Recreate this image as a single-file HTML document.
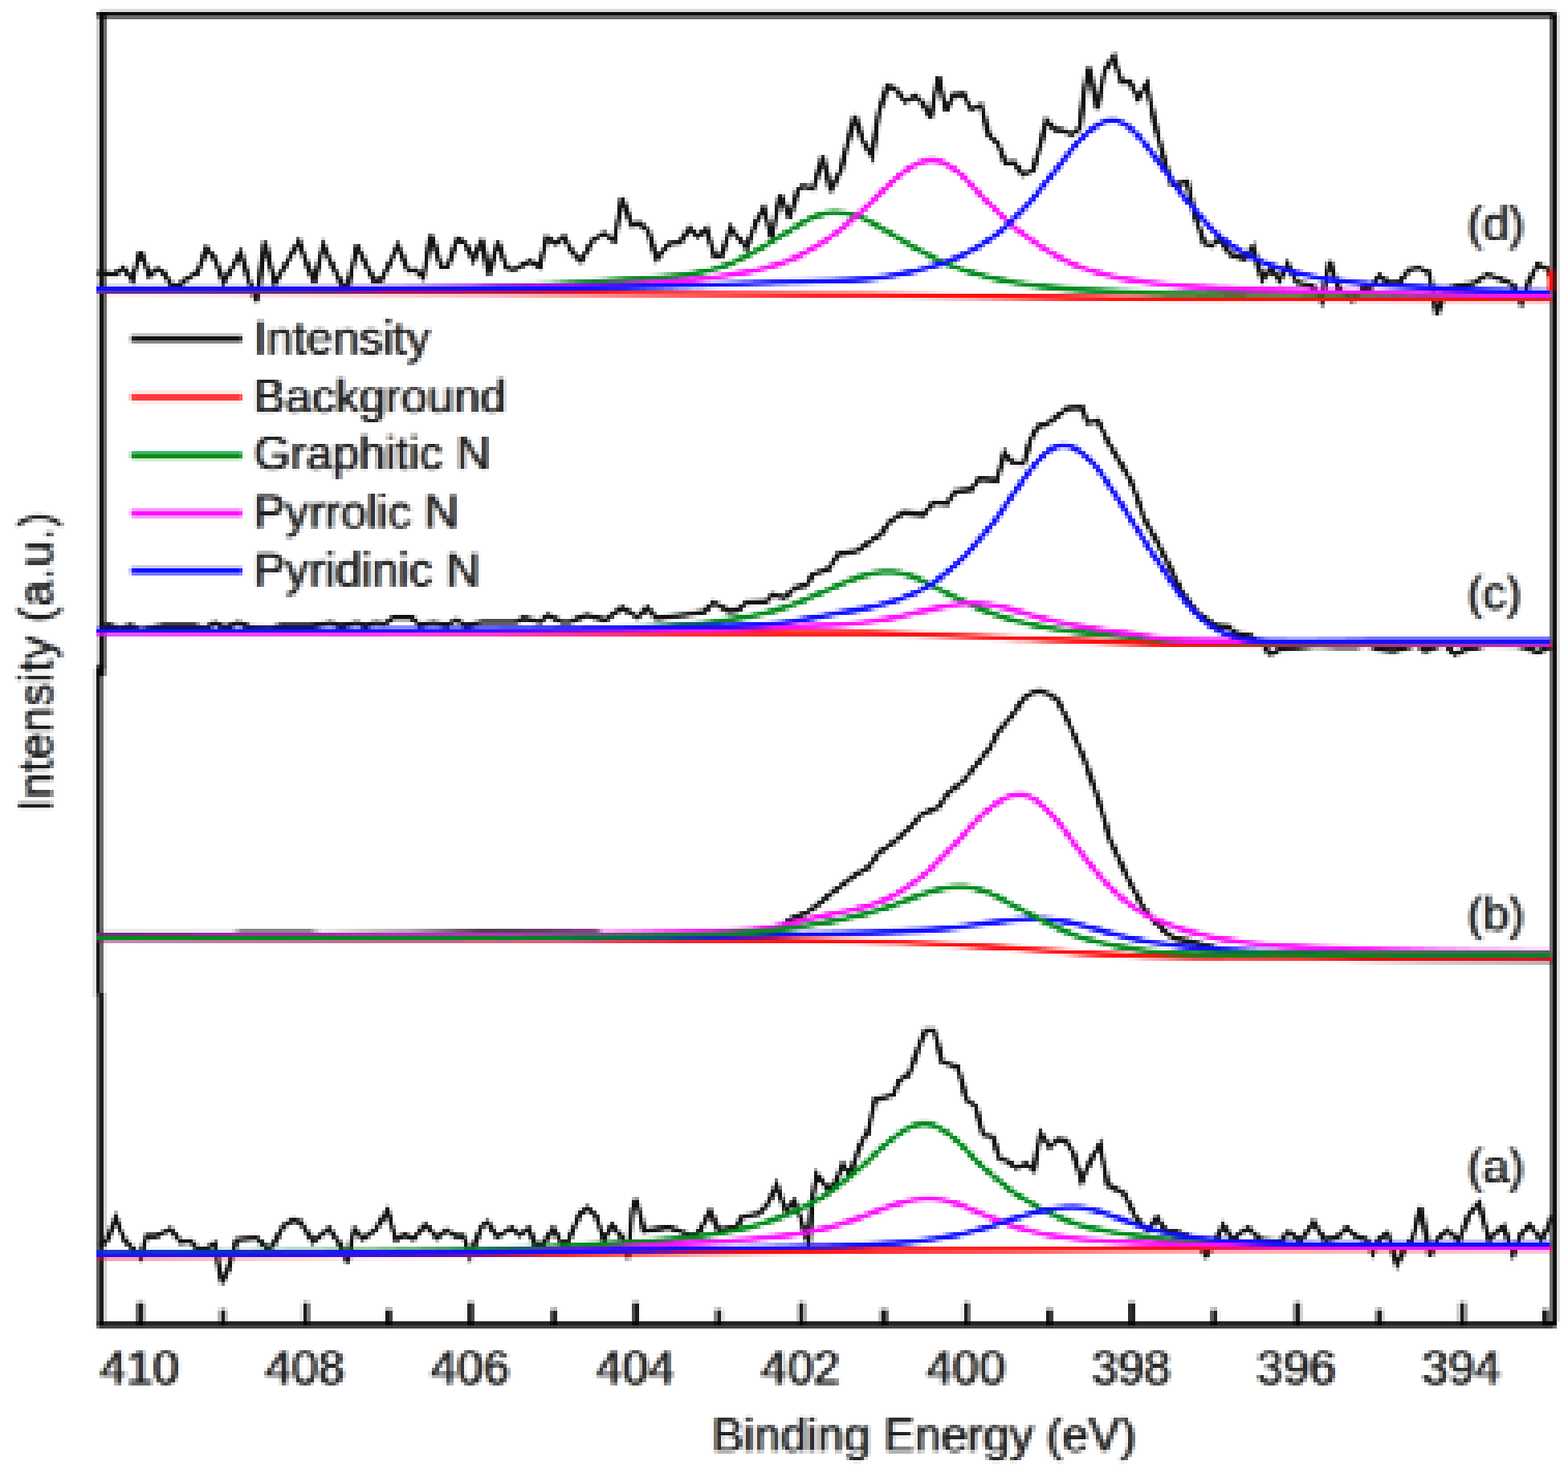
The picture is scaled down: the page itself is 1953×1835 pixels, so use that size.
<!DOCTYPE html>
<html lang="en">
<head>
<meta charset="utf-8">
<title>XPS N 1s spectra</title>
<style>
html, body { margin: 0; padding: 0; background: #ffffff; }
body { width: 1953px; height: 1835px; overflow: hidden; }
svg { display: block; }
</style>
</head>
<body>
<svg width="1953" height="1835" viewBox="0 0 1953 1835">
<defs>
<filter id="lcd" x="0" y="0" width="1953" height="1835" filterUnits="userSpaceOnUse" color-interpolation-filters="sRGB"><feGaussianBlur stdDeviation="1.00 0"/></filter>
<filter id="soft" x="0" y="0" width="1953" height="1835" filterUnits="userSpaceOnUse" primitiveUnits="userSpaceOnUse" color-interpolation-filters="sRGB">
<feGaussianBlur in="SourceGraphic" stdDeviation="1.30" result="src"/>
<feFlood x="0" y="0" width="1" height="1835" flood-color="rgb(210,0,0)" result="x0"/>
<feFlood x="1" y="0" width="1" height="1835" flood-color="rgb(156,0,0)" result="x1"/>
<feFlood x="2" y="0" width="1" height="1835" flood-color="rgb(102,0,0)" result="x2"/>
<feFlood x="3" y="0" width="1" height="1835" flood-color="rgb(48,0,0)" result="x3"/>
<feFlood x="4" y="0" width="1" height="1835" flood-color="rgb(235,0,0)" result="x4"/>
<feFlood x="5" y="0" width="1" height="1835" flood-color="rgb(180,0,0)" result="x5"/>
<feFlood x="6" y="0" width="1" height="1835" flood-color="rgb(126,0,0)" result="x6"/>
<feFlood x="7" y="0" width="1" height="1835" flood-color="rgb(72,0,0)" result="x7"/>
<feFlood x="8" y="0" width="1" height="1835" flood-color="rgb(18,0,0)" result="x8"/>
<feFlood x="9" y="0" width="1" height="1835" flood-color="rgb(205,0,0)" result="x9"/>
<feFlood x="10" y="0" width="1" height="1835" flood-color="rgb(150,0,0)" result="x10"/>
<feFlood x="11" y="0" width="1" height="1835" flood-color="rgb(96,0,0)" result="x11"/>
<feFlood x="12" y="0" width="1" height="1835" flood-color="rgb(42,0,0)" result="x12"/>
<feFlood x="13" y="0" width="1" height="1835" flood-color="rgb(229,0,0)" result="x13"/>
<feFlood x="14" y="0" width="1" height="1835" flood-color="rgb(175,0,0)" result="x14"/>
<feFlood x="15" y="0" width="1" height="1835" flood-color="rgb(120,0,0)" result="x15"/>
<feFlood x="16" y="0" width="1" height="1835" flood-color="rgb(66,0,0)" result="x16"/>
<feFlood x="17" y="0" width="1" height="1835" flood-color="rgb(12,0,0)" result="x17"/>
<feFlood x="18" y="0" width="1" height="1835" flood-color="rgb(199,0,0)" result="x18"/>
<feFlood x="19" y="0" width="1" height="1835" flood-color="rgb(145,0,0)" result="x19"/>
<feFlood x="20" y="0" width="1" height="1835" flood-color="rgb(90,0,0)" result="x20"/>
<feFlood x="21" y="0" width="1" height="1835" flood-color="rgb(36,0,0)" result="x21"/>
<feFlood x="22" y="0" width="1" height="1835" flood-color="rgb(223,0,0)" result="x22"/>
<feFlood x="23" y="0" width="1" height="1835" flood-color="rgb(169,0,0)" result="x23"/>
<feFlood x="24" y="0" width="1" height="1835" flood-color="rgb(115,0,0)" result="x24"/>
<feFlood x="25" y="0" width="1" height="1835" flood-color="rgb(60,0,0)" result="x25"/>
<feFlood x="26" y="0" width="1" height="1835" flood-color="rgb(247,0,0)" result="x26"/>
<feFlood x="27" y="0" width="1" height="1835" flood-color="rgb(193,0,0)" result="x27"/>
<feFlood x="28" y="0" width="1" height="1835" flood-color="rgb(139,0,0)" result="x28"/>
<feFlood x="29" y="0" width="1" height="1835" flood-color="rgb(85,0,0)" result="x29"/>
<feFlood x="30" y="0" width="1" height="1835" flood-color="rgb(30,0,0)" result="x30"/>
<feFlood x="31" y="0" width="1" height="1835" flood-color="rgb(217,0,0)" result="x31"/>
<feFlood x="32" y="0" width="1" height="1835" flood-color="rgb(163,0,0)" result="x32"/>
<feFlood x="33" y="0" width="1" height="1835" flood-color="rgb(109,0,0)" result="x33"/>
<feFlood x="34" y="0" width="1" height="1835" flood-color="rgb(55,0,0)" result="x34"/>
<feFlood x="35" y="0" width="1" height="1835" flood-color="rgb(242,0,0)" result="x35"/>
<feFlood x="36" y="0" width="1" height="1835" flood-color="rgb(187,0,0)" result="x36"/>
<feFlood x="37" y="0" width="1" height="1835" flood-color="rgb(133,0,0)" result="x37"/>
<feFlood x="38" y="0" width="1" height="1835" flood-color="rgb(79,0,0)" result="x38"/>
<feFlood x="39" y="0" width="1" height="1835" flood-color="rgb(25,0,0)" result="x39"/>
<feFlood x="40" y="0" width="1" height="1835" flood-color="rgb(212,0,0)" result="x40"/>
<feFlood x="41" y="0" width="1" height="1835" flood-color="rgb(157,0,0)" result="x41"/>
<feFlood x="42" y="0" width="1" height="1835" flood-color="rgb(103,0,0)" result="x42"/>
<feFlood x="43" y="0" width="1" height="1835" flood-color="rgb(49,0,0)" result="x43"/>
<feFlood x="44" y="0" width="1" height="1835" flood-color="rgb(236,0,0)" result="x44"/>
<feFlood x="45" y="0" width="1" height="1835" flood-color="rgb(182,0,0)" result="x45"/>
<feFlood x="46" y="0" width="1" height="1835" flood-color="rgb(128,0,0)" result="x46"/>
<feFlood x="47" y="0" width="1" height="1835" flood-color="rgb(73,0,0)" result="x47"/>
<feFlood x="48" y="0" width="1" height="1835" flood-color="rgb(19,0,0)" result="x48"/>
<feFlood x="49" y="0" width="1" height="1835" flood-color="rgb(206,0,0)" result="x49"/>
<feFlood x="50" y="0" width="1" height="1835" flood-color="rgb(152,0,0)" result="x50"/>
<feFlood x="51" y="0" width="1" height="1835" flood-color="rgb(98,0,0)" result="x51"/>
<feFlood x="52" y="0" width="1" height="1835" flood-color="rgb(43,0,0)" result="x52"/>
<feFlood x="53" y="0" width="1" height="1835" flood-color="rgb(230,0,0)" result="x53"/>
<feFlood x="54" y="0" width="1" height="1835" flood-color="rgb(176,0,0)" result="x54"/>
<feFlood x="55" y="0" width="1" height="1835" flood-color="rgb(122,0,0)" result="x55"/>
<feFlood x="56" y="0" width="1" height="1835" flood-color="rgb(68,0,0)" result="x56"/>
<feFlood x="57" y="0" width="1" height="1835" flood-color="rgb(13,0,0)" result="x57"/>
<feFlood x="58" y="0" width="1" height="1835" flood-color="rgb(200,0,0)" result="x58"/>
<feFlood x="59" y="0" width="1" height="1835" flood-color="rgb(146,0,0)" result="x59"/>
<feFlood x="60" y="0" width="1" height="1835" flood-color="rgb(92,0,0)" result="x60"/>
<feFlood x="61" y="0" width="1" height="1835" flood-color="rgb(38,0,0)" result="x61"/>
<feFlood x="62" y="0" width="1" height="1835" flood-color="rgb(225,0,0)" result="x62"/>
<feFlood x="63" y="0" width="1" height="1835" flood-color="rgb(170,0,0)" result="x63"/>
<feFlood x="64" y="0" width="1" height="1835" flood-color="rgb(116,0,0)" result="x64"/>
<feFlood x="65" y="0" width="1" height="1835" flood-color="rgb(62,0,0)" result="x65"/>
<feFlood x="66" y="0" width="1" height="1835" flood-color="rgb(8,0,0)" result="x66"/>
<feFlood x="67" y="0" width="1" height="1835" flood-color="rgb(195,0,0)" result="x67"/>
<feFlood x="68" y="0" width="1" height="1835" flood-color="rgb(140,0,0)" result="x68"/>
<feFlood x="69" y="0" width="1" height="1835" flood-color="rgb(86,0,0)" result="x69"/>
<feFlood x="70" y="0" width="1" height="1835" flood-color="rgb(32,0,0)" result="x70"/>
<feFlood x="71" y="0" width="1" height="1835" flood-color="rgb(219,0,0)" result="x71"/>
<feFlood x="72" y="0" width="1" height="1835" flood-color="rgb(165,0,0)" result="x72"/>
<feFlood x="73" y="0" width="1" height="1835" flood-color="rgb(110,0,0)" result="x73"/>
<feFlood x="74" y="0" width="1" height="1835" flood-color="rgb(56,0,0)" result="x74"/>
<feFlood x="75" y="0" width="1" height="1835" flood-color="rgb(243,0,0)" result="x75"/>
<feFlood x="76" y="0" width="1" height="1835" flood-color="rgb(189,0,0)" result="x76"/>
<feFlood x="77" y="0" width="1" height="1835" flood-color="rgb(135,0,0)" result="x77"/>
<feFlood x="78" y="0" width="1" height="1835" flood-color="rgb(80,0,0)" result="x78"/>
<feFlood x="79" y="0" width="1" height="1835" flood-color="rgb(26,0,0)" result="x79"/>
<feFlood x="80" y="0" width="1" height="1835" flood-color="rgb(213,0,0)" result="x80"/>
<feFlood x="81" y="0" width="1" height="1835" flood-color="rgb(159,0,0)" result="x81"/>
<feFlood x="82" y="0" width="1" height="1835" flood-color="rgb(105,0,0)" result="x82"/>
<feFlood x="83" y="0" width="1" height="1835" flood-color="rgb(50,0,0)" result="x83"/>
<feFlood x="84" y="0" width="1" height="1835" flood-color="rgb(237,0,0)" result="x84"/>
<feFlood x="85" y="0" width="1" height="1835" flood-color="rgb(183,0,0)" result="x85"/>
<feFlood x="86" y="0" width="1" height="1835" flood-color="rgb(129,0,0)" result="x86"/>
<feFlood x="87" y="0" width="1" height="1835" flood-color="rgb(75,0,0)" result="x87"/>
<feFlood x="88" y="0" width="1" height="1835" flood-color="rgb(20,0,0)" result="x88"/>
<feFlood x="89" y="0" width="1" height="1835" flood-color="rgb(207,0,0)" result="x89"/>
<feFlood x="90" y="0" width="1" height="1835" flood-color="rgb(153,0,0)" result="x90"/>
<feFlood x="91" y="0" width="1" height="1835" flood-color="rgb(99,0,0)" result="x91"/>
<feFlood x="92" y="0" width="1" height="1835" flood-color="rgb(45,0,0)" result="x92"/>
<feFlood x="93" y="0" width="1" height="1835" flood-color="rgb(232,0,0)" result="x93"/>
<feFlood x="94" y="0" width="1" height="1835" flood-color="rgb(177,0,0)" result="x94"/>
<feFlood x="95" y="0" width="1" height="1835" flood-color="rgb(123,0,0)" result="x95"/>
<feFlood x="96" y="0" width="1" height="1835" flood-color="rgb(69,0,0)" result="x96"/>
<feFlood x="97" y="0" width="1" height="1835" flood-color="rgb(15,0,0)" result="x97"/>
<feFlood x="98" y="0" width="1" height="1835" flood-color="rgb(202,0,0)" result="x98"/>
<feFlood x="99" y="0" width="1" height="1835" flood-color="rgb(147,0,0)" result="x99"/>
<feFlood x="100" y="0" width="1" height="1835" flood-color="rgb(93,0,0)" result="x100"/>
<feFlood x="101" y="0" width="1" height="1835" flood-color="rgb(39,0,0)" result="x101"/>
<feFlood x="102" y="0" width="1" height="1835" flood-color="rgb(226,0,0)" result="x102"/>
<feFlood x="103" y="0" width="1" height="1835" flood-color="rgb(172,0,0)" result="x103"/>
<feFlood x="104" y="0" width="1" height="1835" flood-color="rgb(118,0,0)" result="x104"/>
<feFlood x="105" y="0" width="1" height="1835" flood-color="rgb(63,0,0)" result="x105"/>
<feFlood x="106" y="0" width="1" height="1835" flood-color="rgb(9,0,0)" result="x106"/>
<feFlood x="107" y="0" width="1" height="1835" flood-color="rgb(196,0,0)" result="x107"/>
<feFlood x="108" y="0" width="1" height="1835" flood-color="rgb(142,0,0)" result="x108"/>
<feFlood x="109" y="0" width="1" height="1835" flood-color="rgb(88,0,0)" result="x109"/>
<feFlood x="110" y="0" width="1" height="1835" flood-color="rgb(33,0,0)" result="x110"/>
<feFlood x="111" y="0" width="1" height="1835" flood-color="rgb(220,0,0)" result="x111"/>
<feFlood x="112" y="0" width="1" height="1835" flood-color="rgb(166,0,0)" result="x112"/>
<feFlood x="113" y="0" width="1" height="1835" flood-color="rgb(112,0,0)" result="x113"/>
<feFlood x="114" y="0" width="1" height="1835" flood-color="rgb(58,0,0)" result="x114"/>
<feFlood x="115" y="0" width="1" height="1835" flood-color="rgb(245,0,0)" result="x115"/>
<feFlood x="116" y="0" width="1" height="1835" flood-color="rgb(190,0,0)" result="x116"/>
<feFlood x="117" y="0" width="1" height="1835" flood-color="rgb(136,0,0)" result="x117"/>
<feFlood x="118" y="0" width="1" height="1835" flood-color="rgb(82,0,0)" result="x118"/>
<feFlood x="119" y="0" width="1" height="1835" flood-color="rgb(28,0,0)" result="x119"/>
<feFlood x="120" y="0" width="1" height="1835" flood-color="rgb(215,0,0)" result="x120"/>
<feFlood x="121" y="0" width="1" height="1835" flood-color="rgb(160,0,0)" result="x121"/>
<feFlood x="122" y="0" width="1" height="1835" flood-color="rgb(106,0,0)" result="x122"/>
<feFlood x="123" y="0" width="1" height="1835" flood-color="rgb(52,0,0)" result="x123"/>
<feFlood x="124" y="0" width="1" height="1835" flood-color="rgb(239,0,0)" result="x124"/>
<feFlood x="125" y="0" width="1" height="1835" flood-color="rgb(185,0,0)" result="x125"/>
<feFlood x="126" y="0" width="1" height="1835" flood-color="rgb(130,0,0)" result="x126"/>
<feFlood x="127" y="0" width="1" height="1835" flood-color="rgb(76,0,0)" result="x127"/>
<feFlood x="128" y="0" width="1" height="1835" flood-color="rgb(22,0,0)" result="x128"/>
<feFlood x="129" y="0" width="1" height="1835" flood-color="rgb(209,0,0)" result="x129"/>
<feFlood x="130" y="0" width="1" height="1835" flood-color="rgb(155,0,0)" result="x130"/>
<feFlood x="131" y="0" width="1" height="1835" flood-color="rgb(100,0,0)" result="x131"/>
<feFlood x="132" y="0" width="1" height="1835" flood-color="rgb(46,0,0)" result="x132"/>
<feFlood x="133" y="0" width="1" height="1835" flood-color="rgb(233,0,0)" result="x133"/>
<feFlood x="134" y="0" width="1" height="1835" flood-color="rgb(179,0,0)" result="x134"/>
<feFlood x="135" y="0" width="1" height="1835" flood-color="rgb(125,0,0)" result="x135"/>
<feFlood x="136" y="0" width="1" height="1835" flood-color="rgb(70,0,0)" result="x136"/>
<feFlood x="137" y="0" width="1" height="1835" flood-color="rgb(16,0,0)" result="x137"/>
<feFlood x="138" y="0" width="1" height="1835" flood-color="rgb(203,0,0)" result="x138"/>
<feFlood x="139" y="0" width="1" height="1835" flood-color="rgb(149,0,0)" result="x139"/>
<feFlood x="140" y="0" width="1" height="1835" flood-color="rgb(95,0,0)" result="x140"/>
<feFlood x="141" y="0" width="1" height="1835" flood-color="rgb(40,0,0)" result="x141"/>
<feFlood x="142" y="0" width="1" height="1835" flood-color="rgb(227,0,0)" result="x142"/>
<feFlood x="143" y="0" width="1" height="1835" flood-color="rgb(173,0,0)" result="x143"/>
<feFlood x="144" y="0" width="1" height="1835" flood-color="rgb(119,0,0)" result="x144"/>
<feFlood x="145" y="0" width="1" height="1835" flood-color="rgb(65,0,0)" result="x145"/>
<feFlood x="146" y="0" width="1" height="1835" flood-color="rgb(10,0,0)" result="x146"/>
<feFlood x="147" y="0" width="1" height="1835" flood-color="rgb(197,0,0)" result="x147"/>
<feFlood x="148" y="0" width="1" height="1835" flood-color="rgb(143,0,0)" result="x148"/>
<feFlood x="149" y="0" width="1" height="1835" flood-color="rgb(89,0,0)" result="x149"/>
<feFlood x="150" y="0" width="1" height="1835" flood-color="rgb(35,0,0)" result="x150"/>
<feFlood x="151" y="0" width="1" height="1835" flood-color="rgb(222,0,0)" result="x151"/>
<feFlood x="152" y="0" width="1" height="1835" flood-color="rgb(167,0,0)" result="x152"/>
<feFlood x="153" y="0" width="1" height="1835" flood-color="rgb(113,0,0)" result="x153"/>
<feFlood x="154" y="0" width="1" height="1835" flood-color="rgb(59,0,0)" result="x154"/>
<feFlood x="155" y="0" width="1" height="1835" flood-color="rgb(246,0,0)" result="x155"/>
<feFlood x="156" y="0" width="1" height="1835" flood-color="rgb(192,0,0)" result="x156"/>
<feFlood x="157" y="0" width="1" height="1835" flood-color="rgb(137,0,0)" result="x157"/>
<feFlood x="158" y="0" width="1" height="1835" flood-color="rgb(83,0,0)" result="x158"/>
<feFlood x="159" y="0" width="1" height="1835" flood-color="rgb(29,0,0)" result="x159"/>
<feFlood x="160" y="0" width="1" height="1835" flood-color="rgb(216,0,0)" result="x160"/>
<feFlood x="161" y="0" width="1" height="1835" flood-color="rgb(162,0,0)" result="x161"/>
<feFlood x="162" y="0" width="1" height="1835" flood-color="rgb(108,0,0)" result="x162"/>
<feFlood x="163" y="0" width="1" height="1835" flood-color="rgb(53,0,0)" result="x163"/>
<feFlood x="164" y="0" width="1" height="1835" flood-color="rgb(240,0,0)" result="x164"/>
<feFlood x="165" y="0" width="1" height="1835" flood-color="rgb(186,0,0)" result="x165"/>
<feFlood x="166" y="0" width="1" height="1835" flood-color="rgb(132,0,0)" result="x166"/>
<feFlood x="167" y="0" width="1" height="1835" flood-color="rgb(78,0,0)" result="x167"/>
<feFlood x="168" y="0" width="1" height="1835" flood-color="rgb(23,0,0)" result="x168"/>
<feMerge x="0" y="0" width="169" height="1835" result="sx"><feMergeNode in="x0"/><feMergeNode in="x1"/><feMergeNode in="x2"/><feMergeNode in="x3"/><feMergeNode in="x4"/><feMergeNode in="x5"/><feMergeNode in="x6"/><feMergeNode in="x7"/><feMergeNode in="x8"/><feMergeNode in="x9"/><feMergeNode in="x10"/><feMergeNode in="x11"/><feMergeNode in="x12"/><feMergeNode in="x13"/><feMergeNode in="x14"/><feMergeNode in="x15"/><feMergeNode in="x16"/><feMergeNode in="x17"/><feMergeNode in="x18"/><feMergeNode in="x19"/><feMergeNode in="x20"/><feMergeNode in="x21"/><feMergeNode in="x22"/><feMergeNode in="x23"/><feMergeNode in="x24"/><feMergeNode in="x25"/><feMergeNode in="x26"/><feMergeNode in="x27"/><feMergeNode in="x28"/><feMergeNode in="x29"/><feMergeNode in="x30"/><feMergeNode in="x31"/><feMergeNode in="x32"/><feMergeNode in="x33"/><feMergeNode in="x34"/><feMergeNode in="x35"/><feMergeNode in="x36"/><feMergeNode in="x37"/><feMergeNode in="x38"/><feMergeNode in="x39"/><feMergeNode in="x40"/><feMergeNode in="x41"/><feMergeNode in="x42"/><feMergeNode in="x43"/><feMergeNode in="x44"/><feMergeNode in="x45"/><feMergeNode in="x46"/><feMergeNode in="x47"/><feMergeNode in="x48"/><feMergeNode in="x49"/><feMergeNode in="x50"/><feMergeNode in="x51"/><feMergeNode in="x52"/><feMergeNode in="x53"/><feMergeNode in="x54"/><feMergeNode in="x55"/><feMergeNode in="x56"/><feMergeNode in="x57"/><feMergeNode in="x58"/><feMergeNode in="x59"/><feMergeNode in="x60"/><feMergeNode in="x61"/><feMergeNode in="x62"/><feMergeNode in="x63"/><feMergeNode in="x64"/><feMergeNode in="x65"/><feMergeNode in="x66"/><feMergeNode in="x67"/><feMergeNode in="x68"/><feMergeNode in="x69"/><feMergeNode in="x70"/><feMergeNode in="x71"/><feMergeNode in="x72"/><feMergeNode in="x73"/><feMergeNode in="x74"/><feMergeNode in="x75"/><feMergeNode in="x76"/><feMergeNode in="x77"/><feMergeNode in="x78"/><feMergeNode in="x79"/><feMergeNode in="x80"/><feMergeNode in="x81"/><feMergeNode in="x82"/><feMergeNode in="x83"/><feMergeNode in="x84"/><feMergeNode in="x85"/><feMergeNode in="x86"/><feMergeNode in="x87"/><feMergeNode in="x88"/><feMergeNode in="x89"/><feMergeNode in="x90"/><feMergeNode in="x91"/><feMergeNode in="x92"/><feMergeNode in="x93"/><feMergeNode in="x94"/><feMergeNode in="x95"/><feMergeNode in="x96"/><feMergeNode in="x97"/><feMergeNode in="x98"/><feMergeNode in="x99"/><feMergeNode in="x100"/><feMergeNode in="x101"/><feMergeNode in="x102"/><feMergeNode in="x103"/><feMergeNode in="x104"/><feMergeNode in="x105"/><feMergeNode in="x106"/><feMergeNode in="x107"/><feMergeNode in="x108"/><feMergeNode in="x109"/><feMergeNode in="x110"/><feMergeNode in="x111"/><feMergeNode in="x112"/><feMergeNode in="x113"/><feMergeNode in="x114"/><feMergeNode in="x115"/><feMergeNode in="x116"/><feMergeNode in="x117"/><feMergeNode in="x118"/><feMergeNode in="x119"/><feMergeNode in="x120"/><feMergeNode in="x121"/><feMergeNode in="x122"/><feMergeNode in="x123"/><feMergeNode in="x124"/><feMergeNode in="x125"/><feMergeNode in="x126"/><feMergeNode in="x127"/><feMergeNode in="x128"/><feMergeNode in="x129"/><feMergeNode in="x130"/><feMergeNode in="x131"/><feMergeNode in="x132"/><feMergeNode in="x133"/><feMergeNode in="x134"/><feMergeNode in="x135"/><feMergeNode in="x136"/><feMergeNode in="x137"/><feMergeNode in="x138"/><feMergeNode in="x139"/><feMergeNode in="x140"/><feMergeNode in="x141"/><feMergeNode in="x142"/><feMergeNode in="x143"/><feMergeNode in="x144"/><feMergeNode in="x145"/><feMergeNode in="x146"/><feMergeNode in="x147"/><feMergeNode in="x148"/><feMergeNode in="x149"/><feMergeNode in="x150"/><feMergeNode in="x151"/><feMergeNode in="x152"/><feMergeNode in="x153"/><feMergeNode in="x154"/><feMergeNode in="x155"/><feMergeNode in="x156"/><feMergeNode in="x157"/><feMergeNode in="x158"/><feMergeNode in="x159"/><feMergeNode in="x160"/><feMergeNode in="x161"/><feMergeNode in="x162"/><feMergeNode in="x163"/><feMergeNode in="x164"/><feMergeNode in="x165"/><feMergeNode in="x166"/><feMergeNode in="x167"/><feMergeNode in="x168"/></feMerge>
<feTile in="sx" x="0" y="0" width="1953" height="1835" result="tx"/>
<feFlood x="0" y="0" width="1953" height="1" flood-color="rgb(0,71,0)" result="y0"/>
<feFlood x="0" y="1" width="1953" height="1" flood-color="rgb(0,17,0)" result="y1"/>
<feFlood x="0" y="2" width="1953" height="1" flood-color="rgb(0,204,0)" result="y2"/>
<feFlood x="0" y="3" width="1953" height="1" flood-color="rgb(0,150,0)" result="y3"/>
<feFlood x="0" y="4" width="1953" height="1" flood-color="rgb(0,96,0)" result="y4"/>
<feFlood x="0" y="5" width="1953" height="1" flood-color="rgb(0,41,0)" result="y5"/>
<feFlood x="0" y="6" width="1953" height="1" flood-color="rgb(0,228,0)" result="y6"/>
<feFlood x="0" y="7" width="1953" height="1" flood-color="rgb(0,174,0)" result="y7"/>
<feFlood x="0" y="8" width="1953" height="1" flood-color="rgb(0,120,0)" result="y8"/>
<feFlood x="0" y="9" width="1953" height="1" flood-color="rgb(0,65,0)" result="y9"/>
<feFlood x="0" y="10" width="1953" height="1" flood-color="rgb(0,11,0)" result="y10"/>
<feFlood x="0" y="11" width="1953" height="1" flood-color="rgb(0,198,0)" result="y11"/>
<feFlood x="0" y="12" width="1953" height="1" flood-color="rgb(0,144,0)" result="y12"/>
<feFlood x="0" y="13" width="1953" height="1" flood-color="rgb(0,90,0)" result="y13"/>
<feFlood x="0" y="14" width="1953" height="1" flood-color="rgb(0,35,0)" result="y14"/>
<feFlood x="0" y="15" width="1953" height="1" flood-color="rgb(0,222,0)" result="y15"/>
<feFlood x="0" y="16" width="1953" height="1" flood-color="rgb(0,168,0)" result="y16"/>
<feFlood x="0" y="17" width="1953" height="1" flood-color="rgb(0,114,0)" result="y17"/>
<feFlood x="0" y="18" width="1953" height="1" flood-color="rgb(0,59,0)" result="y18"/>
<feFlood x="0" y="19" width="1953" height="1" flood-color="rgb(0,246,0)" result="y19"/>
<feFlood x="0" y="20" width="1953" height="1" flood-color="rgb(0,192,0)" result="y20"/>
<feFlood x="0" y="21" width="1953" height="1" flood-color="rgb(0,138,0)" result="y21"/>
<feFlood x="0" y="22" width="1953" height="1" flood-color="rgb(0,84,0)" result="y22"/>
<feFlood x="0" y="23" width="1953" height="1" flood-color="rgb(0,29,0)" result="y23"/>
<feFlood x="0" y="24" width="1953" height="1" flood-color="rgb(0,216,0)" result="y24"/>
<feFlood x="0" y="25" width="1953" height="1" flood-color="rgb(0,162,0)" result="y25"/>
<feFlood x="0" y="26" width="1953" height="1" flood-color="rgb(0,108,0)" result="y26"/>
<feFlood x="0" y="27" width="1953" height="1" flood-color="rgb(0,53,0)" result="y27"/>
<feFlood x="0" y="28" width="1953" height="1" flood-color="rgb(0,240,0)" result="y28"/>
<feFlood x="0" y="29" width="1953" height="1" flood-color="rgb(0,186,0)" result="y29"/>
<feFlood x="0" y="30" width="1953" height="1" flood-color="rgb(0,132,0)" result="y30"/>
<feFlood x="0" y="31" width="1953" height="1" flood-color="rgb(0,78,0)" result="y31"/>
<feFlood x="0" y="32" width="1953" height="1" flood-color="rgb(0,23,0)" result="y32"/>
<feFlood x="0" y="33" width="1953" height="1" flood-color="rgb(0,210,0)" result="y33"/>
<feFlood x="0" y="34" width="1953" height="1" flood-color="rgb(0,156,0)" result="y34"/>
<feFlood x="0" y="35" width="1953" height="1" flood-color="rgb(0,102,0)" result="y35"/>
<feFlood x="0" y="36" width="1953" height="1" flood-color="rgb(0,47,0)" result="y36"/>
<feFlood x="0" y="37" width="1953" height="1" flood-color="rgb(0,234,0)" result="y37"/>
<feFlood x="0" y="38" width="1953" height="1" flood-color="rgb(0,180,0)" result="y38"/>
<feFlood x="0" y="39" width="1953" height="1" flood-color="rgb(0,126,0)" result="y39"/>
<feMerge x="0" y="0" width="1953" height="40" result="sy"><feMergeNode in="y0"/><feMergeNode in="y1"/><feMergeNode in="y2"/><feMergeNode in="y3"/><feMergeNode in="y4"/><feMergeNode in="y5"/><feMergeNode in="y6"/><feMergeNode in="y7"/><feMergeNode in="y8"/><feMergeNode in="y9"/><feMergeNode in="y10"/><feMergeNode in="y11"/><feMergeNode in="y12"/><feMergeNode in="y13"/><feMergeNode in="y14"/><feMergeNode in="y15"/><feMergeNode in="y16"/><feMergeNode in="y17"/><feMergeNode in="y18"/><feMergeNode in="y19"/><feMergeNode in="y20"/><feMergeNode in="y21"/><feMergeNode in="y22"/><feMergeNode in="y23"/><feMergeNode in="y24"/><feMergeNode in="y25"/><feMergeNode in="y26"/><feMergeNode in="y27"/><feMergeNode in="y28"/><feMergeNode in="y29"/><feMergeNode in="y30"/><feMergeNode in="y31"/><feMergeNode in="y32"/><feMergeNode in="y33"/><feMergeNode in="y34"/><feMergeNode in="y35"/><feMergeNode in="y36"/><feMergeNode in="y37"/><feMergeNode in="y38"/><feMergeNode in="y39"/></feMerge>
<feTile in="sy" x="0" y="0" width="1953" height="1835" result="ty"/>
<feComposite in="tx" in2="ty" operator="arithmetic" k1="0" k2="1" k3="1" k4="0" result="map"/>
<feDisplacementMap in="src" in2="map" scale="4.7000" xChannelSelector="R" yChannelSelector="G"/>
</filter>
</defs>
<rect x="0" y="0" width="1953" height="1835" fill="#ffffff"/>
<g filter="url(#soft)">
<rect x="0" y="0" width="1953" height="1835" fill="#ffffff"/>
<rect x="124.33" y="10.58" width="1814.53" height="4.44" fill="#dadada"/>
<rect x="119.88" y="15.02" width="1818.97" height="4.44" fill="#050505"/>
<rect x="119.88" y="19.47" width="1818.97" height="4.44" fill="#6a6a6a"/>
<rect x="1938.86" y="15.02" width="4.45" height="1631.11" fill="#d6d6d6"/>
<rect x="1929.96" y="23.91" width="4.45" height="1622.22" fill="#727272"/>
<rect x="1934.41" y="19.47" width="4.45" height="1631.11" fill="#070707"/>
<rect x="119.88" y="23.91" width="4.45" height="804.44" fill="#dadada"/>
<rect x="124.33" y="15.02" width="4.45" height="826.67" fill="#080808"/>
<rect x="128.78" y="23.91" width="4.45" height="817.78" fill="#6a6a6a"/>
<rect x="115.43" y="832.80" width="4.45" height="408.89" fill="#e4e4e4"/>
<rect x="119.88" y="828.36" width="4.45" height="413.33" fill="#0c0c0c"/>
<rect x="124.33" y="841.69" width="4.45" height="395.56" fill="#646464"/>
<rect x="119.88" y="1241.69" width="4.45" height="404.44" fill="#626262"/>
<rect x="124.33" y="1237.25" width="4.45" height="408.89" fill="#101010"/>
<rect x="128.78" y="1237.25" width="4.45" height="408.89" fill="#d6d6d6"/>
<rect x="119.88" y="1646.13" width="1818.97" height="4.44" fill="#1e1e1e"/>
<rect x="119.88" y="1650.58" width="1818.97" height="4.44" fill="#404040"/>
<rect x="171.10" y="1622.30" width="7.80" height="23.83" fill="#1c1c1c"/>
<rect x="274.00" y="1631.00" width="7.80" height="15.13" fill="#1c1c1c"/>
<rect x="376.90" y="1622.30" width="7.80" height="23.83" fill="#1c1c1c"/>
<rect x="479.80" y="1631.00" width="7.80" height="15.13" fill="#1c1c1c"/>
<rect x="582.70" y="1622.30" width="7.80" height="23.83" fill="#1c1c1c"/>
<rect x="685.60" y="1631.00" width="7.80" height="15.13" fill="#1c1c1c"/>
<rect x="788.50" y="1622.30" width="7.80" height="23.83" fill="#1c1c1c"/>
<rect x="891.40" y="1631.00" width="7.80" height="15.13" fill="#1c1c1c"/>
<rect x="994.30" y="1622.30" width="7.80" height="23.83" fill="#1c1c1c"/>
<rect x="1097.20" y="1631.00" width="7.80" height="15.13" fill="#1c1c1c"/>
<rect x="1200.10" y="1622.30" width="7.80" height="23.83" fill="#1c1c1c"/>
<rect x="1303.00" y="1631.00" width="7.80" height="15.13" fill="#1c1c1c"/>
<rect x="1405.90" y="1622.30" width="7.80" height="23.83" fill="#1c1c1c"/>
<rect x="1508.80" y="1631.00" width="7.80" height="15.13" fill="#1c1c1c"/>
<rect x="1611.70" y="1622.30" width="7.80" height="23.83" fill="#1c1c1c"/>
<rect x="1714.60" y="1631.00" width="7.80" height="15.13" fill="#1c1c1c"/>
<rect x="1817.50" y="1622.30" width="7.80" height="23.83" fill="#1c1c1c"/>
<rect x="1920.40" y="1631.00" width="7.80" height="15.13" fill="#1c1c1c"/>
<rect x="119.88" y="15.02" width="4.45" height="4.44" fill="#333333"/>
<rect x="119.88" y="19.47" width="4.45" height="4.44" fill="#888888"/>
<rect x="124.33" y="15.02" width="8.89" height="4.44" fill="#050505"/>
<rect x="124.33" y="19.47" width="4.45" height="4.44" fill="#050505"/>
<rect x="128.78" y="19.47" width="4.45" height="4.44" fill="#202020"/>
<rect x="1934.41" y="10.58" width="4.45" height="4.44" fill="#e6e6e6"/>
<rect x="1934.41" y="15.02" width="4.45" height="4.44" fill="#333333"/>
<rect x="1929.96" y="19.47" width="4.45" height="4.44" fill="#222222"/>
<rect x="1934.41" y="19.47" width="4.45" height="4.44" fill="#050505"/>
<rect x="1938.86" y="15.02" width="4.45" height="4.44" fill="#e8e8e8"/>
<rect x="119.88" y="1646.13" width="4.45" height="4.44" fill="#3a3a3a"/>
<rect x="124.33" y="1646.13" width="4.45" height="4.44" fill="#000000"/>
<rect x="119.88" y="1650.58" width="4.45" height="4.44" fill="#7a7a7a"/>
<rect x="1921.07" y="1646.13" width="17.79" height="4.44" fill="#020202"/>
<rect x="1934.41" y="1650.58" width="4.45" height="4.44" fill="#777777"/>
<rect x="124.33" y="828.36" width="4.45" height="13.33" fill="#000000"/>
<rect x="119.88" y="828.36" width="4.45" height="4.44" fill="#444444"/>
<rect x="128.78" y="832.80" width="4.45" height="8.89" fill="#8c8c8c"/>
<rect x="119.88" y="1237.25" width="4.45" height="4.44" fill="#444444"/>
<rect x="171.10" y="1646.13" width="7.80" height="4.44" fill="#000000"/>
<rect x="274.00" y="1646.13" width="7.80" height="4.44" fill="#000000"/>
<rect x="376.90" y="1646.13" width="7.80" height="4.44" fill="#000000"/>
<rect x="479.80" y="1646.13" width="7.80" height="4.44" fill="#000000"/>
<rect x="582.70" y="1646.13" width="7.80" height="4.44" fill="#000000"/>
<rect x="685.60" y="1646.13" width="7.80" height="4.44" fill="#000000"/>
<rect x="788.50" y="1646.13" width="7.80" height="4.44" fill="#000000"/>
<rect x="891.40" y="1646.13" width="7.80" height="4.44" fill="#000000"/>
<rect x="994.30" y="1646.13" width="7.80" height="4.44" fill="#000000"/>
<rect x="1097.20" y="1646.13" width="7.80" height="4.44" fill="#000000"/>
<rect x="1200.10" y="1646.13" width="7.80" height="4.44" fill="#000000"/>
<rect x="1303.00" y="1646.13" width="7.80" height="4.44" fill="#000000"/>
<rect x="1405.90" y="1646.13" width="7.80" height="4.44" fill="#000000"/>
<rect x="1508.80" y="1646.13" width="7.80" height="4.44" fill="#000000"/>
<rect x="1611.70" y="1646.13" width="7.80" height="4.44" fill="#000000"/>
<rect x="1714.60" y="1646.13" width="7.80" height="4.44" fill="#000000"/>
<rect x="1817.50" y="1646.13" width="7.80" height="4.44" fill="#000000"/>
<rect x="1920.40" y="1646.13" width="7.80" height="4.44" fill="#000000"/>
<g id="spec-d">
<path d="M122.0 339.8 L142.5 342.3 L153.7 333.6 L165.0 348.6 L175.0 313.6 L186.2 343.6 L196.2 334.8 L203.7 339.8 L213.7 354.8 L222.4 356.1 L232.4 347.3 L246.2 339.8 L257.4 309.8 L267.4 322.3 L278.7 352.3 L299.9 314.8 L309.9 349.8 L319.9 376.1 L329.9 301.1 L342.4 352.3 L372.4 301.1 L391.1 352.3 L402.4 306.1 L426.1 354.8 L433.6 354.8 L444.8 306.1 L466.1 349.8 L474.8 348.6 L496.1 306.1 L508.6 337.3 L517.3 336.1 L527.3 346.1 L537.3 292.4 L549.8 332.3 L557.3 332.3 L569.8 297.3 L579.8 303.6 L589.8 323.6 L599.8 298.6 L608.7 342.3 L620.0 301.1 L631.2 333.6 L640.0 336.1 L660.0 324.8 L672.5 332.3 L681.2 296.1 L692.5 303.6 L702.4 294.8 L712.4 313.6 L723.7 324.8 L738.7 298.6 L752.4 291.1 L764.9 299.8 L774.9 246.1 L786.2 279.9 L797.4 278.6 L807.4 287.4 L817.4 322.3 L833.6 303.6 L847.4 302.3 L858.6 283.6 L868.6 294.8 L879.9 284.9 L889.9 318.6 L898.6 318.6 L909.8 283.6 L929.8 308.6 L941.1 277.4 L951.1 259.9 L961.1 296.1 L972.3 242.4 L983.6 271.1 L993.5 237.4 L999.8 232.4 L1013.5 234.9 L1024.8 194.9 L1034.8 238.6 L1047.3 212.4 L1064.8 143.7 L1074.8 176.2 L1086.2 194.9 L1095.0 139.9 L1105.0 107.4 L1115.0 111.2 L1127.5 126.2 L1140.0 119.9 L1148.7 127.4 L1158.7 147.4 L1168.7 95.0 L1178.7 138.7 L1187.4 118.7 L1199.9 117.4 L1209.9 136.2 L1222.4 131.2 L1231.2 167.4 L1242.4 178.7 L1252.4 203.6 L1263.7 202.4 L1273.7 217.4 L1286.1 212.4 L1294.9 184.9 L1303.6 149.9 L1313.6 161.2 L1323.6 162.4 L1334.9 167.4 L1344.9 159.9 L1351.1 112.4 L1356.1 83.7 L1366.1 136.2 L1376.1 87.5 L1387.3 71.2 L1397.3 102.4 L1407.3 102.4 L1417.3 122.4 L1428.6 104.9 L1438.6 154.9 L1448.6 194.9 L1459.8 229.9 L1465.0 229.9 L1478.7 226.1 L1488.7 269.9 L1500.0 303.6 L1510.0 306.1 L1518.7 297.3 L1532.5 317.3 L1551.2 322.3 L1561.2 307.3 L1567.4 332.3 L1572.4 348.6 L1582.4 334.8 L1593.7 349.8 L1603.7 328.6 L1614.9 352.3 L1634.9 356.1 L1646.2 374.8 L1656.2 324.8 L1666.1 357.3 L1684.9 374.8 L1698.6 358.6 L1707.4 357.3 L1718.6 343.6 L1729.9 352.3 L1742.4 352.3 L1754.9 336.1 L1767.3 333.6 L1779.8 339.8 L1789.8 392.3 L1801.1 359.8 L1824.8 354.8 L1834.8 353.6 L1852.3 342.3 L1864.8 346.1 L1884.8 354.8 L1894.8 377.3 L1904.8 349.8 L1914.8 329.8 L1927.3 334.8 L1934.8 359.8" fill="none" stroke="#111111" stroke-width="6.20" stroke-linejoin="miter" stroke-linecap="butt" stroke-miterlimit="3"/>
<path d="M126.0 363.5 L600.0 364.5 L1080.0 367.0 L1300.0 370.0 L1450.0 372.5 L1934.0 373.3" fill="none" stroke="#ff1010" stroke-width="6.50" stroke-linejoin="round" stroke-linecap="butt"/>
<path d="M120.0 361.5 L123.0 361.5 L126.0 361.5 L129.0 361.5 L132.0 361.5 L135.0 361.5 L138.0 361.5 L141.0 361.5 L144.0 361.5 L147.0 361.4 L150.0 361.4 L153.0 361.4 L156.0 361.4 L159.0 361.4 L162.0 361.4 L165.0 361.4 L168.0 361.4 L171.0 361.4 L174.0 361.4 L177.0 361.4 L180.0 361.4 L183.0 361.4 L186.0 361.4 L189.0 361.3 L192.0 361.3 L195.0 361.3 L198.0 361.3 L201.0 361.3 L204.0 361.3 L207.0 361.3 L210.0 361.3 L213.0 361.3 L216.0 361.3 L219.0 361.3 L222.0 361.3 L225.0 361.2 L228.0 361.2 L231.0 361.2 L234.0 361.2 L237.0 361.2 L240.0 361.2 L243.0 361.2 L246.0 361.2 L249.0 361.2 L252.0 361.2 L255.0 361.2 L258.0 361.1 L261.0 361.1 L264.0 361.1 L267.0 361.1 L270.0 361.1 L273.0 361.1 L276.0 361.1 L279.0 361.1 L282.0 361.1 L285.0 361.0 L288.0 361.0 L291.0 361.0 L294.0 361.0 L297.0 361.0 L300.0 361.0 L303.0 361.0 L306.0 361.0 L309.0 361.0 L312.0 360.9 L315.0 360.9 L318.0 360.9 L321.0 360.9 L324.0 360.9 L327.0 360.9 L330.0 360.9 L333.0 360.9 L336.0 360.8 L339.0 360.8 L342.0 360.8 L345.0 360.8 L348.0 360.8 L351.0 360.8 L354.0 360.8 L357.0 360.7 L360.0 360.7 L363.0 360.7 L366.0 360.7 L369.0 360.7 L372.0 360.7 L375.0 360.6 L378.0 360.6 L381.0 360.6 L384.0 360.6 L387.0 360.6 L390.0 360.6 L393.0 360.5 L396.0 360.5 L399.0 360.5 L402.0 360.5 L405.0 360.4 L408.0 360.4 L411.0 360.4 L414.0 360.4 L417.0 360.4 L420.0 360.3 L423.0 360.3 L426.0 360.3 L429.0 360.3 L432.0 360.2 L435.0 360.2 L438.0 360.2 L441.0 360.1 L444.0 360.1 L447.0 360.1 L450.0 360.1 L453.0 360.0 L456.0 360.0 L459.0 360.0 L462.0 359.9 L465.0 359.9 L468.0 359.9 L471.0 359.9 L474.0 359.8 L477.0 359.8 L480.0 359.8 L483.0 359.7 L486.0 359.7 L489.0 359.7 L492.0 359.6 L495.0 359.6 L498.0 359.6 L501.0 359.5 L504.0 359.5 L507.0 359.4 L510.0 359.4 L513.0 359.4 L516.0 359.3 L519.0 359.3 L522.0 359.3 L525.0 359.2 L528.0 359.2 L531.0 359.1 L534.0 359.1 L537.0 359.1 L540.0 359.0 L543.0 359.0 L546.0 358.9 L549.0 358.9 L552.0 358.8 L555.0 358.8 L558.0 358.7 L561.0 358.7 L564.0 358.6 L567.0 358.6 L570.0 358.5 L573.0 358.5 L576.0 358.4 L579.0 358.4 L582.0 358.3 L585.0 358.2 L588.0 358.2 L591.0 358.1 L594.0 358.0 L597.0 357.9 L600.0 357.8 L603.0 357.8 L606.0 357.7 L609.0 357.6 L612.0 357.5 L615.0 357.4 L618.0 357.3 L621.0 357.2 L624.0 357.1 L627.0 357.0 L630.0 356.9 L633.0 356.8 L636.0 356.7 L639.0 356.5 L642.0 356.4 L645.0 356.3 L648.0 356.2 L651.0 356.1 L654.0 355.9 L657.0 355.8 L660.0 355.7 L663.0 355.5 L666.0 355.4 L669.0 355.3 L672.0 355.1 L675.0 355.0 L678.0 354.8 L681.0 354.7 L684.0 354.6 L687.0 354.4 L690.0 354.3 L693.0 354.1 L696.0 353.9 L699.0 353.8 L702.0 353.6 L705.0 353.5 L708.0 353.3 L711.0 353.1 L714.0 353.0 L717.0 352.8 L720.0 352.6 L723.0 352.4 L726.0 352.2 L729.0 352.0 L732.0 351.9 L735.0 351.7 L738.0 351.5 L741.0 351.3 L744.0 351.1 L747.0 350.9 L750.0 350.7 L753.0 350.5 L756.0 350.2 L759.0 350.0 L762.0 349.8 L765.0 349.6 L768.0 349.4 L771.0 349.2 L774.0 349.0 L777.0 348.8 L780.0 348.6 L783.0 348.4 L786.0 348.2 L789.0 348.0 L792.0 347.7 L795.0 347.5 L798.0 347.3 L801.0 347.1 L804.0 346.9 L807.0 346.7 L810.0 346.5 L813.0 346.2 L816.0 346.0 L819.0 345.8 L822.0 345.6 L825.0 345.3 L828.0 345.1 L831.0 344.8 L834.0 344.6 L837.0 344.3 L840.0 344.0 L843.0 343.7 L846.0 343.4 L849.0 343.1 L852.0 342.7 L855.0 342.4 L858.0 341.9 L861.0 341.5 L864.0 341.0 L867.0 340.5 L870.0 339.9 L873.0 339.3 L876.0 338.7 L879.0 338.0 L882.0 337.3 L885.0 336.5 L888.0 335.6 L891.0 334.7 L894.0 333.8 L897.0 332.8 L900.0 331.8 L903.0 330.7 L906.0 329.6 L909.0 328.4 L912.0 327.1 L915.0 325.9 L918.0 324.5 L921.0 323.2 L924.0 321.8 L927.0 320.3 L930.0 318.8 L933.0 317.2 L936.0 315.7 L939.0 314.0 L942.0 312.4 L945.0 310.7 L948.0 309.0 L951.0 307.2 L954.0 305.5 L957.0 303.7 L960.0 301.8 L963.0 300.0 L966.0 298.1 L969.0 296.3 L972.0 294.4 L975.0 292.5 L978.0 290.6 L981.0 288.7 L984.0 286.8 L987.0 285.0 L990.0 283.1 L993.0 281.3 L996.0 279.6 L999.0 277.9 L1002.0 276.2 L1005.0 274.6 L1008.0 273.2 L1011.0 271.8 L1014.0 270.5 L1017.0 269.3 L1020.0 268.2 L1023.0 267.3 L1026.0 266.5 L1029.0 265.8 L1032.0 265.3 L1035.0 265.0 L1038.0 264.8 L1041.0 264.8 L1044.0 264.9 L1047.0 265.2 L1050.0 265.5 L1053.0 265.9 L1056.0 266.5 L1059.0 267.2 L1062.0 268.0 L1065.0 268.8 L1068.0 269.8 L1071.0 270.9 L1074.0 272.0 L1077.0 273.3 L1080.0 274.6 L1083.0 276.0 L1086.0 277.5 L1089.0 279.1 L1092.0 280.7 L1095.0 282.4 L1098.0 284.1 L1101.0 285.8 L1104.0 287.6 L1107.0 289.4 L1110.0 291.2 L1113.0 293.0 L1116.0 294.9 L1119.0 296.7 L1122.0 298.5 L1125.0 300.3 L1128.0 302.1 L1131.0 303.9 L1134.0 305.7 L1137.0 307.4 L1140.0 309.1 L1143.0 310.8 L1146.0 312.4 L1149.0 314.0 L1152.0 315.6 L1155.0 317.2 L1158.0 318.7 L1161.0 320.2 L1164.0 321.6 L1167.0 323.0 L1170.0 324.4 L1173.0 325.8 L1176.0 327.1 L1179.0 328.4 L1182.0 329.6 L1185.0 330.8 L1188.0 332.0 L1191.0 333.1 L1194.0 334.2 L1197.0 335.3 L1200.0 336.3 L1203.0 337.3 L1206.0 338.3 L1209.0 339.2 L1212.0 340.1 L1215.0 341.0 L1218.0 341.9 L1221.0 342.7 L1224.0 343.5 L1227.0 344.3 L1230.0 345.1 L1233.0 345.8 L1236.0 346.5 L1239.0 347.2 L1242.0 347.9 L1245.0 348.6 L1248.0 349.2 L1251.0 349.8 L1254.0 350.4 L1257.0 351.0 L1260.0 351.5 L1263.0 352.1 L1266.0 352.6 L1269.0 353.1 L1272.0 353.5 L1275.0 354.0 L1278.0 354.4 L1281.0 354.8 L1284.0 355.2 L1287.0 355.6 L1290.0 356.0 L1293.0 356.3 L1296.0 356.7 L1299.0 357.0 L1302.0 357.3 L1305.0 357.6 L1308.0 357.9 L1311.0 358.2 L1314.0 358.5 L1317.0 358.7 L1320.0 359.0 L1323.0 359.2 L1326.0 359.5 L1329.0 359.7 L1332.0 359.9 L1335.0 360.1 L1338.0 360.3 L1341.0 360.5 L1344.0 360.7 L1347.0 360.9 L1350.0 361.1 L1353.0 361.2 L1356.0 361.4 L1359.0 361.5 L1362.0 361.7 L1365.0 361.9 L1368.0 362.0 L1371.0 362.1 L1374.0 362.3 L1377.0 362.4 L1380.0 362.6 L1383.0 362.7 L1386.0 362.8 L1389.0 363.0 L1392.0 363.1 L1395.0 363.2 L1398.0 363.4 L1401.0 363.5 L1404.0 363.6 L1407.0 363.7 L1410.0 363.9 L1413.0 364.0 L1416.0 364.1 L1419.0 364.2 L1422.0 364.3 L1425.0 364.5 L1428.0 364.6 L1431.0 364.7 L1434.0 364.8 L1437.0 364.9 L1440.0 365.0 L1443.0 365.1 L1446.0 365.2 L1449.0 365.3 L1452.0 365.4 L1455.0 365.4 L1458.0 365.4 L1461.0 365.5 L1464.0 365.5 L1467.0 365.5 L1470.0 365.6 L1473.0 365.6 L1476.0 365.6 L1479.0 365.6 L1482.0 365.6 L1485.0 365.6 L1488.0 365.6 L1491.0 365.7 L1494.0 365.7 L1497.0 365.7 L1500.0 365.7 L1503.0 365.7 L1506.0 365.7 L1509.0 365.7 L1512.0 365.7 L1515.0 365.7 L1518.0 365.7 L1521.0 365.7 L1524.0 365.7 L1527.0 365.7 L1530.0 365.7 L1533.0 365.7 L1536.0 365.7 L1539.0 365.7 L1542.0 365.7 L1545.0 365.7 L1548.0 365.7 L1551.0 365.7 L1554.0 365.6 L1557.0 365.6 L1560.0 365.6 L1563.0 365.6 L1566.0 365.6 L1569.0 365.6 L1572.0 365.6 L1575.0 365.6 L1578.0 365.6 L1581.0 365.6 L1584.0 365.6 L1587.0 365.6 L1590.0 365.6 L1593.0 365.6 L1596.0 365.6 L1599.0 365.6 L1602.0 365.6 L1605.0 365.6 L1608.0 365.6 L1611.0 365.6 L1614.0 365.6 L1617.0 365.6 L1620.0 365.6 L1623.0 365.7 L1626.0 365.7 L1629.0 365.7 L1632.0 365.7 L1635.0 365.7 L1638.0 365.7 L1641.0 365.7 L1644.0 365.8 L1647.0 365.8 L1650.0 365.8 L1653.0 365.8 L1656.0 365.8 L1659.0 365.8 L1662.0 365.8 L1665.0 365.9 L1668.0 365.9 L1671.0 365.9 L1674.0 365.9 L1677.0 365.9 L1680.0 365.9 L1683.0 366.0 L1686.0 366.0 L1689.0 366.0 L1692.0 366.0 L1695.0 366.0 L1698.0 366.0 L1701.0 366.1 L1704.0 366.1 L1707.0 366.1 L1710.0 366.1 L1713.0 366.2 L1716.0 366.2 L1719.0 366.2 L1722.0 366.2 L1725.0 366.3 L1728.0 366.3 L1731.0 366.3 L1734.0 366.4 L1737.0 366.4 L1740.0 366.4 L1743.0 366.5 L1746.0 366.5 L1749.0 366.5 L1752.0 366.5 L1755.0 366.6 L1758.0 366.6 L1761.0 366.6 L1764.0 366.7 L1767.0 366.7 L1770.0 366.7 L1773.0 366.7 L1776.0 366.8 L1779.0 366.8 L1782.0 366.8 L1785.0 366.9 L1788.0 366.9 L1791.0 366.9 L1794.0 367.0 L1797.0 367.0 L1800.0 367.0 L1803.0 367.1 L1806.0 367.1 L1809.0 367.1 L1812.0 367.2 L1815.0 367.2 L1818.0 367.2 L1821.0 367.3 L1824.0 367.3 L1827.0 367.3 L1830.0 367.4 L1833.0 367.4 L1836.0 367.4 L1839.0 367.5 L1842.0 367.5 L1845.0 367.5 L1848.0 367.6 L1851.0 367.6 L1854.0 367.6 L1857.0 367.7 L1860.0 367.7 L1863.0 367.7 L1866.0 367.8 L1869.0 367.8 L1872.0 367.8 L1875.0 367.9 L1878.0 367.9 L1881.0 367.9 L1884.0 368.0 L1887.0 368.0 L1890.0 368.0 L1893.0 368.1 L1896.0 368.1 L1899.0 368.1 L1902.0 368.1 L1905.0 368.2 L1908.0 368.2 L1911.0 368.2 L1914.0 368.3 L1917.0 368.3 L1920.0 368.3 L1923.0 368.3 L1926.0 368.4 L1929.0 368.4 L1932.0 368.4" fill="none" stroke="#008a1c" stroke-width="6.50" stroke-linejoin="round" stroke-linecap="butt"/>
<path d="M120.0 360.5 L123.0 360.5 L126.0 360.5 L129.0 360.5 L132.0 360.5 L135.0 360.5 L138.0 360.5 L141.0 360.5 L144.0 360.5 L147.0 360.5 L150.0 360.5 L153.0 360.5 L156.0 360.5 L159.0 360.5 L162.0 360.5 L165.0 360.5 L168.0 360.4 L171.0 360.4 L174.0 360.4 L177.0 360.4 L180.0 360.4 L183.0 360.4 L186.0 360.4 L189.0 360.4 L192.0 360.4 L195.0 360.4 L198.0 360.4 L201.0 360.4 L204.0 360.4 L207.0 360.4 L210.0 360.4 L213.0 360.4 L216.0 360.4 L219.0 360.4 L222.0 360.4 L225.0 360.4 L228.0 360.3 L231.0 360.3 L234.0 360.3 L237.0 360.3 L240.0 360.3 L243.0 360.3 L246.0 360.3 L249.0 360.3 L252.0 360.3 L255.0 360.3 L258.0 360.3 L261.0 360.3 L264.0 360.3 L267.0 360.3 L270.0 360.3 L273.0 360.2 L276.0 360.2 L279.0 360.2 L282.0 360.2 L285.0 360.2 L288.0 360.2 L291.0 360.2 L294.0 360.2 L297.0 360.2 L300.0 360.2 L303.0 360.2 L306.0 360.2 L309.0 360.2 L312.0 360.1 L315.0 360.1 L318.0 360.1 L321.0 360.1 L324.0 360.1 L327.0 360.1 L330.0 360.1 L333.0 360.1 L336.0 360.1 L339.0 360.1 L342.0 360.0 L345.0 360.0 L348.0 360.0 L351.0 360.0 L354.0 360.0 L357.0 360.0 L360.0 360.0 L363.0 360.0 L366.0 360.0 L369.0 359.9 L372.0 359.9 L375.0 359.9 L378.0 359.9 L381.0 359.9 L384.0 359.9 L387.0 359.9 L390.0 359.8 L393.0 359.8 L396.0 359.8 L399.0 359.8 L402.0 359.8 L405.0 359.8 L408.0 359.8 L411.0 359.7 L414.0 359.7 L417.0 359.7 L420.0 359.7 L423.0 359.7 L426.0 359.7 L429.0 359.7 L432.0 359.6 L435.0 359.6 L438.0 359.6 L441.0 359.6 L444.0 359.6 L447.0 359.6 L450.0 359.5 L453.0 359.5 L456.0 359.5 L459.0 359.5 L462.0 359.5 L465.0 359.4 L468.0 359.4 L471.0 359.4 L474.0 359.4 L477.0 359.4 L480.0 359.3 L483.0 359.3 L486.0 359.3 L489.0 359.3 L492.0 359.2 L495.0 359.2 L498.0 359.2 L501.0 359.2 L504.0 359.2 L507.0 359.1 L510.0 359.1 L513.0 359.1 L516.0 359.1 L519.0 359.0 L522.0 359.0 L525.0 359.0 L528.0 358.9 L531.0 358.9 L534.0 358.9 L537.0 358.9 L540.0 358.8 L543.0 358.8 L546.0 358.8 L549.0 358.7 L552.0 358.7 L555.0 358.7 L558.0 358.7 L561.0 358.6 L564.0 358.6 L567.0 358.6 L570.0 358.5 L573.0 358.5 L576.0 358.4 L579.0 358.4 L582.0 358.4 L585.0 358.3 L588.0 358.3 L591.0 358.3 L594.0 358.2 L597.0 358.2 L600.0 358.1 L603.0 358.1 L606.0 358.1 L609.0 358.0 L612.0 358.0 L615.0 358.0 L618.0 357.9 L621.0 357.9 L624.0 357.9 L627.0 357.8 L630.0 357.8 L633.0 357.7 L636.0 357.7 L639.0 357.7 L642.0 357.6 L645.0 357.6 L648.0 357.5 L651.0 357.5 L654.0 357.4 L657.0 357.4 L660.0 357.3 L663.0 357.3 L666.0 357.2 L669.0 357.1 L672.0 357.1 L675.0 357.0 L678.0 357.0 L681.0 356.9 L684.0 356.8 L687.0 356.8 L690.0 356.7 L693.0 356.6 L696.0 356.6 L699.0 356.5 L702.0 356.4 L705.0 356.4 L708.0 356.3 L711.0 356.2 L714.0 356.1 L717.0 356.0 L720.0 356.0 L723.0 355.9 L726.0 355.8 L729.0 355.7 L732.0 355.6 L735.0 355.5 L738.0 355.4 L741.0 355.3 L744.0 355.2 L747.0 355.2 L750.0 355.0 L753.0 354.9 L756.0 354.8 L759.0 354.7 L762.0 354.6 L765.0 354.5 L768.0 354.4 L771.0 354.3 L774.0 354.2 L777.0 354.0 L780.0 353.9 L783.0 353.8 L786.0 353.6 L789.0 353.5 L792.0 353.4 L795.0 353.2 L798.0 353.1 L801.0 352.9 L804.0 352.8 L807.0 352.6 L810.0 352.4 L813.0 352.3 L816.0 352.1 L819.0 351.9 L822.0 351.7 L825.0 351.6 L828.0 351.4 L831.0 351.2 L834.0 351.0 L837.0 350.7 L840.0 350.5 L843.0 350.3 L846.0 350.1 L849.0 349.8 L852.0 349.6 L855.0 349.3 L858.0 349.0 L861.0 348.8 L864.0 348.5 L867.0 348.2 L870.0 347.9 L873.0 347.5 L876.0 347.2 L879.0 346.9 L882.0 346.5 L885.0 346.1 L888.0 345.8 L891.0 345.4 L894.0 345.0 L897.0 344.6 L900.0 344.1 L903.0 343.7 L906.0 343.3 L909.0 342.8 L912.0 342.3 L915.0 341.8 L918.0 341.3 L921.0 340.8 L924.0 340.2 L927.0 339.7 L930.0 339.1 L933.0 338.5 L936.0 337.9 L939.0 337.2 L942.0 336.6 L945.0 335.9 L948.0 335.1 L951.0 334.4 L954.0 333.6 L957.0 332.8 L960.0 331.9 L963.0 331.0 L966.0 330.1 L969.0 329.1 L972.0 328.1 L975.0 327.1 L978.0 325.9 L981.0 324.8 L984.0 323.6 L987.0 322.3 L990.0 321.0 L993.0 319.7 L996.0 318.2 L999.0 316.8 L1002.0 315.2 L1005.0 313.7 L1008.0 312.0 L1011.0 310.3 L1014.0 308.6 L1017.0 306.8 L1020.0 304.9 L1023.0 303.0 L1026.0 301.0 L1029.0 299.0 L1032.0 296.9 L1035.0 294.8 L1038.0 292.6 L1041.0 290.4 L1044.0 288.1 L1047.0 285.8 L1050.0 283.4 L1053.0 281.0 L1056.0 278.5 L1059.0 276.0 L1062.0 273.4 L1065.0 270.7 L1068.0 268.0 L1071.0 265.3 L1074.0 262.5 L1077.0 259.6 L1080.0 256.8 L1083.0 253.9 L1086.0 251.0 L1089.0 248.1 L1092.0 245.1 L1095.0 242.2 L1098.0 239.2 L1101.0 236.3 L1104.0 233.4 L1107.0 230.6 L1110.0 227.7 L1113.0 225.0 L1116.0 222.3 L1119.0 219.7 L1122.0 217.3 L1125.0 214.9 L1128.0 212.6 L1131.0 210.5 L1134.0 208.6 L1137.0 206.8 L1140.0 205.2 L1143.0 203.7 L1146.0 202.5 L1149.0 201.5 L1152.0 200.6 L1155.0 200.1 L1158.0 199.7 L1161.0 199.6 L1164.0 199.7 L1167.0 200.1 L1170.0 200.8 L1173.0 201.7 L1176.0 202.9 L1179.0 204.4 L1182.0 206.1 L1185.0 208.0 L1188.0 210.1 L1191.0 212.5 L1194.0 215.0 L1197.0 217.7 L1200.0 220.5 L1203.0 223.4 L1206.0 226.4 L1209.0 229.5 L1212.0 232.6 L1215.0 235.8 L1218.0 239.0 L1221.0 242.2 L1224.0 245.4 L1227.0 248.6 L1230.0 251.7 L1233.0 254.8 L1236.0 257.8 L1239.0 260.8 L1242.0 263.8 L1245.0 266.6 L1248.0 269.4 L1251.0 272.2 L1254.0 274.9 L1257.0 277.5 L1260.0 280.0 L1263.0 282.5 L1266.0 285.0 L1269.0 287.4 L1272.0 289.7 L1275.0 292.0 L1278.0 294.3 L1281.0 296.5 L1284.0 298.7 L1287.0 300.8 L1290.0 302.8 L1293.0 304.9 L1296.0 306.8 L1299.0 308.8 L1302.0 310.7 L1305.0 312.5 L1308.0 314.3 L1311.0 316.0 L1314.0 317.7 L1317.0 319.4 L1320.0 321.0 L1323.0 322.5 L1326.0 324.0 L1329.0 325.4 L1332.0 326.8 L1335.0 328.2 L1338.0 329.5 L1341.0 330.7 L1344.0 331.9 L1347.0 333.1 L1350.0 334.2 L1353.0 335.2 L1356.0 336.3 L1359.0 337.2 L1362.0 338.2 L1365.0 339.1 L1368.0 340.0 L1371.0 340.8 L1374.0 341.6 L1377.0 342.4 L1380.0 343.2 L1383.0 343.9 L1386.0 344.6 L1389.0 345.2 L1392.0 345.9 L1395.0 346.5 L1398.0 347.1 L1401.0 347.7 L1404.0 348.2 L1407.0 348.7 L1410.0 349.2 L1413.0 349.7 L1416.0 350.2 L1419.0 350.7 L1422.0 351.1 L1425.0 351.5 L1428.0 351.9 L1431.0 352.3 L1434.0 352.7 L1437.0 353.0 L1440.0 353.4 L1443.0 353.7 L1446.0 354.1 L1449.0 354.4 L1452.0 354.7 L1455.0 355.0 L1458.0 355.3 L1461.0 355.5 L1464.0 355.8 L1467.0 356.0 L1470.0 356.3 L1473.0 356.5 L1476.0 356.7 L1479.0 357.0 L1482.0 357.2 L1485.0 357.4 L1488.0 357.6 L1491.0 357.8 L1494.0 358.0 L1497.0 358.2 L1500.0 358.3 L1503.0 358.5 L1506.0 358.7 L1509.0 358.8 L1512.0 359.0 L1515.0 359.1 L1518.0 359.3 L1521.0 359.4 L1524.0 359.5 L1527.0 359.6 L1530.0 359.7 L1533.0 359.9 L1536.0 360.0 L1539.0 360.1 L1542.0 360.2 L1545.0 360.3 L1548.0 360.3 L1551.0 360.4 L1554.0 360.5 L1557.0 360.6 L1560.0 360.7 L1563.0 360.8 L1566.0 360.8 L1569.0 360.9 L1572.0 361.0 L1575.0 361.1 L1578.0 361.1 L1581.0 361.2 L1584.0 361.3 L1587.0 361.3 L1590.0 361.4 L1593.0 361.5 L1596.0 361.6 L1599.0 361.6 L1602.0 361.7 L1605.0 361.8 L1608.0 361.8 L1611.0 361.9 L1614.0 362.0 L1617.0 362.1 L1620.0 362.2 L1623.0 362.2 L1626.0 362.3 L1629.0 362.4 L1632.0 362.5 L1635.0 362.5 L1638.0 362.6 L1641.0 362.7 L1644.0 362.8 L1647.0 362.8 L1650.0 362.9 L1653.0 363.0 L1656.0 363.1 L1659.0 363.1 L1662.0 363.2 L1665.0 363.3 L1668.0 363.3 L1671.0 363.4 L1674.0 363.5 L1677.0 363.5 L1680.0 363.6 L1683.0 363.7 L1686.0 363.7 L1689.0 363.8 L1692.0 363.9 L1695.0 363.9 L1698.0 364.0 L1701.0 364.1 L1704.0 364.1 L1707.0 364.2 L1710.0 364.3 L1713.0 364.3 L1716.0 364.4 L1719.0 364.4 L1722.0 364.5 L1725.0 364.6 L1728.0 364.6 L1731.0 364.7 L1734.0 364.8 L1737.0 364.8 L1740.0 364.9 L1743.0 364.9 L1746.0 365.0 L1749.0 365.1 L1752.0 365.1 L1755.0 365.2 L1758.0 365.2 L1761.0 365.3 L1764.0 365.4 L1767.0 365.4 L1770.0 365.5 L1773.0 365.5 L1776.0 365.6 L1779.0 365.6 L1782.0 365.7 L1785.0 365.7 L1788.0 365.8 L1791.0 365.8 L1794.0 365.9 L1797.0 366.0 L1800.0 366.0 L1803.0 366.1 L1806.0 366.1 L1809.0 366.2 L1812.0 366.2 L1815.0 366.3 L1818.0 366.3 L1821.0 366.4 L1824.0 366.4 L1827.0 366.5 L1830.0 366.5 L1833.0 366.6 L1836.0 366.6 L1839.0 366.6 L1842.0 366.7 L1845.0 366.7 L1848.0 366.8 L1851.0 366.8 L1854.0 366.9 L1857.0 366.9 L1860.0 367.0 L1863.0 367.0 L1866.0 367.1 L1869.0 367.1 L1872.0 367.1 L1875.0 367.2 L1878.0 367.2 L1881.0 367.3 L1884.0 367.3 L1887.0 367.4 L1890.0 367.4 L1893.0 367.4 L1896.0 367.5 L1899.0 367.5 L1902.0 367.6 L1905.0 367.6 L1908.0 367.6 L1911.0 367.7 L1914.0 367.7 L1917.0 367.8 L1920.0 367.8 L1923.0 367.8 L1926.0 367.9 L1929.0 367.9 L1932.0 367.9" fill="none" stroke="#ff10ff" stroke-width="6.50" stroke-linejoin="round" stroke-linecap="butt"/>
<path d="M120.0 359.9 L123.0 359.9 L126.0 359.9 L129.0 359.9 L132.0 359.9 L135.0 359.9 L138.0 359.9 L141.0 359.9 L144.0 359.9 L147.0 359.9 L150.0 359.9 L153.0 359.9 L156.0 359.9 L159.0 359.9 L162.0 359.9 L165.0 359.9 L168.0 359.9 L171.0 359.9 L174.0 359.9 L177.0 359.9 L180.0 359.9 L183.0 359.9 L186.0 359.9 L189.0 359.9 L192.0 359.9 L195.0 359.9 L198.0 359.9 L201.0 359.9 L204.0 359.9 L207.0 359.9 L210.0 359.9 L213.0 359.9 L216.0 359.9 L219.0 359.9 L222.0 359.9 L225.0 359.9 L228.0 359.9 L231.0 359.9 L234.0 359.9 L237.0 359.9 L240.0 359.9 L243.0 359.9 L246.0 359.9 L249.0 359.9 L252.0 359.9 L255.0 359.9 L258.0 359.9 L261.0 359.9 L264.0 359.9 L267.0 359.9 L270.0 359.9 L273.0 359.9 L276.0 359.9 L279.0 359.9 L282.0 359.9 L285.0 359.9 L288.0 359.9 L291.0 359.9 L294.0 359.9 L297.0 359.9 L300.0 359.9 L303.0 359.9 L306.0 359.9 L309.0 359.9 L312.0 359.9 L315.0 359.9 L318.0 359.9 L321.0 359.9 L324.0 359.9 L327.0 359.9 L330.0 359.9 L333.0 359.9 L336.0 359.9 L339.0 359.9 L342.0 359.9 L345.0 359.9 L348.0 359.9 L351.0 359.9 L354.0 359.9 L357.0 359.9 L360.0 359.9 L363.0 359.9 L366.0 359.9 L369.0 359.9 L372.0 359.9 L375.0 359.9 L378.0 359.9 L381.0 359.9 L384.0 359.9 L387.0 359.9 L390.0 359.9 L393.0 359.9 L396.0 359.9 L399.0 359.9 L402.0 359.9 L405.0 359.9 L408.0 359.9 L411.0 359.9 L414.0 359.9 L417.0 359.9 L420.0 359.9 L423.0 359.9 L426.0 359.9 L429.0 359.9 L432.0 359.9 L435.0 359.9 L438.0 359.9 L441.0 359.9 L444.0 359.9 L447.0 359.9 L450.0 359.9 L453.0 359.9 L456.0 359.9 L459.0 359.9 L462.0 359.9 L465.0 359.8 L468.0 359.8 L471.0 359.8 L474.0 359.8 L477.0 359.8 L480.0 359.8 L483.0 359.8 L486.0 359.8 L489.0 359.8 L492.0 359.8 L495.0 359.8 L498.0 359.8 L501.0 359.8 L504.0 359.8 L507.0 359.8 L510.0 359.8 L513.0 359.8 L516.0 359.8 L519.0 359.8 L522.0 359.8 L525.0 359.8 L528.0 359.8 L531.0 359.8 L534.0 359.8 L537.0 359.8 L540.0 359.7 L543.0 359.7 L546.0 359.7 L549.0 359.7 L552.0 359.7 L555.0 359.7 L558.0 359.7 L561.0 359.7 L564.0 359.7 L567.0 359.7 L570.0 359.7 L573.0 359.7 L576.0 359.7 L579.0 359.7 L582.0 359.6 L585.0 359.6 L588.0 359.6 L591.0 359.6 L594.0 359.6 L597.0 359.6 L600.0 359.6 L603.0 359.6 L606.0 359.5 L609.0 359.5 L612.0 359.5 L615.0 359.5 L618.0 359.5 L621.0 359.5 L624.0 359.5 L627.0 359.5 L630.0 359.5 L633.0 359.4 L636.0 359.4 L639.0 359.4 L642.0 359.4 L645.0 359.4 L648.0 359.4 L651.0 359.3 L654.0 359.3 L657.0 359.3 L660.0 359.3 L663.0 359.3 L666.0 359.3 L669.0 359.2 L672.0 359.2 L675.0 359.2 L678.0 359.2 L681.0 359.1 L684.0 359.1 L687.0 359.1 L690.0 359.1 L693.0 359.1 L696.0 359.0 L699.0 359.0 L702.0 359.0 L705.0 359.0 L708.0 358.9 L711.0 358.9 L714.0 358.9 L717.0 358.8 L720.0 358.8 L723.0 358.7 L726.0 358.7 L729.0 358.7 L732.0 358.6 L735.0 358.6 L738.0 358.5 L741.0 358.5 L744.0 358.4 L747.0 358.4 L750.0 358.3 L753.0 358.3 L756.0 358.2 L759.0 358.1 L762.0 358.1 L765.0 358.0 L768.0 358.0 L771.0 357.9 L774.0 357.8 L777.0 357.8 L780.0 357.7 L783.0 357.7 L786.0 357.6 L789.0 357.5 L792.0 357.5 L795.0 357.4 L798.0 357.3 L801.0 357.2 L804.0 357.2 L807.0 357.1 L810.0 357.0 L813.0 357.0 L816.0 356.9 L819.0 356.8 L822.0 356.7 L825.0 356.7 L828.0 356.6 L831.0 356.5 L834.0 356.4 L837.0 356.4 L840.0 356.3 L843.0 356.2 L846.0 356.1 L849.0 356.0 L852.0 356.0 L855.0 355.9 L858.0 355.8 L861.0 355.7 L864.0 355.6 L867.0 355.6 L870.0 355.5 L873.0 355.4 L876.0 355.3 L879.0 355.2 L882.0 355.1 L885.0 355.0 L888.0 354.9 L891.0 354.8 L894.0 354.7 L897.0 354.6 L900.0 354.5 L903.0 354.4 L906.0 354.3 L909.0 354.2 L912.0 354.1 L915.0 354.0 L918.0 353.9 L921.0 353.8 L924.0 353.7 L927.0 353.6 L930.0 353.5 L933.0 353.4 L936.0 353.3 L939.0 353.1 L942.0 353.0 L945.0 352.9 L948.0 352.8 L951.0 352.7 L954.0 352.6 L957.0 352.5 L960.0 352.4 L963.0 352.2 L966.0 352.1 L969.0 352.1 L972.0 352.0 L975.0 351.9 L978.0 351.8 L981.0 351.7 L984.0 351.6 L987.0 351.5 L990.0 351.5 L993.0 351.4 L996.0 351.3 L999.0 351.3 L1002.0 351.2 L1005.0 351.1 L1008.0 351.1 L1011.0 351.0 L1014.0 350.9 L1017.0 350.8 L1020.0 350.8 L1023.0 350.7 L1026.0 350.6 L1029.0 350.5 L1032.0 350.4 L1035.0 350.3 L1038.0 350.2 L1041.0 350.1 L1044.0 349.9 L1047.0 349.8 L1050.0 349.7 L1053.0 349.5 L1056.0 349.4 L1059.0 349.2 L1062.0 349.0 L1065.0 348.8 L1068.0 348.6 L1071.0 348.4 L1074.0 348.1 L1077.0 347.9 L1080.0 347.6 L1083.0 347.3 L1086.0 347.0 L1089.0 346.7 L1092.0 346.3 L1095.0 345.9 L1098.0 345.5 L1101.0 345.1 L1104.0 344.7 L1107.0 344.2 L1110.0 343.7 L1113.0 343.2 L1116.0 342.7 L1119.0 342.1 L1122.0 341.5 L1125.0 340.9 L1128.0 340.3 L1131.0 339.6 L1134.0 339.0 L1137.0 338.3 L1140.0 337.6 L1143.0 336.8 L1146.0 336.0 L1149.0 335.2 L1152.0 334.4 L1155.0 333.6 L1158.0 332.7 L1161.0 331.8 L1164.0 330.9 L1167.0 330.0 L1170.0 329.0 L1173.0 328.0 L1176.0 326.9 L1179.0 325.9 L1182.0 324.8 L1185.0 323.6 L1188.0 322.4 L1191.0 321.2 L1194.0 319.9 L1197.0 318.6 L1200.0 317.3 L1203.0 315.8 L1206.0 314.3 L1209.0 312.8 L1212.0 311.2 L1215.0 309.5 L1218.0 307.8 L1221.0 305.9 L1224.0 304.1 L1227.0 302.1 L1230.0 300.0 L1233.0 297.9 L1236.0 295.7 L1239.0 293.4 L1242.0 291.1 L1245.0 288.7 L1248.0 286.1 L1251.0 283.6 L1254.0 280.9 L1257.0 278.2 L1260.0 275.3 L1263.0 272.4 L1266.0 269.5 L1269.0 266.4 L1272.0 263.3 L1275.0 260.1 L1278.0 256.8 L1281.0 253.5 L1284.0 250.1 L1287.0 246.6 L1290.0 243.1 L1293.0 239.5 L1296.0 235.8 L1299.0 232.1 L1302.0 228.3 L1305.0 224.5 L1308.0 220.7 L1311.0 216.8 L1314.0 213.0 L1317.0 209.1 L1320.0 205.2 L1323.0 201.3 L1326.0 197.5 L1329.0 193.7 L1332.0 190.0 L1335.0 186.3 L1338.0 182.8 L1341.0 179.3 L1344.0 176.0 L1347.0 172.7 L1350.0 169.7 L1353.0 166.8 L1356.0 164.1 L1359.0 161.6 L1362.0 159.3 L1365.0 157.2 L1368.0 155.4 L1371.0 153.9 L1374.0 152.6 L1377.0 151.6 L1380.0 150.9 L1383.0 150.5 L1386.0 150.4 L1389.0 150.6 L1392.0 151.1 L1395.0 152.1 L1398.0 153.4 L1401.0 155.0 L1404.0 156.9 L1407.0 159.1 L1410.0 161.7 L1413.0 164.5 L1416.0 167.5 L1419.0 170.8 L1422.0 174.2 L1425.0 177.8 L1428.0 181.6 L1431.0 185.5 L1434.0 189.5 L1437.0 193.5 L1440.0 197.7 L1443.0 201.8 L1446.0 206.0 L1449.0 210.2 L1452.0 214.4 L1455.0 218.5 L1458.0 222.6 L1461.0 226.7 L1464.0 230.8 L1467.0 234.8 L1470.0 238.8 L1473.0 242.7 L1476.0 246.6 L1479.0 250.4 L1482.0 254.1 L1485.0 257.8 L1488.0 261.5 L1491.0 265.0 L1494.0 268.5 L1497.0 271.9 L1500.0 275.3 L1503.0 278.5 L1506.0 281.6 L1509.0 284.7 L1512.0 287.6 L1515.0 290.4 L1518.0 293.1 L1521.0 295.7 L1524.0 298.2 L1527.0 300.6 L1530.0 302.8 L1533.0 305.0 L1536.0 307.0 L1539.0 309.0 L1542.0 310.9 L1545.0 312.7 L1548.0 314.4 L1551.0 316.0 L1554.0 317.6 L1557.0 319.1 L1560.0 320.6 L1563.0 322.0 L1566.0 323.3 L1569.0 324.6 L1572.0 325.9 L1575.0 327.1 L1578.0 328.3 L1581.0 329.4 L1584.0 330.5 L1587.0 331.6 L1590.0 332.6 L1593.0 333.6 L1596.0 334.6 L1599.0 335.5 L1602.0 336.4 L1605.0 337.3 L1608.0 338.2 L1611.0 339.0 L1614.0 339.8 L1617.0 340.6 L1620.0 341.3 L1623.0 342.1 L1626.0 342.8 L1629.0 343.4 L1632.0 344.1 L1635.0 344.7 L1638.0 345.3 L1641.0 345.9 L1644.0 346.5 L1647.0 347.0 L1650.0 347.5 L1653.0 348.0 L1656.0 348.4 L1659.0 348.9 L1662.0 349.3 L1665.0 349.7 L1668.0 350.1 L1671.0 350.4 L1674.0 350.8 L1677.0 351.1 L1680.0 351.5 L1683.0 351.8 L1686.0 352.1 L1689.0 352.4 L1692.0 352.7 L1695.0 353.0 L1698.0 353.2 L1701.0 353.5 L1704.0 353.8 L1707.0 354.0 L1710.0 354.3 L1713.0 354.5 L1716.0 354.7 L1719.0 354.9 L1722.0 355.1 L1725.0 355.3 L1728.0 355.5 L1731.0 355.7 L1734.0 355.9 L1737.0 356.1 L1740.0 356.3 L1743.0 356.4 L1746.0 356.6 L1749.0 356.8 L1752.0 356.9 L1755.0 357.1 L1758.0 357.2 L1761.0 357.4 L1764.0 357.5 L1767.0 357.7 L1770.0 357.9 L1773.0 358.0 L1776.0 358.2 L1779.0 358.4 L1782.0 358.5 L1785.0 358.7 L1788.0 358.9 L1791.0 359.0 L1794.0 359.2 L1797.0 359.4 L1800.0 359.5 L1803.0 359.7 L1806.0 359.9 L1809.0 360.0 L1812.0 360.2 L1815.0 360.3 L1818.0 360.5 L1821.0 360.6 L1824.0 360.7 L1827.0 360.9 L1830.0 361.0 L1833.0 361.1 L1836.0 361.3 L1839.0 361.4 L1842.0 361.5 L1845.0 361.6 L1848.0 361.7 L1851.0 361.8 L1854.0 361.9 L1857.0 362.0 L1860.0 362.1 L1863.0 362.2 L1866.0 362.3 L1869.0 362.3 L1872.0 362.4 L1875.0 362.5 L1878.0 362.5 L1881.0 362.6 L1884.0 362.7 L1887.0 362.7 L1890.0 362.8 L1893.0 362.9 L1896.0 362.9 L1899.0 363.0 L1902.0 363.0 L1905.0 363.1 L1908.0 363.2 L1911.0 363.2 L1914.0 363.3 L1917.0 363.3 L1920.0 363.4 L1923.0 363.4 L1926.0 363.5 L1929.0 363.5 L1932.0 363.6" fill="none" stroke="#1010ff" stroke-width="6.50" stroke-linejoin="round" stroke-linecap="butt"/>
</g>
<g id="spec-c">
<path d="M127.5 782.0 L135.0 779.0 L150.0 783.2 L162.5 779.5 L175.0 784.5 L204.9 779.5 L242.4 779.5 L254.9 783.2 L267.4 775.7 L279.9 782.0 L297.4 775.7 L312.4 782.0 L337.4 783.2 L349.9 779.5 L387.4 779.5 L412.3 775.7 L424.8 779.5 L444.8 775.7 L454.8 779.5 L467.3 775.7 L479.8 777.0 L489.8 769.0 L512.3 769.0 L522.3 778.2 L539.8 775.7 L557.3 778.2 L568.5 772.0 L579.8 779.5 L600.0 774.8 L642.5 774.8 L652.5 769.8 L672.5 774.8 L682.5 766.1 L699.9 774.8 L709.9 774.8 L729.9 766.1 L754.9 772.3 L764.9 763.6 L774.9 757.3 L794.9 768.6 L806.1 757.3 L817.4 769.8 L849.9 766.1 L877.4 762.3 L888.6 751.1 L907.3 761.1 L919.8 759.8 L929.8 751.1 L954.8 749.8 L962.3 741.1 L977.3 744.8 L989.8 732.3 L1004.8 728.6 L1012.3 716.1 L1032.3 708.6 L1044.8 689.9 L1067.3 686.1 L1087.3 672.4 L1097.5 666.1 L1107.5 649.9 L1125.0 638.6 L1150.0 641.1 L1162.5 626.1 L1179.9 627.4 L1189.9 612.4 L1209.9 609.9 L1219.9 596.2 L1241.2 598.7 L1251.2 563.7 L1261.2 576.2 L1274.9 577.4 L1283.6 547.4 L1292.4 531.2 L1304.9 527.4 L1329.9 508.7 L1347.4 507.5 L1354.9 526.2 L1367.4 523.7 L1379.8 549.9 L1394.8 574.9 L1409.8 602.4 L1424.8 644.9 L1439.8 672.4 L1454.8 702.4 L1472.3 737.3 L1477.5 744.8 L1490.0 762.3 L1505.0 772.3 L1515.0 779.8 L1530.0 781.1 L1540.0 789.8 L1557.5 792.3 L1572.4 802.8 L1582.4 815.3 L1594.9 807.8 L1614.9 806.6 L1639.9 804.1 L1664.9 805.3 L1689.9 805.3 L1702.4 802.8 L1714.9 807.8 L1734.9 810.3 L1752.4 806.6 L1764.8 802.8 L1774.8 810.3 L1789.8 805.3 L1799.8 802.8 L1812.3 815.3 L1827.3 807.8 L1839.8 806.6 L1852.3 802.8 L1889.8 804.1 L1904.8 807.8 L1914.8 812.8 L1927.3 806.6 L1934.8 805.3" fill="none" stroke="#111111" stroke-width="6.20" stroke-linejoin="miter" stroke-linecap="butt" stroke-miterlimit="3"/>
<path d="M120.0 787.8 L1080.0 788.8 L1205.0 793.0 L1330.0 797.5 L1455.0 802.5 L1567.0 803.0 L1934.0 803.0" fill="none" stroke="#ff1010" stroke-width="6.50" stroke-linejoin="round" stroke-linecap="butt"/>
<path d="M120.0 787.5 L123.0 787.5 L126.0 787.5 L129.0 787.5 L132.0 787.5 L135.0 787.5 L138.0 787.5 L141.0 787.5 L144.0 787.5 L147.0 787.5 L150.0 787.5 L153.0 787.5 L156.0 787.5 L159.0 787.5 L162.0 787.5 L165.0 787.5 L168.0 787.5 L171.0 787.5 L174.0 787.5 L177.0 787.5 L180.0 787.5 L183.0 787.5 L186.0 787.5 L189.0 787.5 L192.0 787.5 L195.0 787.5 L198.0 787.5 L201.0 787.5 L204.0 787.5 L207.0 787.5 L210.0 787.5 L213.0 787.5 L216.0 787.5 L219.0 787.5 L222.0 787.5 L225.0 787.5 L228.0 787.5 L231.0 787.5 L234.0 787.5 L237.0 787.5 L240.0 787.5 L243.0 787.5 L246.0 787.5 L249.0 787.5 L252.0 787.5 L255.0 787.5 L258.0 787.5 L261.0 787.5 L264.0 787.5 L267.0 787.5 L270.0 787.5 L273.0 787.5 L276.0 787.5 L279.0 787.5 L282.0 787.5 L285.0 787.5 L288.0 787.5 L291.0 787.5 L294.0 787.5 L297.0 787.5 L300.0 787.5 L303.0 787.5 L306.0 787.5 L309.0 787.5 L312.0 787.5 L315.0 787.4 L318.0 787.4 L321.0 787.4 L324.0 787.4 L327.0 787.4 L330.0 787.4 L333.0 787.4 L336.0 787.4 L339.0 787.4 L342.0 787.4 L345.0 787.4 L348.0 787.4 L351.0 787.4 L354.0 787.4 L357.0 787.4 L360.0 787.4 L363.0 787.4 L366.0 787.4 L369.0 787.4 L372.0 787.4 L375.0 787.4 L378.0 787.4 L381.0 787.4 L384.0 787.3 L387.0 787.3 L390.0 787.3 L393.0 787.3 L396.0 787.3 L399.0 787.3 L402.0 787.3 L405.0 787.3 L408.0 787.3 L411.0 787.3 L414.0 787.3 L417.0 787.3 L420.0 787.3 L423.0 787.3 L426.0 787.3 L429.0 787.2 L432.0 787.2 L435.0 787.2 L438.0 787.2 L441.0 787.2 L444.0 787.2 L447.0 787.2 L450.0 787.2 L453.0 787.2 L456.0 787.2 L459.0 787.2 L462.0 787.1 L465.0 787.1 L468.0 787.1 L471.0 787.1 L474.0 787.1 L477.0 787.1 L480.0 787.1 L483.0 787.1 L486.0 787.1 L489.0 787.0 L492.0 787.0 L495.0 787.0 L498.0 787.0 L501.0 787.0 L504.0 787.0 L507.0 787.0 L510.0 786.9 L513.0 786.9 L516.0 786.9 L519.0 786.9 L522.0 786.9 L525.0 786.9 L528.0 786.9 L531.0 786.8 L534.0 786.8 L537.0 786.8 L540.0 786.8 L543.0 786.8 L546.0 786.7 L549.0 786.7 L552.0 786.7 L555.0 786.7 L558.0 786.7 L561.0 786.6 L564.0 786.6 L567.0 786.6 L570.0 786.6 L573.0 786.6 L576.0 786.5 L579.0 786.5 L582.0 786.5 L585.0 786.5 L588.0 786.4 L591.0 786.4 L594.0 786.4 L597.0 786.4 L600.0 786.3 L603.0 786.3 L606.0 786.3 L609.0 786.3 L612.0 786.2 L615.0 786.2 L618.0 786.2 L621.0 786.1 L624.0 786.1 L627.0 786.1 L630.0 786.0 L633.0 786.0 L636.0 786.0 L639.0 785.9 L642.0 785.9 L645.0 785.9 L648.0 785.8 L651.0 785.8 L654.0 785.8 L657.0 785.7 L660.0 785.7 L663.0 785.6 L666.0 785.6 L669.0 785.6 L672.0 785.5 L675.0 785.5 L678.0 785.4 L681.0 785.4 L684.0 785.3 L687.0 785.3 L690.0 785.2 L693.0 785.2 L696.0 785.1 L699.0 785.1 L702.0 785.0 L705.0 785.0 L708.0 784.9 L711.0 784.9 L714.0 784.8 L717.0 784.7 L720.0 784.7 L723.0 784.6 L726.0 784.6 L729.0 784.5 L732.0 784.4 L735.0 784.3 L738.0 784.3 L741.0 784.2 L744.0 784.1 L747.0 784.0 L750.0 783.9 L753.0 783.8 L756.0 783.7 L759.0 783.7 L762.0 783.5 L765.0 783.4 L768.0 783.3 L771.0 783.2 L774.0 783.1 L777.0 783.0 L780.0 782.9 L783.0 782.7 L786.0 782.6 L789.0 782.5 L792.0 782.3 L795.0 782.2 L798.0 782.1 L801.0 781.9 L804.0 781.8 L807.0 781.6 L810.0 781.4 L813.0 781.3 L816.0 781.1 L819.0 780.9 L822.0 780.7 L825.0 780.5 L828.0 780.4 L831.0 780.2 L834.0 779.9 L837.0 779.7 L840.0 779.5 L843.0 779.3 L846.0 779.0 L849.0 778.8 L852.0 778.6 L855.0 778.3 L858.0 778.0 L861.0 777.7 L864.0 777.4 L867.0 777.1 L870.0 776.8 L873.0 776.5 L876.0 776.2 L879.0 775.8 L882.0 775.5 L885.0 775.1 L888.0 774.7 L891.0 774.3 L894.0 773.9 L897.0 773.5 L900.0 773.1 L903.0 772.6 L906.0 772.2 L909.0 771.7 L912.0 771.3 L915.0 770.8 L918.0 770.3 L921.0 769.8 L924.0 769.3 L927.0 768.8 L930.0 768.2 L933.0 767.7 L936.0 767.1 L939.0 766.6 L942.0 766.0 L945.0 765.4 L948.0 764.7 L951.0 764.1 L954.0 763.4 L957.0 762.7 L960.0 761.9 L963.0 761.1 L966.0 760.3 L969.0 759.5 L972.0 758.6 L975.0 757.7 L978.0 756.7 L981.0 755.7 L984.0 754.7 L987.0 753.6 L990.0 752.5 L993.0 751.3 L996.0 750.1 L999.0 748.9 L1002.0 747.7 L1005.0 746.4 L1008.0 745.1 L1011.0 743.8 L1014.0 742.5 L1017.0 741.1 L1020.0 739.8 L1023.0 738.4 L1026.0 737.1 L1029.0 735.7 L1032.0 734.4 L1035.0 733.0 L1038.0 731.7 L1041.0 730.4 L1044.0 729.1 L1047.0 727.8 L1050.0 726.5 L1053.0 725.3 L1056.0 724.1 L1059.0 722.9 L1062.0 721.8 L1065.0 720.7 L1068.0 719.7 L1071.0 718.7 L1074.0 717.8 L1077.0 716.9 L1080.0 716.1 L1083.0 715.4 L1086.0 714.8 L1089.0 714.2 L1092.0 713.8 L1095.0 713.4 L1098.0 713.1 L1101.0 712.8 L1104.0 712.7 L1107.0 712.7 L1110.0 712.7 L1113.0 712.9 L1116.0 713.2 L1119.0 713.6 L1122.0 714.1 L1125.0 714.8 L1128.0 715.5 L1131.0 716.4 L1134.0 717.4 L1137.0 718.4 L1140.0 719.6 L1143.0 720.8 L1146.0 722.1 L1149.0 723.5 L1152.0 724.9 L1155.0 726.4 L1158.0 727.9 L1161.0 729.4 L1164.0 731.0 L1167.0 732.5 L1170.0 734.1 L1173.0 735.7 L1176.0 737.2 L1179.0 738.8 L1182.0 740.4 L1185.0 741.9 L1188.0 743.4 L1191.0 744.9 L1194.0 746.4 L1197.0 747.8 L1200.0 749.2 L1203.0 750.6 L1206.0 752.0 L1209.0 753.4 L1212.0 754.7 L1215.0 756.0 L1218.0 757.2 L1221.0 758.5 L1224.0 759.7 L1227.0 760.8 L1230.0 762.0 L1233.0 763.1 L1236.0 764.2 L1239.0 765.2 L1242.0 766.2 L1245.0 767.2 L1248.0 768.2 L1251.0 769.1 L1254.0 770.1 L1257.0 771.0 L1260.0 771.8 L1263.0 772.7 L1266.0 773.5 L1269.0 774.3 L1272.0 775.1 L1275.0 775.9 L1278.0 776.6 L1281.0 777.3 L1284.0 778.0 L1287.0 778.7 L1290.0 779.3 L1293.0 780.0 L1296.0 780.6 L1299.0 781.1 L1302.0 781.7 L1305.0 782.2 L1308.0 782.7 L1311.0 783.2 L1314.0 783.7 L1317.0 784.2 L1320.0 784.6 L1323.0 785.0 L1326.0 785.5 L1329.0 785.8 L1332.0 786.2 L1335.0 786.6 L1338.0 787.0 L1341.0 787.3 L1344.0 787.7 L1347.0 788.0 L1350.0 788.3 L1353.0 788.7 L1356.0 789.0 L1359.0 789.3 L1362.0 789.6 L1365.0 789.9 L1368.0 790.1 L1371.0 790.4 L1374.0 790.7 L1377.0 791.0 L1380.0 791.3 L1383.0 791.5 L1386.0 791.8 L1389.0 792.1 L1392.0 792.3 L1395.0 792.6 L1398.0 792.9 L1401.0 793.1 L1404.0 793.4 L1407.0 793.7 L1410.0 793.9 L1413.0 794.2 L1416.0 794.4 L1419.0 794.7 L1422.0 794.9 L1425.0 795.2 L1428.0 795.4 L1431.0 795.6 L1434.0 795.9 L1437.0 796.1 L1440.0 796.3 L1443.0 796.6 L1446.0 796.8 L1449.0 797.0 L1452.0 797.3 L1455.0 797.5 L1458.0 797.6 L1461.0 797.7 L1464.0 797.8 L1467.0 797.9 L1470.0 798.0 L1473.0 798.1 L1476.0 798.2 L1479.0 798.3 L1482.0 798.4 L1485.0 798.5 L1488.0 798.6 L1491.0 798.7 L1494.0 798.8 L1497.0 798.8 L1500.0 798.9 L1503.0 799.0 L1506.0 799.1 L1509.0 799.1 L1512.0 799.2 L1515.0 799.3 L1518.0 799.3 L1521.0 799.4 L1524.0 799.5 L1527.0 799.5 L1530.0 799.6 L1533.0 799.6 L1536.0 799.7 L1539.0 799.7 L1542.0 799.8 L1545.0 799.8 L1548.0 799.9 L1551.0 799.9 L1554.0 800.0 L1557.0 800.0 L1560.0 800.1 L1563.0 800.1 L1566.0 800.2 L1569.0 800.2 L1572.0 800.2 L1575.0 800.3 L1578.0 800.3 L1581.0 800.3 L1584.0 800.3 L1587.0 800.4 L1590.0 800.4 L1593.0 800.4 L1596.0 800.4 L1599.0 800.5 L1602.0 800.5 L1605.0 800.5 L1608.0 800.5 L1611.0 800.6 L1614.0 800.6 L1617.0 800.6 L1620.0 800.6 L1623.0 800.6 L1626.0 800.7 L1629.0 800.7 L1632.0 800.7 L1635.0 800.7 L1638.0 800.7 L1641.0 800.7 L1644.0 800.8 L1647.0 800.8 L1650.0 800.8 L1653.0 800.8 L1656.0 800.8 L1659.0 800.8 L1662.0 800.8 L1665.0 800.9 L1668.0 800.9 L1671.0 800.9 L1674.0 800.9 L1677.0 800.9 L1680.0 800.9 L1683.0 800.9 L1686.0 801.0 L1689.0 801.0 L1692.0 801.0 L1695.0 801.0 L1698.0 801.0 L1701.0 801.0 L1704.0 801.0 L1707.0 801.1 L1710.0 801.1 L1713.0 801.1 L1716.0 801.1 L1719.0 801.1 L1722.0 801.1 L1725.0 801.2 L1728.0 801.2 L1731.0 801.2 L1734.0 801.2 L1737.0 801.2 L1740.0 801.2 L1743.0 801.3 L1746.0 801.3 L1749.0 801.3 L1752.0 801.3 L1755.0 801.3 L1758.0 801.3 L1761.0 801.4 L1764.0 801.4 L1767.0 801.4 L1770.0 801.4 L1773.0 801.4 L1776.0 801.4 L1779.0 801.4 L1782.0 801.5 L1785.0 801.5 L1788.0 801.5 L1791.0 801.5 L1794.0 801.5 L1797.0 801.5 L1800.0 801.5 L1803.0 801.5 L1806.0 801.6 L1809.0 801.6 L1812.0 801.6 L1815.0 801.6 L1818.0 801.6 L1821.0 801.6 L1824.0 801.6 L1827.0 801.6 L1830.0 801.7 L1833.0 801.7 L1836.0 801.7 L1839.0 801.7 L1842.0 801.7 L1845.0 801.7 L1848.0 801.7 L1851.0 801.7 L1854.0 801.7 L1857.0 801.8 L1860.0 801.8 L1863.0 801.8 L1866.0 801.8 L1869.0 801.8 L1872.0 801.8 L1875.0 801.8 L1878.0 801.8 L1881.0 801.8 L1884.0 801.9 L1887.0 801.9 L1890.0 801.9 L1893.0 801.9 L1896.0 801.9 L1899.0 801.9 L1902.0 801.9 L1905.0 801.9 L1908.0 801.9 L1911.0 801.9 L1914.0 801.9 L1917.0 802.0 L1920.0 802.0 L1923.0 802.0 L1926.0 802.0 L1929.0 802.0 L1932.0 802.0" fill="none" stroke="#008a1c" stroke-width="6.50" stroke-linejoin="round" stroke-linecap="butt"/>
<path d="M120.0 788.0 L123.0 788.0 L126.0 788.0 L129.0 788.0 L132.0 788.0 L135.0 788.0 L138.0 788.0 L141.0 788.0 L144.0 788.0 L147.0 788.0 L150.0 788.0 L153.0 788.0 L156.0 788.0 L159.0 788.0 L162.0 788.0 L165.0 788.0 L168.0 788.0 L171.0 788.0 L174.0 788.0 L177.0 788.0 L180.0 788.0 L183.0 788.0 L186.0 788.0 L189.0 788.0 L192.0 788.0 L195.0 788.0 L198.0 788.0 L201.0 788.0 L204.0 788.0 L207.0 788.0 L210.0 788.0 L213.0 788.0 L216.0 788.0 L219.0 788.0 L222.0 788.0 L225.0 788.0 L228.0 788.0 L231.0 788.0 L234.0 788.0 L237.0 788.0 L240.0 788.0 L243.0 788.0 L246.0 788.0 L249.0 788.0 L252.0 788.0 L255.0 788.0 L258.0 788.0 L261.0 788.0 L264.0 788.0 L267.0 788.0 L270.0 788.0 L273.0 788.0 L276.0 788.0 L279.0 788.0 L282.0 788.0 L285.0 788.0 L288.0 788.0 L291.0 788.0 L294.0 788.0 L297.0 788.0 L300.0 788.0 L303.0 788.0 L306.0 788.0 L309.0 788.0 L312.0 788.0 L315.0 788.0 L318.0 788.0 L321.0 788.0 L324.0 788.0 L327.0 788.0 L330.0 788.0 L333.0 788.0 L336.0 788.0 L339.0 788.0 L342.0 788.0 L345.0 788.0 L348.0 788.0 L351.0 788.0 L354.0 788.0 L357.0 788.0 L360.0 788.0 L363.0 788.0 L366.0 788.0 L369.0 788.0 L372.0 788.0 L375.0 788.0 L378.0 788.0 L381.0 788.0 L384.0 788.0 L387.0 788.0 L390.0 788.0 L393.0 788.0 L396.0 788.0 L399.0 788.0 L402.0 788.0 L405.0 788.0 L408.0 788.0 L411.0 788.0 L414.0 788.0 L417.0 788.0 L420.0 788.0 L423.0 788.0 L426.0 788.0 L429.0 787.9 L432.0 787.9 L435.0 787.9 L438.0 787.9 L441.0 787.9 L444.0 787.9 L447.0 787.9 L450.0 787.9 L453.0 787.9 L456.0 787.9 L459.0 787.9 L462.0 787.9 L465.0 787.9 L468.0 787.9 L471.0 787.9 L474.0 787.9 L477.0 787.9 L480.0 787.8 L483.0 787.8 L486.0 787.8 L489.0 787.8 L492.0 787.8 L495.0 787.8 L498.0 787.8 L501.0 787.8 L504.0 787.8 L507.0 787.8 L510.0 787.8 L513.0 787.8 L516.0 787.8 L519.0 787.7 L522.0 787.7 L525.0 787.7 L528.0 787.7 L531.0 787.7 L534.0 787.7 L537.0 787.7 L540.0 787.7 L543.0 787.7 L546.0 787.7 L549.0 787.7 L552.0 787.7 L555.0 787.6 L558.0 787.6 L561.0 787.6 L564.0 787.6 L567.0 787.6 L570.0 787.6 L573.0 787.6 L576.0 787.6 L579.0 787.6 L582.0 787.6 L585.0 787.6 L588.0 787.5 L591.0 787.5 L594.0 787.5 L597.0 787.5 L600.0 787.5 L603.0 787.5 L606.0 787.5 L609.0 787.5 L612.0 787.4 L615.0 787.4 L618.0 787.4 L621.0 787.4 L624.0 787.4 L627.0 787.4 L630.0 787.4 L633.0 787.4 L636.0 787.3 L639.0 787.3 L642.0 787.3 L645.0 787.3 L648.0 787.3 L651.0 787.3 L654.0 787.3 L657.0 787.2 L660.0 787.2 L663.0 787.2 L666.0 787.2 L669.0 787.2 L672.0 787.2 L675.0 787.1 L678.0 787.1 L681.0 787.1 L684.0 787.1 L687.0 787.1 L690.0 787.0 L693.0 787.0 L696.0 787.0 L699.0 787.0 L702.0 787.0 L705.0 787.0 L708.0 786.9 L711.0 786.9 L714.0 786.9 L717.0 786.9 L720.0 786.8 L723.0 786.8 L726.0 786.8 L729.0 786.8 L732.0 786.8 L735.0 786.7 L738.0 786.7 L741.0 786.7 L744.0 786.7 L747.0 786.6 L750.0 786.6 L753.0 786.6 L756.0 786.6 L759.0 786.5 L762.0 786.5 L765.0 786.5 L768.0 786.5 L771.0 786.4 L774.0 786.4 L777.0 786.4 L780.0 786.3 L783.0 786.3 L786.0 786.3 L789.0 786.2 L792.0 786.2 L795.0 786.2 L798.0 786.2 L801.0 786.1 L804.0 786.1 L807.0 786.0 L810.0 786.0 L813.0 786.0 L816.0 785.9 L819.0 785.9 L822.0 785.9 L825.0 785.8 L828.0 785.8 L831.0 785.7 L834.0 785.7 L837.0 785.7 L840.0 785.6 L843.0 785.6 L846.0 785.5 L849.0 785.5 L852.0 785.4 L855.0 785.4 L858.0 785.3 L861.0 785.3 L864.0 785.2 L867.0 785.2 L870.0 785.1 L873.0 785.1 L876.0 785.0 L879.0 784.9 L882.0 784.9 L885.0 784.8 L888.0 784.7 L891.0 784.7 L894.0 784.6 L897.0 784.5 L900.0 784.4 L903.0 784.4 L906.0 784.3 L909.0 784.2 L912.0 784.1 L915.0 784.0 L918.0 783.9 L921.0 783.8 L924.0 783.7 L927.0 783.6 L930.0 783.5 L933.0 783.4 L936.0 783.2 L939.0 783.1 L942.0 783.0 L945.0 782.9 L948.0 782.8 L951.0 782.6 L954.0 782.5 L957.0 782.4 L960.0 782.2 L963.0 782.1 L966.0 782.0 L969.0 781.8 L972.0 781.7 L975.0 781.5 L978.0 781.4 L981.0 781.3 L984.0 781.1 L987.0 781.0 L990.0 780.8 L993.0 780.7 L996.0 780.6 L999.0 780.4 L1002.0 780.3 L1005.0 780.2 L1008.0 780.1 L1011.0 779.9 L1014.0 779.8 L1017.0 779.7 L1020.0 779.6 L1023.0 779.4 L1026.0 779.3 L1029.0 779.2 L1032.0 779.0 L1035.0 778.9 L1038.0 778.7 L1041.0 778.5 L1044.0 778.4 L1047.0 778.2 L1050.0 778.0 L1053.0 777.8 L1056.0 777.5 L1059.0 777.3 L1062.0 777.0 L1065.0 776.7 L1068.0 776.4 L1071.0 776.1 L1074.0 775.7 L1077.0 775.3 L1080.0 774.9 L1083.0 774.6 L1086.0 774.2 L1089.0 773.8 L1092.0 773.3 L1095.0 772.8 L1098.0 772.3 L1101.0 771.8 L1104.0 771.2 L1107.0 770.6 L1110.0 770.0 L1113.0 769.4 L1116.0 768.8 L1119.0 768.1 L1122.0 767.5 L1125.0 766.8 L1128.0 766.1 L1131.0 765.4 L1134.0 764.8 L1137.0 764.1 L1140.0 763.4 L1143.0 762.7 L1146.0 762.0 L1149.0 761.4 L1152.0 760.7 L1155.0 760.0 L1158.0 759.4 L1161.0 758.7 L1164.0 758.1 L1167.0 757.5 L1170.0 756.9 L1173.0 756.3 L1176.0 755.7 L1179.0 755.2 L1182.0 754.7 L1185.0 754.2 L1188.0 753.8 L1191.0 753.4 L1194.0 753.0 L1197.0 752.7 L1200.0 752.4 L1203.0 752.2 L1206.0 752.1 L1209.0 752.0 L1212.0 752.0 L1215.0 752.1 L1218.0 752.2 L1221.0 752.4 L1224.0 752.6 L1227.0 752.9 L1230.0 753.2 L1233.0 753.6 L1236.0 754.1 L1239.0 754.6 L1242.0 755.1 L1245.0 755.7 L1248.0 756.4 L1251.0 757.0 L1254.0 757.7 L1257.0 758.5 L1260.0 759.3 L1263.0 760.0 L1266.0 760.9 L1269.0 761.7 L1272.0 762.5 L1275.0 763.4 L1278.0 764.2 L1281.0 765.1 L1284.0 765.9 L1287.0 766.8 L1290.0 767.6 L1293.0 768.4 L1296.0 769.2 L1299.0 770.0 L1302.0 770.8 L1305.0 771.6 L1308.0 772.4 L1311.0 773.1 L1314.0 773.9 L1317.0 774.6 L1320.0 775.3 L1323.0 776.0 L1326.0 776.6 L1329.0 777.3 L1332.0 777.9 L1335.0 778.5 L1338.0 779.1 L1341.0 779.7 L1344.0 780.3 L1347.0 780.8 L1350.0 781.3 L1353.0 781.9 L1356.0 782.4 L1359.0 782.8 L1362.0 783.3 L1365.0 783.8 L1368.0 784.2 L1371.0 784.7 L1374.0 785.1 L1377.0 785.5 L1380.0 785.9 L1383.0 786.3 L1386.0 786.8 L1389.0 787.2 L1392.0 787.6 L1395.0 788.0 L1398.0 788.4 L1401.0 788.8 L1404.0 789.3 L1407.0 789.7 L1410.0 790.1 L1413.0 790.6 L1416.0 791.0 L1419.0 791.5 L1422.0 791.9 L1425.0 792.4 L1428.0 792.8 L1431.0 793.2 L1434.0 793.7 L1437.0 794.1 L1440.0 794.5 L1443.0 794.9 L1446.0 795.3 L1449.0 795.6 L1452.0 796.0 L1455.0 796.3 L1458.0 796.5 L1461.0 796.7 L1464.0 796.8 L1467.0 797.0 L1470.0 797.1 L1473.0 797.3 L1476.0 797.4 L1479.0 797.5 L1482.0 797.6 L1485.0 797.7 L1488.0 797.7 L1491.0 797.8 L1494.0 797.9 L1497.0 797.9 L1500.0 798.0 L1503.0 798.1 L1506.0 798.1 L1509.0 798.2 L1512.0 798.2 L1515.0 798.3 L1518.0 798.3 L1521.0 798.3 L1524.0 798.4 L1527.0 798.4 L1530.0 798.5 L1533.0 798.5 L1536.0 798.6 L1539.0 798.6 L1542.0 798.7 L1545.0 798.7 L1548.0 798.8 L1551.0 798.8 L1554.0 798.9 L1557.0 798.9 L1560.0 799.0 L1563.0 799.0 L1566.0 799.1 L1569.0 799.1 L1572.0 799.1 L1575.0 799.2 L1578.0 799.2 L1581.0 799.2 L1584.0 799.3 L1587.0 799.3 L1590.0 799.3 L1593.0 799.4 L1596.0 799.4 L1599.0 799.4 L1602.0 799.5 L1605.0 799.5 L1608.0 799.5 L1611.0 799.5 L1614.0 799.6 L1617.0 799.6 L1620.0 799.6 L1623.0 799.6 L1626.0 799.7 L1629.0 799.7 L1632.0 799.7 L1635.0 799.7 L1638.0 799.7 L1641.0 799.8 L1644.0 799.8 L1647.0 799.8 L1650.0 799.8 L1653.0 799.8 L1656.0 799.8 L1659.0 799.9 L1662.0 799.9 L1665.0 799.9 L1668.0 799.9 L1671.0 799.9 L1674.0 799.9 L1677.0 799.9 L1680.0 799.9 L1683.0 800.0 L1686.0 800.0 L1689.0 800.0 L1692.0 800.0 L1695.0 800.0 L1698.0 800.0 L1701.0 800.0 L1704.0 800.1 L1707.0 800.1 L1710.0 800.1 L1713.0 800.1 L1716.0 800.1 L1719.0 800.1 L1722.0 800.2 L1725.0 800.2 L1728.0 800.2 L1731.0 800.2 L1734.0 800.2 L1737.0 800.3 L1740.0 800.3 L1743.0 800.3 L1746.0 800.3 L1749.0 800.3 L1752.0 800.3 L1755.0 800.4 L1758.0 800.4 L1761.0 800.4 L1764.0 800.4 L1767.0 800.4 L1770.0 800.4 L1773.0 800.5 L1776.0 800.5 L1779.0 800.5 L1782.0 800.5 L1785.0 800.5 L1788.0 800.5 L1791.0 800.5 L1794.0 800.6 L1797.0 800.6 L1800.0 800.6 L1803.0 800.6 L1806.0 800.6 L1809.0 800.6 L1812.0 800.6 L1815.0 800.6 L1818.0 800.7 L1821.0 800.7 L1824.0 800.7 L1827.0 800.7 L1830.0 800.7 L1833.0 800.7 L1836.0 800.7 L1839.0 800.7 L1842.0 800.7 L1845.0 800.8 L1848.0 800.8 L1851.0 800.8 L1854.0 800.8 L1857.0 800.8 L1860.0 800.8 L1863.0 800.8 L1866.0 800.8 L1869.0 800.8 L1872.0 800.8 L1875.0 800.8 L1878.0 800.9 L1881.0 800.9 L1884.0 800.9 L1887.0 800.9 L1890.0 800.9 L1893.0 800.9 L1896.0 800.9 L1899.0 800.9 L1902.0 800.9 L1905.0 800.9 L1908.0 800.9 L1911.0 800.9 L1914.0 801.0 L1917.0 801.0 L1920.0 801.0 L1923.0 801.0 L1926.0 801.0 L1929.0 801.0 L1932.0 801.0" fill="none" stroke="#ff10ff" stroke-width="6.50" stroke-linejoin="round" stroke-linecap="butt"/>
<path d="M120.0 785.2 L123.0 785.2 L126.0 785.2 L129.0 785.2 L132.0 785.2 L135.0 785.2 L138.0 785.2 L141.0 785.2 L144.0 785.2 L147.0 785.2 L150.0 785.2 L153.0 785.2 L156.0 785.2 L159.0 785.2 L162.0 785.2 L165.0 785.2 L168.0 785.2 L171.0 785.2 L174.0 785.2 L177.0 785.2 L180.0 785.2 L183.0 785.2 L186.0 785.2 L189.0 785.2 L192.0 785.2 L195.0 785.2 L198.0 785.2 L201.0 785.2 L204.0 785.2 L207.0 785.2 L210.0 785.2 L213.0 785.2 L216.0 785.2 L219.0 785.2 L222.0 785.2 L225.0 785.2 L228.0 785.2 L231.0 785.2 L234.0 785.2 L237.0 785.2 L240.0 785.2 L243.0 785.2 L246.0 785.2 L249.0 785.2 L252.0 785.2 L255.0 785.2 L258.0 785.2 L261.0 785.2 L264.0 785.2 L267.0 785.2 L270.0 785.2 L273.0 785.2 L276.0 785.2 L279.0 785.2 L282.0 785.2 L285.0 785.2 L288.0 785.2 L291.0 785.2 L294.0 785.2 L297.0 785.2 L300.0 785.2 L303.0 785.2 L306.0 785.2 L309.0 785.2 L312.0 785.1 L315.0 785.1 L318.0 785.1 L321.0 785.1 L324.0 785.1 L327.0 785.1 L330.0 785.1 L333.0 785.1 L336.0 785.1 L339.0 785.1 L342.0 785.1 L345.0 785.1 L348.0 785.1 L351.0 785.1 L354.0 785.1 L357.0 785.1 L360.0 785.1 L363.0 785.1 L366.0 785.1 L369.0 785.1 L372.0 785.1 L375.0 785.1 L378.0 785.0 L381.0 785.0 L384.0 785.0 L387.0 785.0 L390.0 785.0 L393.0 785.0 L396.0 785.0 L399.0 785.0 L402.0 785.0 L405.0 785.0 L408.0 785.0 L411.0 785.0 L414.0 785.0 L417.0 785.0 L420.0 785.0 L423.0 785.0 L426.0 784.9 L429.0 784.9 L432.0 784.9 L435.0 784.9 L438.0 784.9 L441.0 784.9 L444.0 784.9 L447.0 784.9 L450.0 784.9 L453.0 784.9 L456.0 784.9 L459.0 784.9 L462.0 784.9 L465.0 784.8 L468.0 784.8 L471.0 784.8 L474.0 784.8 L477.0 784.8 L480.0 784.8 L483.0 784.8 L486.0 784.8 L489.0 784.8 L492.0 784.8 L495.0 784.7 L498.0 784.7 L501.0 784.7 L504.0 784.7 L507.0 784.7 L510.0 784.7 L513.0 784.7 L516.0 784.7 L519.0 784.6 L522.0 784.6 L525.0 784.6 L528.0 784.6 L531.0 784.6 L534.0 784.6 L537.0 784.6 L540.0 784.6 L543.0 784.5 L546.0 784.5 L549.0 784.5 L552.0 784.5 L555.0 784.5 L558.0 784.5 L561.0 784.5 L564.0 784.5 L567.0 784.4 L570.0 784.4 L573.0 784.4 L576.0 784.4 L579.0 784.4 L582.0 784.4 L585.0 784.4 L588.0 784.3 L591.0 784.3 L594.0 784.3 L597.0 784.3 L600.0 784.3 L603.0 784.3 L606.0 784.2 L609.0 784.2 L612.0 784.2 L615.0 784.2 L618.0 784.2 L621.0 784.2 L624.0 784.1 L627.0 784.1 L630.0 784.1 L633.0 784.1 L636.0 784.1 L639.0 784.0 L642.0 784.0 L645.0 784.0 L648.0 784.0 L651.0 784.0 L654.0 783.9 L657.0 783.9 L660.0 783.9 L663.0 783.9 L666.0 783.8 L669.0 783.8 L672.0 783.8 L675.0 783.8 L678.0 783.7 L681.0 783.7 L684.0 783.7 L687.0 783.7 L690.0 783.6 L693.0 783.6 L696.0 783.6 L699.0 783.6 L702.0 783.5 L705.0 783.5 L708.0 783.5 L711.0 783.5 L714.0 783.4 L717.0 783.4 L720.0 783.4 L723.0 783.4 L726.0 783.3 L729.0 783.3 L732.0 783.3 L735.0 783.3 L738.0 783.2 L741.0 783.2 L744.0 783.2 L747.0 783.2 L750.0 783.1 L753.0 783.1 L756.0 783.1 L759.0 783.0 L762.0 783.0 L765.0 783.0 L768.0 782.9 L771.0 782.9 L774.0 782.9 L777.0 782.8 L780.0 782.8 L783.0 782.7 L786.0 782.7 L789.0 782.7 L792.0 782.6 L795.0 782.6 L798.0 782.5 L801.0 782.5 L804.0 782.4 L807.0 782.4 L810.0 782.3 L813.0 782.3 L816.0 782.2 L819.0 782.2 L822.0 782.1 L825.0 782.1 L828.0 782.0 L831.0 781.9 L834.0 781.9 L837.0 781.8 L840.0 781.7 L843.0 781.7 L846.0 781.6 L849.0 781.5 L852.0 781.5 L855.0 781.4 L858.0 781.3 L861.0 781.3 L864.0 781.2 L867.0 781.1 L870.0 781.0 L873.0 781.0 L876.0 780.9 L879.0 780.8 L882.0 780.7 L885.0 780.6 L888.0 780.5 L891.0 780.4 L894.0 780.3 L897.0 780.2 L900.0 780.1 L903.0 780.0 L906.0 779.9 L909.0 779.8 L912.0 779.7 L915.0 779.6 L918.0 779.5 L921.0 779.4 L924.0 779.2 L927.0 779.1 L930.0 779.0 L933.0 778.8 L936.0 778.7 L939.0 778.5 L942.0 778.4 L945.0 778.2 L948.0 778.0 L951.0 777.8 L954.0 777.6 L957.0 777.4 L960.0 777.1 L963.0 776.8 L966.0 776.6 L969.0 776.3 L972.0 775.9 L975.0 775.6 L978.0 775.2 L981.0 774.8 L984.0 774.4 L987.0 774.0 L990.0 773.5 L993.0 773.0 L996.0 772.5 L999.0 772.0 L1002.0 771.5 L1005.0 771.0 L1008.0 770.4 L1011.0 769.8 L1014.0 769.3 L1017.0 768.7 L1020.0 768.1 L1023.0 767.5 L1026.0 767.0 L1029.0 766.4 L1032.0 765.8 L1035.0 765.3 L1038.0 764.7 L1041.0 764.2 L1044.0 763.7 L1047.0 763.2 L1050.0 762.7 L1053.0 762.2 L1056.0 761.7 L1059.0 761.2 L1062.0 760.7 L1065.0 760.2 L1068.0 759.7 L1071.0 759.1 L1074.0 758.6 L1077.0 758.0 L1080.0 757.3 L1083.0 756.8 L1086.0 756.2 L1089.0 755.5 L1092.0 754.9 L1095.0 754.1 L1098.0 753.4 L1101.0 752.6 L1104.0 751.7 L1107.0 750.9 L1110.0 749.9 L1113.0 749.0 L1116.0 748.0 L1119.0 747.0 L1122.0 745.9 L1125.0 744.8 L1128.0 743.6 L1131.0 742.4 L1134.0 741.2 L1137.0 739.9 L1140.0 738.5 L1143.0 737.1 L1146.0 735.6 L1149.0 734.0 L1152.0 732.3 L1155.0 730.6 L1158.0 728.7 L1161.0 726.8 L1164.0 724.8 L1167.0 722.7 L1170.0 720.6 L1173.0 718.3 L1176.0 715.9 L1179.0 713.5 L1182.0 711.0 L1185.0 708.4 L1188.0 705.7 L1191.0 702.9 L1194.0 700.1 L1197.0 697.2 L1200.0 694.2 L1203.0 691.1 L1206.0 688.0 L1209.0 684.8 L1212.0 681.5 L1215.0 678.1 L1218.0 674.7 L1221.0 671.1 L1224.0 667.5 L1227.0 663.9 L1230.0 660.1 L1233.0 656.3 L1236.0 652.3 L1239.0 648.3 L1242.0 644.3 L1245.0 640.1 L1248.0 635.9 L1251.0 631.7 L1254.0 627.4 L1257.0 623.0 L1260.0 618.6 L1263.0 614.3 L1266.0 609.9 L1269.0 605.5 L1272.0 601.2 L1275.0 596.9 L1278.0 592.7 L1281.0 588.6 L1284.0 584.7 L1287.0 580.9 L1290.0 577.2 L1293.0 573.8 L1296.0 570.6 L1299.0 567.6 L1302.0 564.9 L1305.0 562.5 L1308.0 560.4 L1311.0 558.6 L1314.0 557.2 L1317.0 556.1 L1320.0 555.4 L1323.0 555.0 L1326.0 555.1 L1329.0 555.4 L1332.0 556.0 L1335.0 557.0 L1338.0 558.2 L1341.0 559.8 L1344.0 561.6 L1347.0 563.7 L1350.0 566.0 L1353.0 568.6 L1356.0 571.5 L1359.0 574.6 L1362.0 578.0 L1365.0 581.5 L1368.0 585.3 L1371.0 589.3 L1374.0 593.4 L1377.0 597.6 L1380.0 602.0 L1383.0 606.5 L1386.0 611.1 L1389.0 615.8 L1392.0 620.6 L1395.0 625.3 L1398.0 630.1 L1401.0 635.0 L1404.0 639.8 L1407.0 644.6 L1410.0 649.4 L1413.0 654.2 L1416.0 659.0 L1419.0 663.7 L1422.0 668.4 L1425.0 673.1 L1428.0 677.8 L1431.0 682.4 L1434.0 687.0 L1437.0 691.7 L1440.0 696.3 L1443.0 700.9 L1446.0 705.5 L1449.0 710.1 L1452.0 714.6 L1455.0 719.2 L1458.0 723.6 L1461.0 728.0 L1464.0 732.3 L1467.0 736.5 L1470.0 740.6 L1473.0 744.6 L1476.0 748.5 L1479.0 752.2 L1482.0 755.8 L1485.0 759.2 L1488.0 762.5 L1491.0 765.6 L1494.0 768.5 L1497.0 771.2 L1500.0 773.7 L1503.0 776.1 L1506.0 778.4 L1509.0 780.4 L1512.0 782.3 L1515.0 784.1 L1518.0 785.7 L1521.0 787.2 L1524.0 788.6 L1527.0 789.8 L1530.0 791.0 L1533.0 792.0 L1536.0 792.9 L1539.0 793.8 L1542.0 794.5 L1545.0 795.2 L1548.0 795.8 L1551.0 796.4 L1554.0 796.8 L1557.0 797.2 L1560.0 797.6 L1563.0 797.9 L1566.0 798.1 L1569.0 798.3 L1572.0 798.5 L1575.0 798.7 L1578.0 798.8 L1581.0 798.9 L1584.0 798.9 L1587.0 799.0 L1590.0 799.0 L1593.0 799.1 L1596.0 799.1 L1599.0 799.1 L1602.0 799.1 L1605.0 799.2 L1608.0 799.2 L1611.0 799.2 L1614.0 799.2 L1617.0 799.2 L1620.0 799.2 L1623.0 799.2 L1626.0 799.2 L1629.0 799.2 L1632.0 799.2 L1635.0 799.2 L1638.0 799.2 L1641.0 799.1 L1644.0 799.1 L1647.0 799.1 L1650.0 799.1 L1653.0 799.1 L1656.0 799.1 L1659.0 799.0 L1662.0 799.0 L1665.0 799.0 L1668.0 798.9 L1671.0 798.9 L1674.0 798.9 L1677.0 798.8 L1680.0 798.8 L1683.0 798.8 L1686.0 798.8 L1689.0 798.7 L1692.0 798.7 L1695.0 798.7 L1698.0 798.7 L1701.0 798.6 L1704.0 798.6 L1707.0 798.6 L1710.0 798.6 L1713.0 798.6 L1716.0 798.6 L1719.0 798.5 L1722.0 798.5 L1725.0 798.5 L1728.0 798.5 L1731.0 798.5 L1734.0 798.5 L1737.0 798.5 L1740.0 798.5 L1743.0 798.5 L1746.0 798.5 L1749.0 798.5 L1752.0 798.5 L1755.0 798.5 L1758.0 798.5 L1761.0 798.5 L1764.0 798.5 L1767.0 798.5 L1770.0 798.5 L1773.0 798.5 L1776.0 798.5 L1779.0 798.5 L1782.0 798.5 L1785.0 798.5 L1788.0 798.5 L1791.0 798.5 L1794.0 798.5 L1797.0 798.5 L1800.0 798.5 L1803.0 798.5 L1806.0 798.5 L1809.0 798.5 L1812.0 798.5 L1815.0 798.5 L1818.0 798.5 L1821.0 798.5 L1824.0 798.5 L1827.0 798.5 L1830.0 798.5 L1833.0 798.5 L1836.0 798.5 L1839.0 798.5 L1842.0 798.5 L1845.0 798.5 L1848.0 798.5 L1851.0 798.5 L1854.0 798.5 L1857.0 798.5 L1860.0 798.5 L1863.0 798.5 L1866.0 798.5 L1869.0 798.5 L1872.0 798.5 L1875.0 798.5 L1878.0 798.5 L1881.0 798.5 L1884.0 798.5 L1887.0 798.5 L1890.0 798.5 L1893.0 798.5 L1896.0 798.5 L1899.0 798.5 L1902.0 798.5 L1905.0 798.5 L1908.0 798.5 L1911.0 798.5 L1914.0 798.5 L1917.0 798.5 L1920.0 798.5 L1923.0 798.5 L1926.0 798.5 L1929.0 798.5 L1932.0 798.5" fill="none" stroke="#1010ff" stroke-width="6.50" stroke-linejoin="round" stroke-linecap="butt"/>
</g>
<g id="spec-b">
<path d="M120.0 1164.0 L290.0 1164.0 L300.0 1162.5 L385.0 1162.5 L400.0 1164.0 L500.0 1163.2 L600.0 1161.5 L740.0 1161.5 L760.0 1164.0 L940.0 1164.0 L970.0 1158.0 L984.8 1144.8 L1004.8 1137.3 L1015.0 1129.8 L1030.0 1117.3 L1050.0 1102.4 L1065.0 1089.9 L1082.5 1079.9 L1095.0 1062.4 L1114.9 1047.4 L1134.9 1029.9 L1147.4 1014.9 L1169.9 1004.9 L1179.9 989.9 L1199.9 972.4 L1214.9 954.9 L1232.4 932.4 L1242.4 912.5 L1259.9 892.5 L1274.9 870.0 L1284.9 863.7 L1294.8 861.2 L1307.3 865.0 L1317.3 872.5 L1327.3 892.5 L1339.8 919.9 L1352.3 949.9 L1362.3 979.9 L1372.3 1009.9 L1382.3 1044.9 L1394.8 1072.4 L1407.3 1099.9 L1422.3 1127.3 L1434.8 1144.8 L1449.8 1159.8 L1462.3 1168.6 L1487.3 1173.6 L1520.0 1183.0 L1600.0 1192.0 L1700.0 1195.0 L1934.0 1196.0" fill="none" stroke="#111111" stroke-width="6.20" stroke-linejoin="miter" stroke-linecap="butt" stroke-miterlimit="3"/>
<path d="M120.0 1169.3 L700.0 1169.8 L1000.0 1171.5 L1125.0 1174.0 L1200.0 1177.5 L1275.0 1182.5 L1350.0 1187.5 L1425.0 1191.5 L1488.0 1193.0 L1934.0 1194.5" fill="none" stroke="#ff1010" stroke-width="6.50" stroke-linejoin="round" stroke-linecap="butt"/>
<path d="M120.0 1168.5 L123.0 1168.5 L126.0 1168.5 L129.0 1168.5 L132.0 1168.5 L135.0 1168.5 L138.0 1168.5 L141.0 1168.5 L144.0 1168.5 L147.0 1168.5 L150.0 1168.5 L153.0 1168.5 L156.0 1168.5 L159.0 1168.5 L162.0 1168.5 L165.0 1168.5 L168.0 1168.5 L171.0 1168.5 L174.0 1168.5 L177.0 1168.5 L180.0 1168.5 L183.0 1168.5 L186.0 1168.5 L189.0 1168.5 L192.0 1168.5 L195.0 1168.5 L198.0 1168.5 L201.0 1168.5 L204.0 1168.5 L207.0 1168.5 L210.0 1168.5 L213.0 1168.5 L216.0 1168.5 L219.0 1168.5 L222.0 1168.5 L225.0 1168.5 L228.0 1168.5 L231.0 1168.5 L234.0 1168.5 L237.0 1168.5 L240.0 1168.5 L243.0 1168.5 L246.0 1168.5 L249.0 1168.5 L252.0 1168.5 L255.0 1168.5 L258.0 1168.5 L261.0 1168.5 L264.0 1168.5 L267.0 1168.5 L270.0 1168.5 L273.0 1168.5 L276.0 1168.5 L279.0 1168.5 L282.0 1168.5 L285.0 1168.5 L288.0 1168.5 L291.0 1168.5 L294.0 1168.5 L297.0 1168.5 L300.0 1168.5 L303.0 1168.5 L306.0 1168.5 L309.0 1168.5 L312.0 1168.5 L315.0 1168.5 L318.0 1168.5 L321.0 1168.5 L324.0 1168.5 L327.0 1168.5 L330.0 1168.5 L333.0 1168.5 L336.0 1168.5 L339.0 1168.5 L342.0 1168.5 L345.0 1168.5 L348.0 1168.5 L351.0 1168.5 L354.0 1168.5 L357.0 1168.5 L360.0 1168.5 L363.0 1168.5 L366.0 1168.5 L369.0 1168.5 L372.0 1168.5 L375.0 1168.5 L378.0 1168.5 L381.0 1168.5 L384.0 1168.5 L387.0 1168.5 L390.0 1168.5 L393.0 1168.5 L396.0 1168.5 L399.0 1168.5 L402.0 1168.5 L405.0 1168.5 L408.0 1168.5 L411.0 1168.5 L414.0 1168.5 L417.0 1168.5 L420.0 1168.5 L423.0 1168.5 L426.0 1168.5 L429.0 1168.5 L432.0 1168.5 L435.0 1168.5 L438.0 1168.5 L441.0 1168.5 L444.0 1168.5 L447.0 1168.5 L450.0 1168.5 L453.0 1168.5 L456.0 1168.5 L459.0 1168.5 L462.0 1168.5 L465.0 1168.5 L468.0 1168.5 L471.0 1168.5 L474.0 1168.5 L477.0 1168.5 L480.0 1168.5 L483.0 1168.5 L486.0 1168.5 L489.0 1168.5 L492.0 1168.5 L495.0 1168.5 L498.0 1168.5 L501.0 1168.4 L504.0 1168.4 L507.0 1168.4 L510.0 1168.4 L513.0 1168.4 L516.0 1168.4 L519.0 1168.4 L522.0 1168.4 L525.0 1168.4 L528.0 1168.4 L531.0 1168.4 L534.0 1168.4 L537.0 1168.4 L540.0 1168.4 L543.0 1168.4 L546.0 1168.4 L549.0 1168.4 L552.0 1168.4 L555.0 1168.4 L558.0 1168.4 L561.0 1168.4 L564.0 1168.4 L567.0 1168.4 L570.0 1168.4 L573.0 1168.3 L576.0 1168.3 L579.0 1168.3 L582.0 1168.3 L585.0 1168.3 L588.0 1168.3 L591.0 1168.3 L594.0 1168.3 L597.0 1168.3 L600.0 1168.3 L603.0 1168.3 L606.0 1168.3 L609.0 1168.3 L612.0 1168.3 L615.0 1168.2 L618.0 1168.2 L621.0 1168.2 L624.0 1168.2 L627.0 1168.2 L630.0 1168.2 L633.0 1168.2 L636.0 1168.2 L639.0 1168.2 L642.0 1168.1 L645.0 1168.1 L648.0 1168.1 L651.0 1168.1 L654.0 1168.1 L657.0 1168.1 L660.0 1168.1 L663.0 1168.1 L666.0 1168.1 L669.0 1168.0 L672.0 1168.0 L675.0 1168.0 L678.0 1168.0 L681.0 1168.0 L684.0 1168.0 L687.0 1168.0 L690.0 1167.9 L693.0 1167.9 L696.0 1167.9 L699.0 1167.9 L702.0 1167.9 L705.0 1167.9 L708.0 1167.9 L711.0 1167.9 L714.0 1167.9 L717.0 1167.9 L720.0 1167.9 L723.0 1167.9 L726.0 1167.9 L729.0 1167.9 L732.0 1167.9 L735.0 1167.9 L738.0 1167.9 L741.0 1167.9 L744.0 1167.9 L747.0 1167.9 L750.0 1167.9 L753.0 1167.8 L756.0 1167.8 L759.0 1167.8 L762.0 1167.8 L765.0 1167.8 L768.0 1167.8 L771.0 1167.8 L774.0 1167.8 L777.0 1167.8 L780.0 1167.8 L783.0 1167.8 L786.0 1167.8 L789.0 1167.8 L792.0 1167.8 L795.0 1167.7 L798.0 1167.7 L801.0 1167.7 L804.0 1167.7 L807.0 1167.7 L810.0 1167.7 L813.0 1167.7 L816.0 1167.7 L819.0 1167.7 L822.0 1167.6 L825.0 1167.6 L828.0 1167.6 L831.0 1167.6 L834.0 1167.6 L837.0 1167.5 L840.0 1167.5 L843.0 1167.5 L846.0 1167.4 L849.0 1167.4 L852.0 1167.4 L855.0 1167.3 L858.0 1167.3 L861.0 1167.2 L864.0 1167.2 L867.0 1167.1 L870.0 1167.1 L873.0 1167.0 L876.0 1167.0 L879.0 1166.9 L882.0 1166.9 L885.0 1166.8 L888.0 1166.7 L891.0 1166.7 L894.0 1166.6 L897.0 1166.6 L900.0 1166.5 L903.0 1166.4 L906.0 1166.3 L909.0 1166.3 L912.0 1166.2 L915.0 1166.1 L918.0 1166.1 L921.0 1166.0 L924.0 1165.9 L927.0 1165.8 L930.0 1165.8 L933.0 1165.7 L936.0 1165.6 L939.0 1165.5 L942.0 1165.4 L945.0 1165.4 L948.0 1165.3 L951.0 1165.2 L954.0 1165.1 L957.0 1165.0 L960.0 1164.9 L963.0 1164.8 L966.0 1164.8 L969.0 1164.7 L972.0 1164.6 L975.0 1164.5 L978.0 1164.4 L981.0 1164.3 L984.0 1164.2 L987.0 1164.1 L990.0 1164.0 L993.0 1163.9 L996.0 1163.8 L999.0 1163.8 L1002.0 1163.7 L1005.0 1163.6 L1008.0 1163.6 L1011.0 1163.6 L1014.0 1163.5 L1017.0 1163.5 L1020.0 1163.4 L1023.0 1163.4 L1026.0 1163.3 L1029.0 1163.3 L1032.0 1163.2 L1035.0 1163.2 L1038.0 1163.1 L1041.0 1163.0 L1044.0 1163.0 L1047.0 1162.9 L1050.0 1162.9 L1053.0 1162.8 L1056.0 1162.7 L1059.0 1162.6 L1062.0 1162.5 L1065.0 1162.5 L1068.0 1162.4 L1071.0 1162.3 L1074.0 1162.2 L1077.0 1162.1 L1080.0 1162.0 L1083.0 1161.9 L1086.0 1161.8 L1089.0 1161.7 L1092.0 1161.5 L1095.0 1161.4 L1098.0 1161.3 L1101.0 1161.2 L1104.0 1161.0 L1107.0 1160.9 L1110.0 1160.8 L1113.0 1160.6 L1116.0 1160.5 L1119.0 1160.3 L1122.0 1160.2 L1125.0 1160.0 L1128.0 1159.9 L1131.0 1159.8 L1134.0 1159.7 L1137.0 1159.6 L1140.0 1159.5 L1143.0 1159.3 L1146.0 1159.2 L1149.0 1159.0 L1152.0 1158.8 L1155.0 1158.7 L1158.0 1158.5 L1161.0 1158.3 L1164.0 1158.0 L1167.0 1157.8 L1170.0 1157.6 L1173.0 1157.3 L1176.0 1157.0 L1179.0 1156.7 L1182.0 1156.4 L1185.0 1156.1 L1188.0 1155.7 L1191.0 1155.4 L1194.0 1155.0 L1197.0 1154.6 L1200.0 1154.2 L1203.0 1153.9 L1206.0 1153.5 L1209.0 1153.1 L1212.0 1152.8 L1215.0 1152.4 L1218.0 1152.0 L1221.0 1151.6 L1224.0 1151.2 L1227.0 1150.7 L1230.0 1150.3 L1233.0 1149.9 L1236.0 1149.5 L1239.0 1149.1 L1242.0 1148.7 L1245.0 1148.3 L1248.0 1147.9 L1251.0 1147.5 L1254.0 1147.1 L1257.0 1146.8 L1260.0 1146.4 L1263.0 1146.1 L1266.0 1145.9 L1269.0 1145.6 L1272.0 1145.4 L1275.0 1145.2 L1278.0 1145.0 L1281.0 1144.9 L1284.0 1144.8 L1287.0 1144.8 L1290.0 1144.8 L1293.0 1144.8 L1296.0 1144.9 L1299.0 1145.0 L1302.0 1145.2 L1305.0 1145.4 L1308.0 1145.7 L1311.0 1146.0 L1314.0 1146.4 L1317.0 1146.8 L1320.0 1147.2 L1323.0 1147.7 L1326.0 1148.3 L1329.0 1148.8 L1332.0 1149.4 L1335.0 1150.1 L1338.0 1150.8 L1341.0 1151.5 L1344.0 1152.2 L1347.0 1152.9 L1350.0 1153.7 L1353.0 1154.5 L1356.0 1155.2 L1359.0 1156.0 L1362.0 1156.8 L1365.0 1157.6 L1368.0 1158.4 L1371.0 1159.2 L1374.0 1160.0 L1377.0 1160.8 L1380.0 1161.6 L1383.0 1162.4 L1386.0 1163.1 L1389.0 1163.9 L1392.0 1164.7 L1395.0 1165.4 L1398.0 1166.2 L1401.0 1166.9 L1404.0 1167.6 L1407.0 1168.3 L1410.0 1169.0 L1413.0 1169.6 L1416.0 1170.3 L1419.0 1170.9 L1422.0 1171.6 L1425.0 1172.2 L1428.0 1172.7 L1431.0 1173.1 L1434.0 1173.6 L1437.0 1174.1 L1440.0 1174.5 L1443.0 1175.0 L1446.0 1175.4 L1449.0 1175.8 L1452.0 1176.2 L1455.0 1176.6 L1458.0 1177.0 L1461.0 1177.4 L1464.0 1177.7 L1467.0 1178.1 L1470.0 1178.5 L1473.0 1178.8 L1476.0 1179.2 L1479.0 1179.5 L1482.0 1179.8 L1485.0 1180.2 L1488.0 1180.5 L1491.0 1180.7 L1494.0 1181.0 L1497.0 1181.2 L1500.0 1181.5 L1503.0 1181.7 L1506.0 1181.9 L1509.0 1182.1 L1512.0 1182.3 L1515.0 1182.5 L1518.0 1182.7 L1521.0 1182.9 L1524.0 1183.1 L1527.0 1183.3 L1530.0 1183.5 L1533.0 1183.7 L1536.0 1183.8 L1539.0 1184.0 L1542.0 1184.1 L1545.0 1184.3 L1548.0 1184.4 L1551.0 1184.6 L1554.0 1184.7 L1557.0 1184.9 L1560.0 1185.0 L1563.0 1185.1 L1566.0 1185.3 L1569.0 1185.4 L1572.0 1185.5 L1575.0 1185.6 L1578.0 1185.7 L1581.0 1185.8 L1584.0 1186.0 L1587.0 1186.1 L1590.0 1186.2 L1593.0 1186.3 L1596.0 1186.4 L1599.0 1186.5 L1602.0 1186.6 L1605.0 1186.7 L1608.0 1186.7 L1611.0 1186.8 L1614.0 1186.9 L1617.0 1187.0 L1620.0 1187.1 L1623.0 1187.2 L1626.0 1187.2 L1629.0 1187.3 L1632.0 1187.4 L1635.0 1187.5 L1638.0 1187.6 L1641.0 1187.6 L1644.0 1187.7 L1647.0 1187.8 L1650.0 1187.8 L1653.0 1187.9 L1656.0 1188.0 L1659.0 1188.0 L1662.0 1188.1 L1665.0 1188.1 L1668.0 1188.2 L1671.0 1188.3 L1674.0 1188.3 L1677.0 1188.4 L1680.0 1188.4 L1683.0 1188.5 L1686.0 1188.5 L1689.0 1188.6 L1692.0 1188.6 L1695.0 1188.7 L1698.0 1188.7 L1701.0 1188.8 L1704.0 1188.8 L1707.0 1188.9 L1710.0 1188.9 L1713.0 1189.0 L1716.0 1189.0 L1719.0 1189.1 L1722.0 1189.1 L1725.0 1189.1 L1728.0 1189.2 L1731.0 1189.2 L1734.0 1189.3 L1737.0 1189.3 L1740.0 1189.3 L1743.0 1189.4 L1746.0 1189.4 L1749.0 1189.5 L1752.0 1189.5 L1755.0 1189.5 L1758.0 1189.6 L1761.0 1189.6 L1764.0 1189.6 L1767.0 1189.7 L1770.0 1189.7 L1773.0 1189.7 L1776.0 1189.8 L1779.0 1189.8 L1782.0 1189.8 L1785.0 1189.9 L1788.0 1189.9 L1791.0 1189.9 L1794.0 1189.9 L1797.0 1190.0 L1800.0 1190.0 L1803.0 1190.0 L1806.0 1190.1 L1809.0 1190.1 L1812.0 1190.1 L1815.0 1190.1 L1818.0 1190.2 L1821.0 1190.2 L1824.0 1190.2 L1827.0 1190.2 L1830.0 1190.3 L1833.0 1190.3 L1836.0 1190.3 L1839.0 1190.3 L1842.0 1190.4 L1845.0 1190.4 L1848.0 1190.4 L1851.0 1190.4 L1854.0 1190.5 L1857.0 1190.5 L1860.0 1190.5 L1863.0 1190.5 L1866.0 1190.6 L1869.0 1190.6 L1872.0 1190.6 L1875.0 1190.6 L1878.0 1190.6 L1881.0 1190.7 L1884.0 1190.7 L1887.0 1190.7 L1890.0 1190.7 L1893.0 1190.7 L1896.0 1190.8 L1899.0 1190.8 L1902.0 1190.8 L1905.0 1190.8 L1908.0 1190.8 L1911.0 1190.9 L1914.0 1190.9 L1917.0 1190.9 L1920.0 1190.9 L1923.0 1190.9 L1926.0 1191.0 L1929.0 1191.0 L1932.0 1191.0" fill="none" stroke="#1010ff" stroke-width="6.50" stroke-linejoin="round" stroke-linecap="butt"/>
<path d="M120.0 1166.4 L123.0 1166.4 L126.0 1166.4 L129.0 1166.4 L132.0 1166.3 L135.0 1166.3 L138.0 1166.3 L141.0 1166.3 L144.0 1166.3 L147.0 1166.3 L150.0 1166.3 L153.0 1166.3 L156.0 1166.3 L159.0 1166.2 L162.0 1166.2 L165.0 1166.2 L168.0 1166.2 L171.0 1166.2 L174.0 1166.2 L177.0 1166.2 L180.0 1166.1 L183.0 1166.1 L186.0 1166.1 L189.0 1166.1 L192.0 1166.1 L195.0 1166.1 L198.0 1166.1 L201.0 1166.1 L204.0 1166.0 L207.0 1166.0 L210.0 1166.0 L213.0 1166.0 L216.0 1166.0 L219.0 1166.0 L222.0 1166.0 L225.0 1165.9 L228.0 1165.9 L231.0 1165.9 L234.0 1165.9 L237.0 1165.9 L240.0 1165.9 L243.0 1165.8 L246.0 1165.8 L249.0 1165.8 L252.0 1165.8 L255.0 1165.8 L258.0 1165.8 L261.0 1165.8 L264.0 1165.7 L267.0 1165.7 L270.0 1165.7 L273.0 1165.7 L276.0 1165.7 L279.0 1165.7 L282.0 1165.7 L285.0 1165.7 L288.0 1165.6 L291.0 1165.6 L294.0 1165.6 L297.0 1165.6 L300.0 1165.6 L303.0 1165.6 L306.0 1165.6 L309.0 1165.6 L312.0 1165.6 L315.0 1165.6 L318.0 1165.6 L321.0 1165.6 L324.0 1165.6 L327.0 1165.6 L330.0 1165.5 L333.0 1165.5 L336.0 1165.5 L339.0 1165.5 L342.0 1165.5 L345.0 1165.5 L348.0 1165.5 L351.0 1165.5 L354.0 1165.5 L357.0 1165.5 L360.0 1165.5 L363.0 1165.5 L366.0 1165.5 L369.0 1165.5 L372.0 1165.5 L375.0 1165.5 L378.0 1165.5 L381.0 1165.4 L384.0 1165.4 L387.0 1165.4 L390.0 1165.4 L393.0 1165.4 L396.0 1165.4 L399.0 1165.4 L402.0 1165.4 L405.0 1165.4 L408.0 1165.4 L411.0 1165.4 L414.0 1165.4 L417.0 1165.4 L420.0 1165.3 L423.0 1165.3 L426.0 1165.3 L429.0 1165.3 L432.0 1165.3 L435.0 1165.3 L438.0 1165.3 L441.0 1165.3 L444.0 1165.3 L447.0 1165.3 L450.0 1165.2 L453.0 1165.2 L456.0 1165.2 L459.0 1165.2 L462.0 1165.2 L465.0 1165.2 L468.0 1165.2 L471.0 1165.2 L474.0 1165.2 L477.0 1165.1 L480.0 1165.1 L483.0 1165.1 L486.0 1165.1 L489.0 1165.1 L492.0 1165.1 L495.0 1165.1 L498.0 1165.0 L501.0 1165.0 L504.0 1165.0 L507.0 1165.0 L510.0 1165.0 L513.0 1165.0 L516.0 1165.0 L519.0 1164.9 L522.0 1164.9 L525.0 1164.9 L528.0 1164.9 L531.0 1164.9 L534.0 1164.9 L537.0 1164.8 L540.0 1164.8 L543.0 1164.8 L546.0 1164.8 L549.0 1164.8 L552.0 1164.8 L555.0 1164.7 L558.0 1164.7 L561.0 1164.7 L564.0 1164.7 L567.0 1164.7 L570.0 1164.6 L573.0 1164.6 L576.0 1164.6 L579.0 1164.6 L582.0 1164.6 L585.0 1164.5 L588.0 1164.5 L591.0 1164.5 L594.0 1164.5 L597.0 1164.5 L600.0 1164.4 L603.0 1164.4 L606.0 1164.4 L609.0 1164.4 L612.0 1164.4 L615.0 1164.4 L618.0 1164.3 L621.0 1164.3 L624.0 1164.3 L627.0 1164.3 L630.0 1164.3 L633.0 1164.2 L636.0 1164.2 L639.0 1164.2 L642.0 1164.2 L645.0 1164.2 L648.0 1164.2 L651.0 1164.1 L654.0 1164.1 L657.0 1164.1 L660.0 1164.1 L663.0 1164.1 L666.0 1164.0 L669.0 1164.0 L672.0 1164.0 L675.0 1164.0 L678.0 1163.9 L681.0 1163.9 L684.0 1163.9 L687.0 1163.9 L690.0 1163.8 L693.0 1163.8 L696.0 1163.8 L699.0 1163.7 L702.0 1163.7 L705.0 1163.7 L708.0 1163.7 L711.0 1163.7 L714.0 1163.6 L717.0 1163.6 L720.0 1163.6 L723.0 1163.6 L726.0 1163.6 L729.0 1163.5 L732.0 1163.5 L735.0 1163.5 L738.0 1163.5 L741.0 1163.4 L744.0 1163.4 L747.0 1163.4 L750.0 1163.3 L753.0 1163.3 L756.0 1163.3 L759.0 1163.2 L762.0 1163.2 L765.0 1163.2 L768.0 1163.1 L771.0 1163.1 L774.0 1163.0 L777.0 1163.0 L780.0 1163.0 L783.0 1162.9 L786.0 1162.9 L789.0 1162.8 L792.0 1162.8 L795.0 1162.7 L798.0 1162.7 L801.0 1162.6 L804.0 1162.6 L807.0 1162.5 L810.0 1162.5 L813.0 1162.4 L816.0 1162.3 L819.0 1162.3 L822.0 1162.2 L825.0 1162.2 L828.0 1162.1 L831.0 1162.0 L834.0 1162.0 L837.0 1161.9 L840.0 1161.9 L843.0 1161.8 L846.0 1161.7 L849.0 1161.7 L852.0 1161.6 L855.0 1161.6 L858.0 1161.5 L861.0 1161.4 L864.0 1161.4 L867.0 1161.3 L870.0 1161.3 L873.0 1161.2 L876.0 1161.1 L879.0 1161.1 L882.0 1161.0 L885.0 1160.9 L888.0 1160.9 L891.0 1160.8 L894.0 1160.7 L897.0 1160.6 L900.0 1160.5 L903.0 1160.5 L906.0 1160.4 L909.0 1160.2 L912.0 1160.1 L915.0 1160.0 L918.0 1159.9 L921.0 1159.7 L924.0 1159.5 L927.0 1159.4 L930.0 1159.1 L933.0 1158.9 L936.0 1158.7 L939.0 1158.4 L942.0 1158.1 L945.0 1157.7 L948.0 1157.3 L951.0 1156.9 L954.0 1156.5 L957.0 1156.0 L960.0 1155.5 L963.0 1154.9 L966.0 1154.4 L969.0 1153.8 L972.0 1153.2 L975.0 1152.5 L978.0 1151.9 L981.0 1151.2 L984.0 1150.5 L987.0 1149.8 L990.0 1149.1 L993.0 1148.4 L996.0 1147.7 L999.0 1147.0 L1002.0 1146.3 L1005.0 1145.6 L1008.0 1145.0 L1011.0 1144.3 L1014.0 1143.7 L1017.0 1143.0 L1020.0 1142.4 L1023.0 1141.7 L1026.0 1141.1 L1029.0 1140.4 L1032.0 1139.8 L1035.0 1139.2 L1038.0 1138.5 L1041.0 1137.9 L1044.0 1137.3 L1047.0 1136.7 L1050.0 1136.0 L1053.0 1135.4 L1056.0 1134.7 L1059.0 1134.1 L1062.0 1133.4 L1065.0 1132.7 L1068.0 1132.0 L1071.0 1131.2 L1074.0 1130.4 L1077.0 1129.6 L1080.0 1128.8 L1083.0 1127.9 L1086.0 1126.9 L1089.0 1125.9 L1092.0 1124.9 L1095.0 1123.7 L1098.0 1122.6 L1101.0 1121.3 L1104.0 1120.0 L1107.0 1118.6 L1110.0 1117.1 L1113.0 1115.6 L1116.0 1114.0 L1119.0 1112.2 L1122.0 1110.4 L1125.0 1108.5 L1128.0 1106.6 L1131.0 1104.7 L1134.0 1102.6 L1137.0 1100.4 L1140.0 1098.2 L1143.0 1095.9 L1146.0 1093.5 L1149.0 1091.1 L1152.0 1088.5 L1155.0 1085.9 L1158.0 1083.3 L1161.0 1080.5 L1164.0 1077.7 L1167.0 1074.9 L1170.0 1071.9 L1173.0 1068.9 L1176.0 1065.9 L1179.0 1062.8 L1182.0 1059.6 L1185.0 1056.4 L1188.0 1053.1 L1191.0 1049.8 L1194.0 1046.5 L1197.0 1043.2 L1200.0 1039.8 L1203.0 1036.6 L1206.0 1033.3 L1209.0 1030.1 L1212.0 1026.8 L1215.0 1023.7 L1218.0 1020.6 L1221.0 1017.6 L1224.0 1014.7 L1227.0 1011.9 L1230.0 1009.2 L1233.0 1006.7 L1236.0 1004.3 L1239.0 1002.0 L1242.0 1000.0 L1245.0 998.1 L1248.0 996.4 L1251.0 994.9 L1254.0 993.6 L1257.0 992.5 L1260.0 991.6 L1263.0 991.0 L1266.0 990.6 L1269.0 990.5 L1272.0 990.5 L1275.0 990.9 L1278.0 991.5 L1281.0 992.5 L1284.0 993.7 L1287.0 995.2 L1290.0 997.0 L1293.0 999.1 L1296.0 1001.4 L1299.0 1003.9 L1302.0 1006.7 L1305.0 1009.6 L1308.0 1012.8 L1311.0 1016.1 L1314.0 1019.6 L1317.0 1023.2 L1320.0 1026.9 L1323.0 1030.7 L1326.0 1034.6 L1329.0 1038.5 L1332.0 1042.5 L1335.0 1046.6 L1338.0 1050.6 L1341.0 1054.7 L1344.0 1058.7 L1347.0 1062.7 L1350.0 1066.7 L1353.0 1070.6 L1356.0 1074.4 L1359.0 1078.2 L1362.0 1081.9 L1365.0 1085.5 L1368.0 1089.1 L1371.0 1092.5 L1374.0 1095.8 L1377.0 1099.1 L1380.0 1102.2 L1383.0 1105.3 L1386.0 1108.3 L1389.0 1111.1 L1392.0 1113.9 L1395.0 1116.6 L1398.0 1119.2 L1401.0 1121.6 L1404.0 1124.0 L1407.0 1126.3 L1410.0 1128.5 L1413.0 1130.7 L1416.0 1132.7 L1419.0 1134.7 L1422.0 1136.5 L1425.0 1138.4 L1428.0 1140.0 L1431.0 1141.6 L1434.0 1143.1 L1437.0 1144.5 L1440.0 1145.9 L1443.0 1147.2 L1446.0 1148.4 L1449.0 1149.7 L1452.0 1150.8 L1455.0 1151.9 L1458.0 1153.0 L1461.0 1154.0 L1464.0 1155.0 L1467.0 1156.0 L1470.0 1156.9 L1473.0 1157.9 L1476.0 1158.8 L1479.0 1159.6 L1482.0 1160.5 L1485.0 1161.3 L1488.0 1162.1 L1491.0 1162.9 L1494.0 1163.6 L1497.0 1164.3 L1500.0 1165.0 L1503.0 1165.7 L1506.0 1166.3 L1509.0 1167.0 L1512.0 1167.6 L1515.0 1168.2 L1518.0 1168.8 L1521.0 1169.4 L1524.0 1170.0 L1527.0 1170.5 L1530.0 1171.0 L1533.0 1171.5 L1536.0 1172.0 L1539.0 1172.5 L1542.0 1172.9 L1545.0 1173.3 L1548.0 1173.7 L1551.0 1174.1 L1554.0 1174.5 L1557.0 1174.9 L1560.0 1175.2 L1563.0 1175.6 L1566.0 1175.9 L1569.0 1176.2 L1572.0 1176.5 L1575.0 1176.8 L1578.0 1177.0 L1581.0 1177.3 L1584.0 1177.5 L1587.0 1177.8 L1590.0 1178.0 L1593.0 1178.2 L1596.0 1178.5 L1599.0 1178.7 L1602.0 1178.9 L1605.0 1179.1 L1608.0 1179.3 L1611.0 1179.4 L1614.0 1179.6 L1617.0 1179.8 L1620.0 1180.0 L1623.0 1180.1 L1626.0 1180.3 L1629.0 1180.4 L1632.0 1180.6 L1635.0 1180.7 L1638.0 1180.9 L1641.0 1181.0 L1644.0 1181.2 L1647.0 1181.3 L1650.0 1181.4 L1653.0 1181.5 L1656.0 1181.7 L1659.0 1181.8 L1662.0 1181.9 L1665.0 1182.0 L1668.0 1182.1 L1671.0 1182.2 L1674.0 1182.3 L1677.0 1182.4 L1680.0 1182.5 L1683.0 1182.6 L1686.0 1182.7 L1689.0 1182.8 L1692.0 1182.9 L1695.0 1183.0 L1698.0 1183.1 L1701.0 1183.1 L1704.0 1183.2 L1707.0 1183.3 L1710.0 1183.4 L1713.0 1183.5 L1716.0 1183.5 L1719.0 1183.6 L1722.0 1183.7 L1725.0 1183.7 L1728.0 1183.8 L1731.0 1183.9 L1734.0 1183.9 L1737.0 1184.0 L1740.0 1184.1 L1743.0 1184.1 L1746.0 1184.2 L1749.0 1184.2 L1752.0 1184.3 L1755.0 1184.3 L1758.0 1184.4 L1761.0 1184.4 L1764.0 1184.5 L1767.0 1184.5 L1770.0 1184.6 L1773.0 1184.6 L1776.0 1184.7 L1779.0 1184.7 L1782.0 1184.8 L1785.0 1184.8 L1788.0 1184.8 L1791.0 1184.9 L1794.0 1184.9 L1797.0 1185.0 L1800.0 1185.0 L1803.0 1185.0 L1806.0 1185.1 L1809.0 1185.1 L1812.0 1185.1 L1815.0 1185.2 L1818.0 1185.2 L1821.0 1185.2 L1824.0 1185.3 L1827.0 1185.3 L1830.0 1185.3 L1833.0 1185.4 L1836.0 1185.4 L1839.0 1185.4 L1842.0 1185.4 L1845.0 1185.5 L1848.0 1185.5 L1851.0 1185.5 L1854.0 1185.5 L1857.0 1185.6 L1860.0 1185.6 L1863.0 1185.6 L1866.0 1185.6 L1869.0 1185.7 L1872.0 1185.7 L1875.0 1185.7 L1878.0 1185.7 L1881.0 1185.7 L1884.0 1185.8 L1887.0 1185.8 L1890.0 1185.8 L1893.0 1185.8 L1896.0 1185.8 L1899.0 1185.9 L1902.0 1185.9 L1905.0 1185.9 L1908.0 1185.9 L1911.0 1185.9 L1914.0 1185.9 L1917.0 1186.0 L1920.0 1186.0 L1923.0 1186.0 L1926.0 1186.0 L1929.0 1186.0 L1932.0 1186.1" fill="none" stroke="#ff10ff" stroke-width="6.50" stroke-linejoin="round" stroke-linecap="butt"/>
<path d="M120.0 1167.8 L123.0 1167.8 L126.0 1167.8 L129.0 1167.8 L132.0 1167.8 L135.0 1167.8 L138.0 1167.8 L141.0 1167.8 L144.0 1167.8 L147.0 1167.8 L150.0 1167.8 L153.0 1167.8 L156.0 1167.8 L159.0 1167.8 L162.0 1167.8 L165.0 1167.8 L168.0 1167.8 L171.0 1167.8 L174.0 1167.8 L177.0 1167.8 L180.0 1167.8 L183.0 1167.8 L186.0 1167.8 L189.0 1167.8 L192.0 1167.8 L195.0 1167.8 L198.0 1167.8 L201.0 1167.8 L204.0 1167.8 L207.0 1167.8 L210.0 1167.8 L213.0 1167.8 L216.0 1167.8 L219.0 1167.8 L222.0 1167.8 L225.0 1167.8 L228.0 1167.8 L231.0 1167.8 L234.0 1167.8 L237.0 1167.8 L240.0 1167.8 L243.0 1167.8 L246.0 1167.8 L249.0 1167.8 L252.0 1167.8 L255.0 1167.8 L258.0 1167.8 L261.0 1167.8 L264.0 1167.8 L267.0 1167.8 L270.0 1167.8 L273.0 1167.8 L276.0 1167.8 L279.0 1167.8 L282.0 1167.8 L285.0 1167.8 L288.0 1167.8 L291.0 1167.8 L294.0 1167.8 L297.0 1167.8 L300.0 1167.8 L303.0 1167.8 L306.0 1167.8 L309.0 1167.8 L312.0 1167.8 L315.0 1167.8 L318.0 1167.8 L321.0 1167.8 L324.0 1167.8 L327.0 1167.8 L330.0 1167.8 L333.0 1167.8 L336.0 1167.8 L339.0 1167.8 L342.0 1167.8 L345.0 1167.8 L348.0 1167.8 L351.0 1167.8 L354.0 1167.8 L357.0 1167.8 L360.0 1167.8 L363.0 1167.8 L366.0 1167.8 L369.0 1167.8 L372.0 1167.8 L375.0 1167.8 L378.0 1167.8 L381.0 1167.8 L384.0 1167.8 L387.0 1167.8 L390.0 1167.8 L393.0 1167.8 L396.0 1167.8 L399.0 1167.8 L402.0 1167.8 L405.0 1167.8 L408.0 1167.8 L411.0 1167.8 L414.0 1167.8 L417.0 1167.8 L420.0 1167.8 L423.0 1167.8 L426.0 1167.8 L429.0 1167.8 L432.0 1167.8 L435.0 1167.8 L438.0 1167.8 L441.0 1167.8 L444.0 1167.8 L447.0 1167.8 L450.0 1167.8 L453.0 1167.8 L456.0 1167.8 L459.0 1167.8 L462.0 1167.8 L465.0 1167.8 L468.0 1167.8 L471.0 1167.8 L474.0 1167.8 L477.0 1167.8 L480.0 1167.8 L483.0 1167.8 L486.0 1167.8 L489.0 1167.8 L492.0 1167.7 L495.0 1167.7 L498.0 1167.7 L501.0 1167.7 L504.0 1167.7 L507.0 1167.7 L510.0 1167.7 L513.0 1167.7 L516.0 1167.7 L519.0 1167.7 L522.0 1167.7 L525.0 1167.7 L528.0 1167.7 L531.0 1167.7 L534.0 1167.7 L537.0 1167.7 L540.0 1167.7 L543.0 1167.7 L546.0 1167.7 L549.0 1167.6 L552.0 1167.6 L555.0 1167.6 L558.0 1167.6 L561.0 1167.6 L564.0 1167.6 L567.0 1167.6 L570.0 1167.6 L573.0 1167.6 L576.0 1167.6 L579.0 1167.6 L582.0 1167.6 L585.0 1167.5 L588.0 1167.5 L591.0 1167.5 L594.0 1167.5 L597.0 1167.5 L600.0 1167.5 L603.0 1167.5 L606.0 1167.4 L609.0 1167.4 L612.0 1167.4 L615.0 1167.4 L618.0 1167.4 L621.0 1167.4 L624.0 1167.3 L627.0 1167.3 L630.0 1167.3 L633.0 1167.3 L636.0 1167.3 L639.0 1167.2 L642.0 1167.2 L645.0 1167.2 L648.0 1167.2 L651.0 1167.2 L654.0 1167.1 L657.0 1167.1 L660.0 1167.1 L663.0 1167.1 L666.0 1167.0 L669.0 1167.0 L672.0 1167.0 L675.0 1167.0 L678.0 1166.9 L681.0 1166.9 L684.0 1166.9 L687.0 1166.8 L690.0 1166.8 L693.0 1166.8 L696.0 1166.8 L699.0 1166.7 L702.0 1166.7 L705.0 1166.7 L708.0 1166.7 L711.0 1166.7 L714.0 1166.6 L717.0 1166.6 L720.0 1166.6 L723.0 1166.6 L726.0 1166.6 L729.0 1166.6 L732.0 1166.5 L735.0 1166.5 L738.0 1166.5 L741.0 1166.5 L744.0 1166.4 L747.0 1166.4 L750.0 1166.4 L753.0 1166.4 L756.0 1166.3 L759.0 1166.3 L762.0 1166.3 L765.0 1166.3 L768.0 1166.2 L771.0 1166.2 L774.0 1166.2 L777.0 1166.1 L780.0 1166.1 L783.0 1166.1 L786.0 1166.0 L789.0 1166.0 L792.0 1166.0 L795.0 1165.9 L798.0 1165.9 L801.0 1165.8 L804.0 1165.8 L807.0 1165.8 L810.0 1165.7 L813.0 1165.7 L816.0 1165.6 L819.0 1165.6 L822.0 1165.5 L825.0 1165.5 L828.0 1165.4 L831.0 1165.4 L834.0 1165.3 L837.0 1165.2 L840.0 1165.2 L843.0 1165.1 L846.0 1165.1 L849.0 1165.0 L852.0 1164.9 L855.0 1164.8 L858.0 1164.8 L861.0 1164.7 L864.0 1164.6 L867.0 1164.5 L870.0 1164.4 L873.0 1164.3 L876.0 1164.2 L879.0 1164.1 L882.0 1164.0 L885.0 1163.9 L888.0 1163.8 L891.0 1163.7 L894.0 1163.6 L897.0 1163.4 L900.0 1163.3 L903.0 1163.2 L906.0 1163.0 L909.0 1162.9 L912.0 1162.7 L915.0 1162.6 L918.0 1162.4 L921.0 1162.3 L924.0 1162.1 L927.0 1161.9 L930.0 1161.8 L933.0 1161.6 L936.0 1161.4 L939.0 1161.2 L942.0 1161.0 L945.0 1160.7 L948.0 1160.5 L951.0 1160.3 L954.0 1160.0 L957.0 1159.7 L960.0 1159.5 L963.0 1159.2 L966.0 1158.9 L969.0 1158.5 L972.0 1158.2 L975.0 1157.8 L978.0 1157.4 L981.0 1157.0 L984.0 1156.6 L987.0 1156.2 L990.0 1155.7 L993.0 1155.3 L996.0 1154.8 L999.0 1154.3 L1002.0 1153.9 L1005.0 1153.4 L1008.0 1152.9 L1011.0 1152.4 L1014.0 1151.9 L1017.0 1151.4 L1020.0 1150.9 L1023.0 1150.4 L1026.0 1149.9 L1029.0 1149.3 L1032.0 1148.8 L1035.0 1148.2 L1038.0 1147.6 L1041.0 1147.0 L1044.0 1146.4 L1047.0 1145.8 L1050.0 1145.2 L1053.0 1144.6 L1056.0 1143.9 L1059.0 1143.2 L1062.0 1142.5 L1065.0 1141.8 L1068.0 1141.1 L1071.0 1140.4 L1074.0 1139.6 L1077.0 1138.8 L1080.0 1138.0 L1083.0 1137.1 L1086.0 1136.3 L1089.0 1135.4 L1092.0 1134.5 L1095.0 1133.5 L1098.0 1132.6 L1101.0 1131.6 L1104.0 1130.6 L1107.0 1129.5 L1110.0 1128.4 L1113.0 1127.4 L1116.0 1126.3 L1119.0 1125.1 L1122.0 1124.0 L1125.0 1122.8 L1128.0 1121.8 L1131.0 1120.7 L1134.0 1119.6 L1137.0 1118.5 L1140.0 1117.4 L1143.0 1116.4 L1146.0 1115.3 L1149.0 1114.3 L1152.0 1113.3 L1155.0 1112.3 L1158.0 1111.3 L1161.0 1110.4 L1164.0 1109.6 L1167.0 1108.8 L1170.0 1108.1 L1173.0 1107.4 L1176.0 1106.8 L1179.0 1106.2 L1182.0 1105.8 L1185.0 1105.4 L1188.0 1105.1 L1191.0 1104.9 L1194.0 1104.8 L1197.0 1104.8 L1200.0 1104.9 L1203.0 1105.1 L1206.0 1105.4 L1209.0 1105.9 L1212.0 1106.4 L1215.0 1107.1 L1218.0 1107.9 L1221.0 1108.8 L1224.0 1109.7 L1227.0 1110.8 L1230.0 1111.9 L1233.0 1113.1 L1236.0 1114.4 L1239.0 1115.8 L1242.0 1117.2 L1245.0 1118.7 L1248.0 1120.2 L1251.0 1121.7 L1254.0 1123.3 L1257.0 1124.9 L1260.0 1126.5 L1263.0 1128.1 L1266.0 1129.8 L1269.0 1131.4 L1272.0 1133.0 L1275.0 1134.7 L1278.0 1136.3 L1281.0 1138.0 L1284.0 1139.6 L1287.0 1141.2 L1290.0 1142.8 L1293.0 1144.3 L1296.0 1145.9 L1299.0 1147.4 L1302.0 1148.9 L1305.0 1150.4 L1308.0 1151.9 L1311.0 1153.3 L1314.0 1154.7 L1317.0 1156.0 L1320.0 1157.4 L1323.0 1158.7 L1326.0 1159.9 L1329.0 1161.1 L1332.0 1162.3 L1335.0 1163.5 L1338.0 1164.6 L1341.0 1165.6 L1344.0 1166.7 L1347.0 1167.7 L1350.0 1168.6 L1353.0 1169.5 L1356.0 1170.4 L1359.0 1171.2 L1362.0 1172.0 L1365.0 1172.8 L1368.0 1173.5 L1371.0 1174.3 L1374.0 1175.0 L1377.0 1175.7 L1380.0 1176.3 L1383.0 1177.0 L1386.0 1177.6 L1389.0 1178.2 L1392.0 1178.8 L1395.0 1179.4 L1398.0 1179.9 L1401.0 1180.5 L1404.0 1181.0 L1407.0 1181.5 L1410.0 1182.0 L1413.0 1182.5 L1416.0 1183.0 L1419.0 1183.5 L1422.0 1183.9 L1425.0 1184.3 L1428.0 1184.7 L1431.0 1185.0 L1434.0 1185.3 L1437.0 1185.6 L1440.0 1185.8 L1443.0 1186.1 L1446.0 1186.3 L1449.0 1186.6 L1452.0 1186.8 L1455.0 1187.0 L1458.0 1187.1 L1461.0 1187.3 L1464.0 1187.5 L1467.0 1187.6 L1470.0 1187.8 L1473.0 1187.9 L1476.0 1188.0 L1479.0 1188.1 L1482.0 1188.3 L1485.0 1188.4 L1488.0 1188.5 L1491.0 1188.5 L1494.0 1188.5 L1497.0 1188.6 L1500.0 1188.6 L1503.0 1188.6 L1506.0 1188.6 L1509.0 1188.6 L1512.0 1188.6 L1515.0 1188.7 L1518.0 1188.7 L1521.0 1188.7 L1524.0 1188.7 L1527.0 1188.7 L1530.0 1188.7 L1533.0 1188.7 L1536.0 1188.7 L1539.0 1188.7 L1542.0 1188.7 L1545.0 1188.7 L1548.0 1188.7 L1551.0 1188.7 L1554.0 1188.7 L1557.0 1188.7 L1560.0 1188.7 L1563.0 1188.7 L1566.0 1188.7 L1569.0 1188.6 L1572.0 1188.6 L1575.0 1188.6 L1578.0 1188.6 L1581.0 1188.6 L1584.0 1188.6 L1587.0 1188.6 L1590.0 1188.6 L1593.0 1188.6 L1596.0 1188.6 L1599.0 1188.6 L1602.0 1188.6 L1605.0 1188.6 L1608.0 1188.6 L1611.0 1188.6 L1614.0 1188.6 L1617.0 1188.6 L1620.0 1188.6 L1623.0 1188.6 L1626.0 1188.7 L1629.0 1188.7 L1632.0 1188.7 L1635.0 1188.7 L1638.0 1188.7 L1641.0 1188.7 L1644.0 1188.7 L1647.0 1188.7 L1650.0 1188.7 L1653.0 1188.8 L1656.0 1188.8 L1659.0 1188.8 L1662.0 1188.8 L1665.0 1188.8 L1668.0 1188.8 L1671.0 1188.8 L1674.0 1188.8 L1677.0 1188.8 L1680.0 1188.8 L1683.0 1188.9 L1686.0 1188.9 L1689.0 1188.9 L1692.0 1188.9 L1695.0 1188.9 L1698.0 1188.9 L1701.0 1188.9 L1704.0 1188.9 L1707.0 1188.9 L1710.0 1188.9 L1713.0 1188.9 L1716.0 1188.9 L1719.0 1188.9 L1722.0 1188.9 L1725.0 1188.9 L1728.0 1188.9 L1731.0 1188.9 L1734.0 1188.9 L1737.0 1189.0 L1740.0 1189.0 L1743.0 1189.0 L1746.0 1189.0 L1749.0 1189.0 L1752.0 1189.0 L1755.0 1189.0 L1758.0 1189.0 L1761.0 1189.0 L1764.0 1189.0 L1767.0 1189.0 L1770.0 1189.0 L1773.0 1189.0 L1776.0 1189.0 L1779.0 1189.0 L1782.0 1189.0 L1785.0 1189.0 L1788.0 1189.0 L1791.0 1189.0 L1794.0 1189.0 L1797.0 1189.0 L1800.0 1189.0 L1803.0 1189.0 L1806.0 1189.0 L1809.0 1189.0 L1812.0 1189.0 L1815.0 1189.0 L1818.0 1189.0 L1821.0 1189.0 L1824.0 1189.1 L1827.0 1189.1 L1830.0 1189.1 L1833.0 1189.1 L1836.0 1189.1 L1839.0 1189.1 L1842.0 1189.1 L1845.0 1189.1 L1848.0 1189.1 L1851.0 1189.1 L1854.0 1189.1 L1857.0 1189.1 L1860.0 1189.1 L1863.0 1189.1 L1866.0 1189.1 L1869.0 1189.1 L1872.0 1189.1 L1875.0 1189.1 L1878.0 1189.1 L1881.0 1189.1 L1884.0 1189.1 L1887.0 1189.1 L1890.0 1189.2 L1893.0 1189.2 L1896.0 1189.2 L1899.0 1189.2 L1902.0 1189.2 L1905.0 1189.2 L1908.0 1189.2 L1911.0 1189.2 L1914.0 1189.2 L1917.0 1189.2 L1920.0 1189.2 L1923.0 1189.2 L1926.0 1189.2 L1929.0 1189.2 L1932.0 1189.2" fill="none" stroke="#008a1c" stroke-width="6.50" stroke-linejoin="round" stroke-linecap="butt"/>
</g>
<g id="spec-a">
<path d="M125.0 1552.3 L133.7 1544.8 L143.7 1517.4 L155.0 1544.8 L167.5 1557.3 L175.0 1566.1 L182.5 1539.8 L195.0 1539.8 L212.5 1531.1 L224.9 1547.3 L237.4 1546.1 L247.4 1557.3 L257.4 1554.8 L267.4 1549.8 L272.4 1579.8 L277.4 1598.6 L284.9 1579.8 L294.9 1544.8 L304.9 1543.6 L319.9 1542.3 L332.4 1554.8 L339.9 1552.3 L352.4 1527.3 L364.9 1519.9 L374.9 1522.4 L389.9 1547.3 L409.9 1529.8 L424.8 1552.3 L432.3 1572.3 L441.1 1531.1 L452.3 1543.6 L467.3 1532.3 L482.3 1508.6 L493.6 1544.8 L504.8 1538.6 L514.8 1543.6 L529.8 1524.8 L544.8 1542.3 L556.0 1532.3 L567.3 1539.8 L577.3 1539.8 L586.0 1564.8 L599.8 1527.3 L607.5 1522.4 L618.7 1541.1 L637.5 1529.8 L647.5 1538.6 L658.7 1529.8 L666.2 1549.8 L677.5 1549.8 L688.7 1529.8 L699.9 1549.8 L707.4 1547.3 L722.4 1512.4 L731.2 1504.9 L742.4 1514.9 L752.4 1544.8 L762.4 1526.1 L774.9 1542.3 L782.4 1567.3 L787.4 1507.4 L792.4 1493.6 L802.4 1533.6 L817.4 1531.1 L832.4 1528.6 L847.4 1533.6 L862.4 1539.8 L872.4 1532.3 L884.9 1508.6 L894.8 1532.3 L917.3 1528.6 L924.8 1516.1 L944.8 1512.4 L957.3 1498.6 L967.3 1476.1 L978.6 1508.6 L988.6 1496.1 L997.3 1517.4 L1007.3 1549.8 L1012.3 1492.4 L1017.3 1463.6 L1029.8 1479.9 L1039.8 1476.1 L1049.8 1451.1 L1058.5 1463.6 L1069.8 1429.9 L1079.8 1409.9 L1080.0 1414.9 L1090.0 1369.9 L1112.5 1363.7 L1120.0 1346.2 L1132.5 1338.7 L1145.0 1302.5 L1152.5 1283.7 L1163.7 1283.7 L1173.7 1322.5 L1192.4 1328.7 L1203.7 1369.9 L1214.9 1377.4 L1224.9 1413.7 L1236.2 1416.2 L1244.9 1443.6 L1254.9 1446.1 L1266.2 1454.9 L1277.4 1449.9 L1287.4 1457.4 L1296.1 1411.2 L1307.4 1428.6 L1317.4 1419.9 L1327.4 1421.2 L1337.4 1437.4 L1347.4 1471.1 L1359.9 1442.4 L1369.9 1426.1 L1379.8 1476.1 L1399.8 1486.1 L1414.8 1517.4 L1429.8 1532.3 L1441.1 1517.4 L1452.3 1533.6 L1465.0 1533.6 L1490.0 1544.3 L1502.5 1564.8 L1515.0 1544.3 L1523.7 1526.1 L1535.0 1544.3 L1545.0 1536.1 L1555.0 1529.8 L1569.9 1544.3 L1594.9 1546.8 L1604.9 1534.8 L1619.9 1545.6 L1636.2 1522.4 L1649.9 1544.3 L1664.9 1541.8 L1677.4 1529.8 L1689.9 1540.6 L1702.4 1544.3 L1709.9 1561.1 L1717.4 1544.3 L1728.6 1536.1 L1739.9 1574.8 L1749.9 1554.8 L1759.8 1541.8 L1769.8 1503.6 L1781.1 1564.8 L1789.8 1544.3 L1802.3 1532.3 L1817.3 1545.6 L1829.8 1512.4 L1842.3 1498.6 L1854.8 1544.3 L1872.3 1527.3 L1884.8 1562.3 L1894.8 1537.3 L1904.8 1526.1 L1919.8 1544.3 L1927.3 1529.8 L1932.3 1514.9" fill="none" stroke="#111111" stroke-width="6.20" stroke-linejoin="miter" stroke-linecap="butt" stroke-miterlimit="3"/>
<path d="M120.0 1565.0 L600.0 1563.0 L900.0 1559.5 L1100.0 1557.5 L1400.0 1556.0 L1934.0 1555.3" fill="none" stroke="#ff1010" stroke-width="6.50" stroke-linejoin="round" stroke-linecap="butt"/>
<path d="M120.0 1561.0 L123.0 1561.0 L126.0 1561.0 L129.0 1561.0 L132.0 1561.0 L135.0 1560.9 L138.0 1560.9 L141.0 1560.9 L144.0 1560.9 L147.0 1560.9 L150.0 1560.8 L153.0 1560.8 L156.0 1560.8 L159.0 1560.8 L162.0 1560.8 L165.0 1560.8 L168.0 1560.7 L171.0 1560.7 L174.0 1560.7 L177.0 1560.7 L180.0 1560.7 L183.0 1560.7 L186.0 1560.6 L189.0 1560.6 L192.0 1560.6 L195.0 1560.6 L198.0 1560.6 L201.0 1560.5 L204.0 1560.5 L207.0 1560.5 L210.0 1560.5 L213.0 1560.5 L216.0 1560.4 L219.0 1560.4 L222.0 1560.4 L225.0 1560.4 L228.0 1560.4 L231.0 1560.3 L234.0 1560.3 L237.0 1560.3 L240.0 1560.3 L243.0 1560.3 L246.0 1560.2 L249.0 1560.2 L252.0 1560.2 L255.0 1560.2 L258.0 1560.2 L261.0 1560.1 L264.0 1560.1 L267.0 1560.1 L270.0 1560.1 L273.0 1560.1 L276.0 1560.1 L279.0 1560.0 L282.0 1560.0 L285.0 1560.0 L288.0 1560.0 L291.0 1560.0 L294.0 1560.0 L297.0 1559.9 L300.0 1559.9 L303.0 1559.9 L306.0 1559.9 L309.0 1559.9 L312.0 1559.9 L315.0 1559.9 L318.0 1559.8 L321.0 1559.8 L324.0 1559.8 L327.0 1559.8 L330.0 1559.8 L333.0 1559.8 L336.0 1559.8 L339.0 1559.7 L342.0 1559.7 L345.0 1559.7 L348.0 1559.7 L351.0 1559.7 L354.0 1559.7 L357.0 1559.6 L360.0 1559.6 L363.0 1559.6 L366.0 1559.6 L369.0 1559.6 L372.0 1559.6 L375.0 1559.5 L378.0 1559.5 L381.0 1559.5 L384.0 1559.5 L387.0 1559.5 L390.0 1559.4 L393.0 1559.4 L396.0 1559.4 L399.0 1559.4 L402.0 1559.4 L405.0 1559.3 L408.0 1559.3 L411.0 1559.3 L414.0 1559.3 L417.0 1559.3 L420.0 1559.2 L423.0 1559.2 L426.0 1559.2 L429.0 1559.2 L432.0 1559.2 L435.0 1559.1 L438.0 1559.1 L441.0 1559.1 L444.0 1559.1 L447.0 1559.0 L450.0 1559.0 L453.0 1559.0 L456.0 1559.0 L459.0 1558.9 L462.0 1558.9 L465.0 1558.9 L468.0 1558.9 L471.0 1558.8 L474.0 1558.8 L477.0 1558.8 L480.0 1558.8 L483.0 1558.7 L486.0 1558.7 L489.0 1558.7 L492.0 1558.7 L495.0 1558.6 L498.0 1558.6 L501.0 1558.6 L504.0 1558.5 L507.0 1558.5 L510.0 1558.5 L513.0 1558.5 L516.0 1558.4 L519.0 1558.4 L522.0 1558.4 L525.0 1558.3 L528.0 1558.3 L531.0 1558.3 L534.0 1558.2 L537.0 1558.2 L540.0 1558.2 L543.0 1558.1 L546.0 1558.1 L549.0 1558.0 L552.0 1558.0 L555.0 1558.0 L558.0 1557.9 L561.0 1557.9 L564.0 1557.8 L567.0 1557.8 L570.0 1557.8 L573.0 1557.7 L576.0 1557.7 L579.0 1557.6 L582.0 1557.6 L585.0 1557.5 L588.0 1557.4 L591.0 1557.4 L594.0 1557.3 L597.0 1557.2 L600.0 1557.2 L603.0 1557.1 L606.0 1557.0 L609.0 1556.9 L612.0 1556.8 L615.0 1556.7 L618.0 1556.6 L621.0 1556.4 L624.0 1556.3 L627.0 1556.2 L630.0 1556.1 L633.0 1556.0 L636.0 1555.8 L639.0 1555.7 L642.0 1555.6 L645.0 1555.5 L648.0 1555.3 L651.0 1555.2 L654.0 1555.1 L657.0 1554.9 L660.0 1554.8 L663.0 1554.6 L666.0 1554.5 L669.0 1554.4 L672.0 1554.2 L675.0 1554.1 L678.0 1553.9 L681.0 1553.8 L684.0 1553.6 L687.0 1553.5 L690.0 1553.3 L693.0 1553.2 L696.0 1553.0 L699.0 1552.9 L702.0 1552.7 L705.0 1552.5 L708.0 1552.4 L711.0 1552.2 L714.0 1552.0 L717.0 1551.9 L720.0 1551.7 L723.0 1551.5 L726.0 1551.4 L729.0 1551.2 L732.0 1551.0 L735.0 1550.8 L738.0 1550.7 L741.0 1550.5 L744.0 1550.3 L747.0 1550.1 L750.0 1550.0 L753.0 1549.8 L756.0 1549.6 L759.0 1549.4 L762.0 1549.2 L765.0 1549.1 L768.0 1548.9 L771.0 1548.7 L774.0 1548.5 L777.0 1548.3 L780.0 1548.1 L783.0 1547.9 L786.0 1547.7 L789.0 1547.5 L792.0 1547.3 L795.0 1547.1 L798.0 1546.9 L801.0 1546.7 L804.0 1546.5 L807.0 1546.2 L810.0 1546.0 L813.0 1545.8 L816.0 1545.5 L819.0 1545.3 L822.0 1545.0 L825.0 1544.8 L828.0 1544.5 L831.0 1544.2 L834.0 1544.0 L837.0 1543.7 L840.0 1543.4 L843.0 1543.1 L846.0 1542.8 L849.0 1542.5 L852.0 1542.2 L855.0 1541.9 L858.0 1541.6 L861.0 1541.2 L864.0 1540.9 L867.0 1540.5 L870.0 1540.2 L873.0 1539.8 L876.0 1539.4 L879.0 1539.0 L882.0 1538.6 L885.0 1538.1 L888.0 1537.7 L891.0 1537.2 L894.0 1536.7 L897.0 1536.2 L900.0 1535.7 L903.0 1535.2 L906.0 1534.6 L909.0 1534.0 L912.0 1533.4 L915.0 1532.8 L918.0 1532.1 L921.0 1531.4 L924.0 1530.7 L927.0 1530.0 L930.0 1529.3 L933.0 1528.5 L936.0 1527.7 L939.0 1526.9 L942.0 1526.1 L945.0 1525.3 L948.0 1524.4 L951.0 1523.5 L954.0 1522.6 L957.0 1521.6 L960.0 1520.7 L963.0 1519.7 L966.0 1518.7 L969.0 1517.6 L972.0 1516.6 L975.0 1515.4 L978.0 1514.3 L981.0 1513.1 L984.0 1511.9 L987.0 1510.6 L990.0 1509.3 L993.0 1508.0 L996.0 1506.6 L999.0 1505.2 L1002.0 1503.7 L1005.0 1502.2 L1008.0 1500.6 L1011.0 1498.9 L1014.0 1497.3 L1017.0 1495.5 L1020.0 1493.7 L1023.0 1491.9 L1026.0 1490.0 L1029.0 1488.0 L1032.0 1486.0 L1035.0 1484.0 L1038.0 1481.8 L1041.0 1479.6 L1044.0 1477.4 L1047.0 1475.1 L1050.0 1472.8 L1053.0 1470.4 L1056.0 1467.9 L1059.0 1465.5 L1062.0 1462.9 L1065.0 1460.4 L1068.0 1457.7 L1071.0 1455.1 L1074.0 1452.4 L1077.0 1449.7 L1080.0 1447.0 L1083.0 1444.2 L1086.0 1441.5 L1089.0 1438.7 L1092.0 1435.9 L1095.0 1433.2 L1098.0 1430.4 L1101.0 1427.7 L1104.0 1425.1 L1107.0 1422.5 L1110.0 1420.0 L1113.0 1417.5 L1116.0 1415.2 L1119.0 1413.0 L1122.0 1410.9 L1125.0 1408.9 L1128.0 1407.1 L1131.0 1405.5 L1134.0 1404.1 L1137.0 1402.9 L1140.0 1401.8 L1143.0 1401.0 L1146.0 1400.5 L1149.0 1400.1 L1152.0 1400.0 L1155.0 1400.2 L1158.0 1400.6 L1161.0 1401.3 L1164.0 1402.2 L1167.0 1403.4 L1170.0 1404.9 L1173.0 1406.6 L1176.0 1408.4 L1179.0 1410.5 L1182.0 1412.8 L1185.0 1415.3 L1188.0 1417.8 L1191.0 1420.5 L1194.0 1423.4 L1197.0 1426.3 L1200.0 1429.2 L1203.0 1432.2 L1206.0 1435.3 L1209.0 1438.3 L1212.0 1441.4 L1215.0 1444.4 L1218.0 1447.4 L1221.0 1450.4 L1224.0 1453.3 L1227.0 1456.2 L1230.0 1459.0 L1233.0 1461.7 L1236.0 1464.4 L1239.0 1467.0 L1242.0 1469.6 L1245.0 1472.1 L1248.0 1474.5 L1251.0 1476.8 L1254.0 1479.1 L1257.0 1481.3 L1260.0 1483.4 L1263.0 1485.5 L1266.0 1487.5 L1269.0 1489.5 L1272.0 1491.5 L1275.0 1493.4 L1278.0 1495.2 L1281.0 1497.0 L1284.0 1498.8 L1287.0 1500.6 L1290.0 1502.3 L1293.0 1503.9 L1296.0 1505.6 L1299.0 1507.1 L1302.0 1508.7 L1305.0 1510.2 L1308.0 1511.7 L1311.0 1513.1 L1314.0 1514.4 L1317.0 1515.8 L1320.0 1517.0 L1323.0 1518.3 L1326.0 1519.4 L1329.0 1520.6 L1332.0 1521.7 L1335.0 1522.7 L1338.0 1523.7 L1341.0 1524.6 L1344.0 1525.5 L1347.0 1526.4 L1350.0 1527.2 L1353.0 1528.0 L1356.0 1528.8 L1359.0 1529.5 L1362.0 1530.2 L1365.0 1530.9 L1368.0 1531.5 L1371.0 1532.1 L1374.0 1532.7 L1377.0 1533.3 L1380.0 1533.9 L1383.0 1534.4 L1386.0 1535.0 L1389.0 1535.5 L1392.0 1536.0 L1395.0 1536.5 L1398.0 1536.9 L1401.0 1537.4 L1404.0 1537.9 L1407.0 1538.3 L1410.0 1538.8 L1413.0 1539.2 L1416.0 1539.6 L1419.0 1540.0 L1422.0 1540.4 L1425.0 1540.7 L1428.0 1541.1 L1431.0 1541.5 L1434.0 1541.8 L1437.0 1542.1 L1440.0 1542.5 L1443.0 1542.8 L1446.0 1543.1 L1449.0 1543.4 L1452.0 1543.7 L1455.0 1544.0 L1458.0 1544.2 L1461.0 1544.5 L1464.0 1544.8 L1467.0 1545.0 L1470.0 1545.2 L1473.0 1545.5 L1476.0 1545.7 L1479.0 1545.9 L1482.0 1546.2 L1485.0 1546.4 L1488.0 1546.6 L1491.0 1546.8 L1494.0 1547.0 L1497.0 1547.1 L1500.0 1547.3 L1503.0 1547.5 L1506.0 1547.6 L1509.0 1547.8 L1512.0 1547.9 L1515.0 1548.1 L1518.0 1548.2 L1521.0 1548.3 L1524.0 1548.4 L1527.0 1548.5 L1530.0 1548.6 L1533.0 1548.8 L1536.0 1548.9 L1539.0 1549.0 L1542.0 1549.0 L1545.0 1549.1 L1548.0 1549.2 L1551.0 1549.3 L1554.0 1549.4 L1557.0 1549.5 L1560.0 1549.5 L1563.0 1549.6 L1566.0 1549.7 L1569.0 1549.8 L1572.0 1549.8 L1575.0 1549.9 L1578.0 1550.0 L1581.0 1550.0 L1584.0 1550.1 L1587.0 1550.2 L1590.0 1550.2 L1593.0 1550.3 L1596.0 1550.3 L1599.0 1550.4 L1602.0 1550.4 L1605.0 1550.5 L1608.0 1550.5 L1611.0 1550.6 L1614.0 1550.6 L1617.0 1550.7 L1620.0 1550.7 L1623.0 1550.8 L1626.0 1550.8 L1629.0 1550.8 L1632.0 1550.9 L1635.0 1550.9 L1638.0 1551.0 L1641.0 1551.0 L1644.0 1551.0 L1647.0 1551.1 L1650.0 1551.1 L1653.0 1551.1 L1656.0 1551.2 L1659.0 1551.2 L1662.0 1551.2 L1665.0 1551.2 L1668.0 1551.3 L1671.0 1551.3 L1674.0 1551.3 L1677.0 1551.4 L1680.0 1551.4 L1683.0 1551.4 L1686.0 1551.4 L1689.0 1551.5 L1692.0 1551.5 L1695.0 1551.5 L1698.0 1551.6 L1701.0 1551.6 L1704.0 1551.6 L1707.0 1551.6 L1710.0 1551.7 L1713.0 1551.7 L1716.0 1551.7 L1719.0 1551.8 L1722.0 1551.8 L1725.0 1551.9 L1728.0 1551.9 L1731.0 1551.9 L1734.0 1552.0 L1737.0 1552.0 L1740.0 1552.0 L1743.0 1552.1 L1746.0 1552.1 L1749.0 1552.1 L1752.0 1552.2 L1755.0 1552.2 L1758.0 1552.2 L1761.0 1552.3 L1764.0 1552.3 L1767.0 1552.3 L1770.0 1552.3 L1773.0 1552.4 L1776.0 1552.4 L1779.0 1552.4 L1782.0 1552.5 L1785.0 1552.5 L1788.0 1552.5 L1791.0 1552.5 L1794.0 1552.6 L1797.0 1552.6 L1800.0 1552.6 L1803.0 1552.7 L1806.0 1552.7 L1809.0 1552.7 L1812.0 1552.7 L1815.0 1552.8 L1818.0 1552.8 L1821.0 1552.8 L1824.0 1552.8 L1827.0 1552.8 L1830.0 1552.9 L1833.0 1552.9 L1836.0 1552.9 L1839.0 1552.9 L1842.0 1553.0 L1845.0 1553.0 L1848.0 1553.0 L1851.0 1553.0 L1854.0 1553.0 L1857.0 1553.1 L1860.0 1553.1 L1863.0 1553.1 L1866.0 1553.1 L1869.0 1553.1 L1872.0 1553.2 L1875.0 1553.2 L1878.0 1553.2 L1881.0 1553.2 L1884.0 1553.2 L1887.0 1553.3 L1890.0 1553.3 L1893.0 1553.3 L1896.0 1553.3 L1899.0 1553.3 L1902.0 1553.3 L1905.0 1553.4 L1908.0 1553.4 L1911.0 1553.4 L1914.0 1553.4 L1917.0 1553.4 L1920.0 1553.4 L1923.0 1553.4 L1926.0 1553.5 L1929.0 1553.5 L1932.0 1553.5" fill="none" stroke="#008a1c" stroke-width="6.50" stroke-linejoin="round" stroke-linecap="butt"/>
<path d="M120.0 1563.0 L123.0 1563.0 L126.0 1563.0 L129.0 1563.0 L132.0 1563.0 L135.0 1562.9 L138.0 1562.9 L141.0 1562.9 L144.0 1562.9 L147.0 1562.9 L150.0 1562.9 L153.0 1562.9 L156.0 1562.8 L159.0 1562.8 L162.0 1562.8 L165.0 1562.8 L168.0 1562.8 L171.0 1562.8 L174.0 1562.8 L177.0 1562.7 L180.0 1562.7 L183.0 1562.7 L186.0 1562.7 L189.0 1562.7 L192.0 1562.7 L195.0 1562.7 L198.0 1562.6 L201.0 1562.6 L204.0 1562.6 L207.0 1562.6 L210.0 1562.6 L213.0 1562.6 L216.0 1562.6 L219.0 1562.5 L222.0 1562.5 L225.0 1562.5 L228.0 1562.5 L231.0 1562.5 L234.0 1562.5 L237.0 1562.5 L240.0 1562.4 L243.0 1562.4 L246.0 1562.4 L249.0 1562.4 L252.0 1562.4 L255.0 1562.4 L258.0 1562.3 L261.0 1562.3 L264.0 1562.3 L267.0 1562.3 L270.0 1562.3 L273.0 1562.3 L276.0 1562.2 L279.0 1562.2 L282.0 1562.2 L285.0 1562.2 L288.0 1562.2 L291.0 1562.2 L294.0 1562.1 L297.0 1562.1 L300.0 1562.1 L303.0 1562.1 L306.0 1562.1 L309.0 1562.1 L312.0 1562.0 L315.0 1562.0 L318.0 1562.0 L321.0 1562.0 L324.0 1562.0 L327.0 1562.0 L330.0 1561.9 L333.0 1561.9 L336.0 1561.9 L339.0 1561.9 L342.0 1561.9 L345.0 1561.9 L348.0 1561.8 L351.0 1561.8 L354.0 1561.8 L357.0 1561.8 L360.0 1561.8 L363.0 1561.7 L366.0 1561.7 L369.0 1561.7 L372.0 1561.7 L375.0 1561.7 L378.0 1561.6 L381.0 1561.6 L384.0 1561.6 L387.0 1561.6 L390.0 1561.6 L393.0 1561.6 L396.0 1561.5 L399.0 1561.5 L402.0 1561.5 L405.0 1561.5 L408.0 1561.5 L411.0 1561.5 L414.0 1561.4 L417.0 1561.4 L420.0 1561.4 L423.0 1561.4 L426.0 1561.4 L429.0 1561.4 L432.0 1561.3 L435.0 1561.3 L438.0 1561.3 L441.0 1561.3 L444.0 1561.3 L447.0 1561.3 L450.0 1561.2 L453.0 1561.2 L456.0 1561.2 L459.0 1561.2 L462.0 1561.2 L465.0 1561.1 L468.0 1561.1 L471.0 1561.1 L474.0 1561.1 L477.0 1561.1 L480.0 1561.1 L483.0 1561.0 L486.0 1561.0 L489.0 1561.0 L492.0 1561.0 L495.0 1561.0 L498.0 1560.9 L501.0 1560.9 L504.0 1560.9 L507.0 1560.9 L510.0 1560.8 L513.0 1560.8 L516.0 1560.8 L519.0 1560.8 L522.0 1560.8 L525.0 1560.7 L528.0 1560.7 L531.0 1560.7 L534.0 1560.7 L537.0 1560.6 L540.0 1560.6 L543.0 1560.6 L546.0 1560.6 L549.0 1560.5 L552.0 1560.5 L555.0 1560.5 L558.0 1560.5 L561.0 1560.4 L564.0 1560.4 L567.0 1560.4 L570.0 1560.4 L573.0 1560.3 L576.0 1560.3 L579.0 1560.3 L582.0 1560.3 L585.0 1560.2 L588.0 1560.2 L591.0 1560.2 L594.0 1560.1 L597.0 1560.1 L600.0 1560.1 L603.0 1560.0 L606.0 1560.0 L609.0 1559.9 L612.0 1559.9 L615.0 1559.8 L618.0 1559.7 L621.0 1559.7 L624.0 1559.6 L627.0 1559.6 L630.0 1559.5 L633.0 1559.5 L636.0 1559.4 L639.0 1559.3 L642.0 1559.3 L645.0 1559.2 L648.0 1559.2 L651.0 1559.1 L654.0 1559.0 L657.0 1559.0 L660.0 1558.9 L663.0 1558.8 L666.0 1558.8 L669.0 1558.7 L672.0 1558.6 L675.0 1558.5 L678.0 1558.5 L681.0 1558.4 L684.0 1558.3 L687.0 1558.2 L690.0 1558.1 L693.0 1558.0 L696.0 1557.9 L699.0 1557.8 L702.0 1557.7 L705.0 1557.6 L708.0 1557.4 L711.0 1557.3 L714.0 1557.2 L717.0 1557.0 L720.0 1556.9 L723.0 1556.7 L726.0 1556.6 L729.0 1556.4 L732.0 1556.3 L735.0 1556.1 L738.0 1556.0 L741.0 1555.8 L744.0 1555.6 L747.0 1555.5 L750.0 1555.3 L753.0 1555.1 L756.0 1554.9 L759.0 1554.8 L762.0 1554.6 L765.0 1554.4 L768.0 1554.2 L771.0 1554.1 L774.0 1553.9 L777.0 1553.7 L780.0 1553.5 L783.0 1553.3 L786.0 1553.1 L789.0 1552.9 L792.0 1552.7 L795.0 1552.6 L798.0 1552.4 L801.0 1552.2 L804.0 1552.0 L807.0 1551.8 L810.0 1551.6 L813.0 1551.4 L816.0 1551.2 L819.0 1551.0 L822.0 1550.8 L825.0 1550.6 L828.0 1550.4 L831.0 1550.2 L834.0 1550.0 L837.0 1549.8 L840.0 1549.6 L843.0 1549.4 L846.0 1549.2 L849.0 1549.1 L852.0 1548.9 L855.0 1548.7 L858.0 1548.6 L861.0 1548.4 L864.0 1548.3 L867.0 1548.1 L870.0 1548.0 L873.0 1547.8 L876.0 1547.7 L879.0 1547.5 L882.0 1547.4 L885.0 1547.2 L888.0 1547.1 L891.0 1546.9 L894.0 1546.7 L897.0 1546.6 L900.0 1546.4 L903.0 1546.2 L906.0 1546.1 L909.0 1545.9 L912.0 1545.7 L915.0 1545.5 L918.0 1545.3 L921.0 1545.1 L924.0 1544.9 L927.0 1544.7 L930.0 1544.4 L933.0 1544.2 L936.0 1543.9 L939.0 1543.7 L942.0 1543.4 L945.0 1543.1 L948.0 1542.8 L951.0 1542.6 L954.0 1542.2 L957.0 1541.9 L960.0 1541.6 L963.0 1541.3 L966.0 1540.9 L969.0 1540.6 L972.0 1540.2 L975.0 1539.8 L978.0 1539.4 L981.0 1539.0 L984.0 1538.5 L987.0 1538.1 L990.0 1537.6 L993.0 1537.1 L996.0 1536.6 L999.0 1536.1 L1002.0 1535.6 L1005.0 1535.0 L1008.0 1534.5 L1011.0 1533.9 L1014.0 1533.2 L1017.0 1532.6 L1020.0 1531.9 L1023.0 1531.2 L1026.0 1530.5 L1029.0 1529.8 L1032.0 1529.0 L1035.0 1528.2 L1038.0 1527.4 L1041.0 1526.5 L1044.0 1525.7 L1047.0 1524.8 L1050.0 1523.9 L1053.0 1522.9 L1056.0 1522.0 L1059.0 1521.0 L1062.0 1520.0 L1065.0 1518.9 L1068.0 1517.9 L1071.0 1516.8 L1074.0 1515.7 L1077.0 1514.6 L1080.0 1513.5 L1083.0 1512.4 L1086.0 1511.2 L1089.0 1510.1 L1092.0 1508.9 L1095.0 1507.8 L1098.0 1506.7 L1101.0 1505.5 L1104.0 1504.5 L1107.0 1503.4 L1110.0 1502.3 L1113.0 1501.3 L1116.0 1500.4 L1119.0 1499.4 L1122.0 1498.6 L1125.0 1497.7 L1128.0 1497.0 L1131.0 1496.3 L1134.0 1495.6 L1137.0 1495.1 L1140.0 1494.6 L1143.0 1494.1 L1146.0 1493.8 L1149.0 1493.5 L1152.0 1493.3 L1155.0 1493.2 L1158.0 1493.2 L1161.0 1493.2 L1164.0 1493.4 L1167.0 1493.7 L1170.0 1494.1 L1173.0 1494.5 L1176.0 1495.1 L1179.0 1495.8 L1182.0 1496.6 L1185.0 1497.5 L1188.0 1498.4 L1191.0 1499.4 L1194.0 1500.5 L1197.0 1501.6 L1200.0 1502.8 L1203.0 1503.9 L1206.0 1505.2 L1209.0 1506.4 L1212.0 1507.6 L1215.0 1508.9 L1218.0 1510.2 L1221.0 1511.4 L1224.0 1512.7 L1227.0 1514.0 L1230.0 1515.2 L1233.0 1516.4 L1236.0 1517.6 L1239.0 1518.8 L1242.0 1520.0 L1245.0 1521.2 L1248.0 1522.3 L1251.0 1523.4 L1254.0 1524.4 L1257.0 1525.5 L1260.0 1526.5 L1263.0 1527.5 L1266.0 1528.4 L1269.0 1529.4 L1272.0 1530.3 L1275.0 1531.1 L1278.0 1532.0 L1281.0 1532.8 L1284.0 1533.6 L1287.0 1534.3 L1290.0 1535.1 L1293.0 1535.8 L1296.0 1536.4 L1299.0 1537.1 L1302.0 1537.7 L1305.0 1538.3 L1308.0 1538.9 L1311.0 1539.4 L1314.0 1539.9 L1317.0 1540.4 L1320.0 1540.8 L1323.0 1541.3 L1326.0 1541.7 L1329.0 1542.1 L1332.0 1542.4 L1335.0 1542.8 L1338.0 1543.1 L1341.0 1543.4 L1344.0 1543.7 L1347.0 1544.0 L1350.0 1544.3 L1353.0 1544.5 L1356.0 1544.8 L1359.0 1545.0 L1362.0 1545.2 L1365.0 1545.4 L1368.0 1545.6 L1371.0 1545.8 L1374.0 1546.0 L1377.0 1546.2 L1380.0 1546.3 L1383.0 1546.5 L1386.0 1546.6 L1389.0 1546.8 L1392.0 1546.9 L1395.0 1547.1 L1398.0 1547.2 L1401.0 1547.3 L1404.0 1547.5 L1407.0 1547.6 L1410.0 1547.8 L1413.0 1547.9 L1416.0 1548.0 L1419.0 1548.2 L1422.0 1548.3 L1425.0 1548.4 L1428.0 1548.6 L1431.0 1548.7 L1434.0 1548.8 L1437.0 1548.9 L1440.0 1549.1 L1443.0 1549.2 L1446.0 1549.3 L1449.0 1549.4 L1452.0 1549.5 L1455.0 1549.6 L1458.0 1549.7 L1461.0 1549.8 L1464.0 1549.9 L1467.0 1550.0 L1470.0 1550.1 L1473.0 1550.2 L1476.0 1550.3 L1479.0 1550.4 L1482.0 1550.5 L1485.0 1550.6 L1488.0 1550.7 L1491.0 1550.8 L1494.0 1550.8 L1497.0 1550.9 L1500.0 1551.0 L1503.0 1551.1 L1506.0 1551.1 L1509.0 1551.2 L1512.0 1551.3 L1515.0 1551.4 L1518.0 1551.4 L1521.0 1551.5 L1524.0 1551.6 L1527.0 1551.6 L1530.0 1551.7 L1533.0 1551.7 L1536.0 1551.8 L1539.0 1551.9 L1542.0 1551.9 L1545.0 1552.0 L1548.0 1552.0 L1551.0 1552.1 L1554.0 1552.1 L1557.0 1552.2 L1560.0 1552.2 L1563.0 1552.3 L1566.0 1552.3 L1569.0 1552.4 L1572.0 1552.4 L1575.0 1552.5 L1578.0 1552.5 L1581.0 1552.6 L1584.0 1552.6 L1587.0 1552.7 L1590.0 1552.7 L1593.0 1552.8 L1596.0 1552.8 L1599.0 1552.9 L1602.0 1552.9 L1605.0 1552.9 L1608.0 1553.0 L1611.0 1553.0 L1614.0 1553.1 L1617.0 1553.1 L1620.0 1553.1 L1623.0 1553.2 L1626.0 1553.2 L1629.0 1553.2 L1632.0 1553.3 L1635.0 1553.3 L1638.0 1553.4 L1641.0 1553.4 L1644.0 1553.4 L1647.0 1553.4 L1650.0 1553.5 L1653.0 1553.5 L1656.0 1553.5 L1659.0 1553.6 L1662.0 1553.6 L1665.0 1553.6 L1668.0 1553.7 L1671.0 1553.7 L1674.0 1553.7 L1677.0 1553.7 L1680.0 1553.8 L1683.0 1553.8 L1686.0 1553.8 L1689.0 1553.8 L1692.0 1553.8 L1695.0 1553.9 L1698.0 1553.9 L1701.0 1553.9 L1704.0 1553.9 L1707.0 1554.0 L1710.0 1554.0 L1713.0 1554.0 L1716.0 1554.0 L1719.0 1554.0 L1722.0 1554.1 L1725.0 1554.1 L1728.0 1554.1 L1731.0 1554.1 L1734.0 1554.1 L1737.0 1554.2 L1740.0 1554.2 L1743.0 1554.2 L1746.0 1554.2 L1749.0 1554.2 L1752.0 1554.2 L1755.0 1554.3 L1758.0 1554.3 L1761.0 1554.3 L1764.0 1554.3 L1767.0 1554.3 L1770.0 1554.3 L1773.0 1554.4 L1776.0 1554.4 L1779.0 1554.4 L1782.0 1554.4 L1785.0 1554.4 L1788.0 1554.4 L1791.0 1554.5 L1794.0 1554.5 L1797.0 1554.5 L1800.0 1554.5 L1803.0 1554.5 L1806.0 1554.5 L1809.0 1554.5 L1812.0 1554.6 L1815.0 1554.6 L1818.0 1554.6 L1821.0 1554.6 L1824.0 1554.6 L1827.0 1554.6 L1830.0 1554.6 L1833.0 1554.6 L1836.0 1554.7 L1839.0 1554.7 L1842.0 1554.7 L1845.0 1554.7 L1848.0 1554.7 L1851.0 1554.7 L1854.0 1554.7 L1857.0 1554.7 L1860.0 1554.7 L1863.0 1554.8 L1866.0 1554.8 L1869.0 1554.8 L1872.0 1554.8 L1875.0 1554.8 L1878.0 1554.8 L1881.0 1554.8 L1884.0 1554.8 L1887.0 1554.8 L1890.0 1554.9 L1893.0 1554.9 L1896.0 1554.9 L1899.0 1554.9 L1902.0 1554.9 L1905.0 1554.9 L1908.0 1554.9 L1911.0 1554.9 L1914.0 1554.9 L1917.0 1554.9 L1920.0 1554.9 L1923.0 1555.0 L1926.0 1555.0 L1929.0 1555.0 L1932.0 1555.0" fill="none" stroke="#ff10ff" stroke-width="6.50" stroke-linejoin="round" stroke-linecap="butt"/>
<path d="M120.0 1562.0 L123.0 1562.0 L126.0 1562.0 L129.0 1562.0 L132.0 1562.0 L135.0 1562.0 L138.0 1562.0 L141.0 1562.0 L144.0 1562.0 L147.0 1562.0 L150.0 1562.0 L153.0 1562.0 L156.0 1562.0 L159.0 1562.0 L162.0 1562.0 L165.0 1562.0 L168.0 1562.0 L171.0 1562.0 L174.0 1562.0 L177.0 1562.0 L180.0 1562.0 L183.0 1562.0 L186.0 1562.0 L189.0 1562.0 L192.0 1562.0 L195.0 1562.0 L198.0 1562.0 L201.0 1562.0 L204.0 1562.0 L207.0 1562.0 L210.0 1562.0 L213.0 1562.0 L216.0 1562.0 L219.0 1562.0 L222.0 1562.0 L225.0 1562.0 L228.0 1562.0 L231.0 1562.0 L234.0 1562.0 L237.0 1562.0 L240.0 1562.0 L243.0 1562.0 L246.0 1562.0 L249.0 1562.0 L252.0 1562.0 L255.0 1562.0 L258.0 1562.0 L261.0 1562.0 L264.0 1562.0 L267.0 1562.0 L270.0 1562.0 L273.0 1562.0 L276.0 1562.0 L279.0 1562.0 L282.0 1561.9 L285.0 1561.9 L288.0 1561.9 L291.0 1561.9 L294.0 1561.9 L297.0 1561.9 L300.0 1561.9 L303.0 1561.9 L306.0 1561.9 L309.0 1561.9 L312.0 1561.9 L315.0 1561.9 L318.0 1561.9 L321.0 1561.9 L324.0 1561.9 L327.0 1561.9 L330.0 1561.9 L333.0 1561.9 L336.0 1561.9 L339.0 1561.9 L342.0 1561.8 L345.0 1561.8 L348.0 1561.8 L351.0 1561.8 L354.0 1561.8 L357.0 1561.8 L360.0 1561.8 L363.0 1561.8 L366.0 1561.8 L369.0 1561.8 L372.0 1561.8 L375.0 1561.8 L378.0 1561.8 L381.0 1561.8 L384.0 1561.7 L387.0 1561.7 L390.0 1561.7 L393.0 1561.7 L396.0 1561.7 L399.0 1561.7 L402.0 1561.7 L405.0 1561.7 L408.0 1561.7 L411.0 1561.6 L414.0 1561.6 L417.0 1561.6 L420.0 1561.6 L423.0 1561.6 L426.0 1561.6 L429.0 1561.6 L432.0 1561.6 L435.0 1561.6 L438.0 1561.5 L441.0 1561.5 L444.0 1561.5 L447.0 1561.5 L450.0 1561.5 L453.0 1561.5 L456.0 1561.5 L459.0 1561.5 L462.0 1561.4 L465.0 1561.4 L468.0 1561.4 L471.0 1561.4 L474.0 1561.4 L477.0 1561.4 L480.0 1561.4 L483.0 1561.4 L486.0 1561.3 L489.0 1561.3 L492.0 1561.3 L495.0 1561.3 L498.0 1561.3 L501.0 1561.2 L504.0 1561.2 L507.0 1561.2 L510.0 1561.2 L513.0 1561.2 L516.0 1561.1 L519.0 1561.1 L522.0 1561.1 L525.0 1561.1 L528.0 1561.0 L531.0 1561.0 L534.0 1561.0 L537.0 1561.0 L540.0 1560.9 L543.0 1560.9 L546.0 1560.9 L549.0 1560.9 L552.0 1560.8 L555.0 1560.8 L558.0 1560.8 L561.0 1560.7 L564.0 1560.7 L567.0 1560.7 L570.0 1560.7 L573.0 1560.6 L576.0 1560.6 L579.0 1560.6 L582.0 1560.5 L585.0 1560.5 L588.0 1560.5 L591.0 1560.5 L594.0 1560.4 L597.0 1560.4 L600.0 1560.4 L603.0 1560.3 L606.0 1560.3 L609.0 1560.2 L612.0 1560.2 L615.0 1560.1 L618.0 1560.1 L621.0 1560.0 L624.0 1560.0 L627.0 1559.9 L630.0 1559.9 L633.0 1559.8 L636.0 1559.8 L639.0 1559.7 L642.0 1559.7 L645.0 1559.7 L648.0 1559.6 L651.0 1559.6 L654.0 1559.5 L657.0 1559.5 L660.0 1559.4 L663.0 1559.4 L666.0 1559.3 L669.0 1559.3 L672.0 1559.2 L675.0 1559.2 L678.0 1559.1 L681.0 1559.1 L684.0 1559.0 L687.0 1559.0 L690.0 1559.0 L693.0 1558.9 L696.0 1558.9 L699.0 1558.8 L702.0 1558.8 L705.0 1558.7 L708.0 1558.7 L711.0 1558.6 L714.0 1558.6 L717.0 1558.5 L720.0 1558.5 L723.0 1558.4 L726.0 1558.4 L729.0 1558.3 L732.0 1558.3 L735.0 1558.2 L738.0 1558.2 L741.0 1558.1 L744.0 1558.1 L747.0 1558.0 L750.0 1558.0 L753.0 1557.9 L756.0 1557.9 L759.0 1557.8 L762.0 1557.8 L765.0 1557.7 L768.0 1557.6 L771.0 1557.6 L774.0 1557.5 L777.0 1557.5 L780.0 1557.4 L783.0 1557.4 L786.0 1557.3 L789.0 1557.2 L792.0 1557.2 L795.0 1557.1 L798.0 1557.1 L801.0 1557.0 L804.0 1556.9 L807.0 1556.9 L810.0 1556.8 L813.0 1556.8 L816.0 1556.7 L819.0 1556.6 L822.0 1556.6 L825.0 1556.5 L828.0 1556.4 L831.0 1556.4 L834.0 1556.3 L837.0 1556.3 L840.0 1556.2 L843.0 1556.1 L846.0 1556.1 L849.0 1556.0 L852.0 1556.0 L855.0 1555.9 L858.0 1555.8 L861.0 1555.8 L864.0 1555.7 L867.0 1555.7 L870.0 1555.6 L873.0 1555.6 L876.0 1555.5 L879.0 1555.5 L882.0 1555.4 L885.0 1555.4 L888.0 1555.3 L891.0 1555.3 L894.0 1555.2 L897.0 1555.2 L900.0 1555.1 L903.0 1555.1 L906.0 1555.0 L909.0 1555.0 L912.0 1554.9 L915.0 1554.9 L918.0 1554.9 L921.0 1554.8 L924.0 1554.8 L927.0 1554.7 L930.0 1554.7 L933.0 1554.6 L936.0 1554.6 L939.0 1554.6 L942.0 1554.5 L945.0 1554.5 L948.0 1554.4 L951.0 1554.4 L954.0 1554.3 L957.0 1554.3 L960.0 1554.2 L963.0 1554.2 L966.0 1554.1 L969.0 1554.1 L972.0 1554.0 L975.0 1554.0 L978.0 1553.9 L981.0 1553.9 L984.0 1553.8 L987.0 1553.8 L990.0 1553.7 L993.0 1553.6 L996.0 1553.6 L999.0 1553.5 L1002.0 1553.5 L1005.0 1553.4 L1008.0 1553.3 L1011.0 1553.3 L1014.0 1553.2 L1017.0 1553.1 L1020.0 1553.1 L1023.0 1553.0 L1026.0 1552.9 L1029.0 1552.9 L1032.0 1552.8 L1035.0 1552.7 L1038.0 1552.6 L1041.0 1552.5 L1044.0 1552.4 L1047.0 1552.4 L1050.0 1552.3 L1053.0 1552.2 L1056.0 1552.1 L1059.0 1552.0 L1062.0 1551.8 L1065.0 1551.7 L1068.0 1551.6 L1071.0 1551.5 L1074.0 1551.4 L1077.0 1551.2 L1080.0 1551.1 L1083.0 1550.9 L1086.0 1550.8 L1089.0 1550.6 L1092.0 1550.4 L1095.0 1550.2 L1098.0 1550.0 L1101.0 1549.8 L1104.0 1549.6 L1107.0 1549.4 L1110.0 1549.2 L1113.0 1549.0 L1116.0 1548.8 L1119.0 1548.5 L1122.0 1548.3 L1125.0 1548.0 L1128.0 1547.7 L1131.0 1547.5 L1134.0 1547.2 L1137.0 1546.9 L1140.0 1546.6 L1143.0 1546.2 L1146.0 1545.9 L1149.0 1545.6 L1152.0 1545.2 L1155.0 1544.8 L1158.0 1544.4 L1161.0 1544.0 L1164.0 1543.6 L1167.0 1543.1 L1170.0 1542.6 L1173.0 1542.2 L1176.0 1541.6 L1179.0 1541.1 L1182.0 1540.5 L1185.0 1540.0 L1188.0 1539.4 L1191.0 1538.7 L1194.0 1538.1 L1197.0 1537.4 L1200.0 1536.7 L1203.0 1536.0 L1206.0 1535.3 L1209.0 1534.5 L1212.0 1533.7 L1215.0 1533.0 L1218.0 1532.1 L1221.0 1531.3 L1224.0 1530.5 L1227.0 1529.6 L1230.0 1528.7 L1233.0 1527.8 L1236.0 1526.9 L1239.0 1525.9 L1242.0 1525.0 L1245.0 1524.0 L1248.0 1523.1 L1251.0 1522.1 L1254.0 1521.1 L1257.0 1520.2 L1260.0 1519.2 L1263.0 1518.2 L1266.0 1517.3 L1269.0 1516.3 L1272.0 1515.4 L1275.0 1514.5 L1278.0 1513.6 L1281.0 1512.8 L1284.0 1511.9 L1287.0 1511.2 L1290.0 1510.4 L1293.0 1509.7 L1296.0 1509.0 L1299.0 1508.4 L1302.0 1507.8 L1305.0 1507.2 L1308.0 1506.7 L1311.0 1506.2 L1314.0 1505.8 L1317.0 1505.5 L1320.0 1505.1 L1323.0 1504.9 L1326.0 1504.6 L1329.0 1504.5 L1332.0 1504.4 L1335.0 1504.3 L1338.0 1504.3 L1341.0 1504.4 L1344.0 1504.6 L1347.0 1504.9 L1350.0 1505.3 L1353.0 1505.8 L1356.0 1506.3 L1359.0 1506.9 L1362.0 1507.7 L1365.0 1508.4 L1368.0 1509.2 L1371.0 1510.1 L1374.0 1511.1 L1377.0 1512.0 L1380.0 1513.0 L1383.0 1514.1 L1386.0 1515.1 L1389.0 1516.2 L1392.0 1517.2 L1395.0 1518.3 L1398.0 1519.4 L1401.0 1520.5 L1404.0 1521.5 L1407.0 1522.6 L1410.0 1523.7 L1413.0 1524.7 L1416.0 1525.7 L1419.0 1526.7 L1422.0 1527.6 L1425.0 1528.6 L1428.0 1529.5 L1431.0 1530.4 L1434.0 1531.2 L1437.0 1532.1 L1440.0 1532.9 L1443.0 1533.7 L1446.0 1534.4 L1449.0 1535.1 L1452.0 1535.8 L1455.0 1536.5 L1458.0 1537.1 L1461.0 1537.7 L1464.0 1538.3 L1467.0 1538.9 L1470.0 1539.4 L1473.0 1539.9 L1476.0 1540.4 L1479.0 1540.8 L1482.0 1541.3 L1485.0 1541.7 L1488.0 1542.0 L1491.0 1542.4 L1494.0 1542.8 L1497.0 1543.1 L1500.0 1543.4 L1503.0 1543.7 L1506.0 1544.0 L1509.0 1544.2 L1512.0 1544.5 L1515.0 1544.7 L1518.0 1544.9 L1521.0 1545.2 L1524.0 1545.4 L1527.0 1545.6 L1530.0 1545.7 L1533.0 1545.9 L1536.0 1546.1 L1539.0 1546.3 L1542.0 1546.4 L1545.0 1546.6 L1548.0 1546.8 L1551.0 1546.9 L1554.0 1547.1 L1557.0 1547.2 L1560.0 1547.4 L1563.0 1547.6 L1566.0 1547.7 L1569.0 1547.9 L1572.0 1548.1 L1575.0 1548.2 L1578.0 1548.4 L1581.0 1548.6 L1584.0 1548.7 L1587.0 1548.9 L1590.0 1549.1 L1593.0 1549.2 L1596.0 1549.3 L1599.0 1549.5 L1602.0 1549.6 L1605.0 1549.7 L1608.0 1549.8 L1611.0 1549.9 L1614.0 1550.0 L1617.0 1550.1 L1620.0 1550.1 L1623.0 1550.2 L1626.0 1550.2 L1629.0 1550.3 L1632.0 1550.3 L1635.0 1550.3 L1638.0 1550.4 L1641.0 1550.4 L1644.0 1550.4 L1647.0 1550.4 L1650.0 1550.4 L1653.0 1550.5 L1656.0 1550.5 L1659.0 1550.5 L1662.0 1550.5 L1665.0 1550.5 L1668.0 1550.5 L1671.0 1550.5 L1674.0 1550.5 L1677.0 1550.5 L1680.0 1550.5 L1683.0 1550.5 L1686.0 1550.5 L1689.0 1550.5 L1692.0 1550.5 L1695.0 1550.5 L1698.0 1550.5 L1701.0 1550.5 L1704.0 1550.5 L1707.0 1550.5 L1710.0 1550.5 L1713.0 1550.6 L1716.0 1550.6 L1719.0 1550.6 L1722.0 1550.6 L1725.0 1550.6 L1728.0 1550.6 L1731.0 1550.6 L1734.0 1550.6 L1737.0 1550.6 L1740.0 1550.6 L1743.0 1550.6 L1746.0 1550.6 L1749.0 1550.6 L1752.0 1550.6 L1755.0 1550.6 L1758.0 1550.6 L1761.0 1550.6 L1764.0 1550.6 L1767.0 1550.6 L1770.0 1550.6 L1773.0 1550.6 L1776.0 1550.6 L1779.0 1550.5 L1782.0 1550.5 L1785.0 1550.5 L1788.0 1550.5 L1791.0 1550.5 L1794.0 1550.5 L1797.0 1550.5 L1800.0 1550.5 L1803.0 1550.5 L1806.0 1550.5 L1809.0 1550.5 L1812.0 1550.5 L1815.0 1550.5 L1818.0 1550.5 L1821.0 1550.5 L1824.0 1550.5 L1827.0 1550.5 L1830.0 1550.5 L1833.0 1550.5 L1836.0 1550.5 L1839.0 1550.5 L1842.0 1550.5 L1845.0 1550.5 L1848.0 1550.5 L1851.0 1550.5 L1854.0 1550.5 L1857.0 1550.5 L1860.0 1550.5 L1863.0 1550.5 L1866.0 1550.5 L1869.0 1550.5 L1872.0 1550.5 L1875.0 1550.5 L1878.0 1550.5 L1881.0 1550.5 L1884.0 1550.5 L1887.0 1550.5 L1890.0 1550.5 L1893.0 1550.5 L1896.0 1550.5 L1899.0 1550.5 L1902.0 1550.5 L1905.0 1550.5 L1908.0 1550.5 L1911.0 1550.5 L1914.0 1550.5 L1917.0 1550.5 L1920.0 1550.5 L1923.0 1550.5 L1926.0 1550.5 L1929.0 1550.5 L1932.0 1550.5" fill="none" stroke="#1010ff" stroke-width="6.50" stroke-linejoin="round" stroke-linecap="butt"/>
</g>
<rect x="1927.50" y="337.00" width="8.50" height="25.00" fill="#ff1010"/>
<rect x="164.36" y="415.02" width="137.87" height="4.44" fill="#cccccc"/>
<rect x="159.91" y="415.02" width="4.45" height="4.44" fill="#f4f4f4"/>
<rect x="297.78" y="415.02" width="4.45" height="4.44" fill="#d4d4d4"/>
<rect x="164.36" y="419.47" width="137.87" height="4.44" fill="#080808"/>
<rect x="159.91" y="419.47" width="4.45" height="4.44" fill="#c9c9c9"/>
<rect x="297.78" y="419.47" width="4.45" height="4.44" fill="#2d2d2d"/>
<rect x="164.36" y="423.91" width="137.87" height="4.44" fill="#808080"/>
<rect x="159.91" y="423.91" width="4.45" height="4.44" fill="#e3e3e3"/>
<rect x="297.78" y="423.91" width="4.45" height="4.44" fill="#939393"/>
<rect x="164.36" y="486.13" width="137.87" height="4.44" fill="#ffecec"/>
<rect x="159.91" y="486.13" width="4.45" height="4.44" fill="#fffbfb"/>
<rect x="297.78" y="486.13" width="4.45" height="4.44" fill="#ffefef"/>
<rect x="164.36" y="490.58" width="137.87" height="4.44" fill="#ff3030"/>
<rect x="159.91" y="490.58" width="4.45" height="4.44" fill="#ffd1d1"/>
<rect x="297.78" y="490.58" width="4.45" height="4.44" fill="#ff4f4f"/>
<rect x="164.36" y="495.02" width="137.87" height="4.44" fill="#ff3030"/>
<rect x="159.91" y="495.02" width="4.45" height="4.44" fill="#ffd1d1"/>
<rect x="297.78" y="495.02" width="4.45" height="4.44" fill="#ff4f4f"/>
<rect x="164.36" y="499.47" width="137.87" height="4.44" fill="#fff0f0"/>
<rect x="159.91" y="499.47" width="4.45" height="4.44" fill="#fffcfc"/>
<rect x="297.78" y="499.47" width="4.45" height="4.44" fill="#fff2f2"/>
<rect x="164.36" y="561.69" width="137.87" height="4.44" fill="#28b060"/>
<rect x="159.91" y="561.69" width="4.45" height="4.44" fill="#d0eedc"/>
<rect x="297.78" y="561.69" width="4.45" height="4.44" fill="#48bc78"/>
<rect x="164.36" y="566.13" width="137.87" height="4.44" fill="#008000"/>
<rect x="159.91" y="566.13" width="4.45" height="4.44" fill="#c7e3c7"/>
<rect x="297.78" y="566.13" width="4.45" height="4.44" fill="#269326"/>
<rect x="164.36" y="570.58" width="137.87" height="4.44" fill="#d8f0e0"/>
<rect x="159.91" y="570.58" width="4.45" height="4.44" fill="#f6fcf8"/>
<rect x="297.78" y="570.58" width="4.45" height="4.44" fill="#def2e5"/>
<rect x="164.36" y="632.80" width="137.87" height="4.44" fill="#ffa0ff"/>
<rect x="159.91" y="632.80" width="4.45" height="4.44" fill="#ffeaff"/>
<rect x="297.78" y="632.80" width="4.45" height="4.44" fill="#ffaeff"/>
<rect x="164.36" y="637.25" width="137.87" height="4.44" fill="#ff00ff"/>
<rect x="159.91" y="637.25" width="4.45" height="4.44" fill="#ffc7ff"/>
<rect x="297.78" y="637.25" width="4.45" height="4.44" fill="#ff26ff"/>
<rect x="164.36" y="641.69" width="137.87" height="4.44" fill="#ffa0ff"/>
<rect x="159.91" y="641.69" width="4.45" height="4.44" fill="#ffeaff"/>
<rect x="297.78" y="641.69" width="4.45" height="4.44" fill="#ffaeff"/>
<rect x="164.36" y="703.91" width="137.87" height="4.44" fill="#d4d4ff"/>
<rect x="159.91" y="703.91" width="4.45" height="4.44" fill="#f6f6ff"/>
<rect x="297.78" y="703.91" width="4.45" height="4.44" fill="#dadaff"/>
<rect x="164.36" y="708.36" width="137.87" height="4.44" fill="#0000ff"/>
<rect x="159.91" y="708.36" width="4.45" height="4.44" fill="#c7c7ff"/>
<rect x="297.78" y="708.36" width="4.45" height="4.44" fill="#2626ff"/>
<rect x="164.36" y="712.80" width="137.87" height="4.44" fill="#6868ff"/>
<rect x="159.91" y="712.80" width="4.45" height="4.44" fill="#dedeff"/>
<rect x="297.78" y="712.80" width="4.45" height="4.44" fill="#7f7fff"/>
<g fill="#805980" stroke="#805980" transform="translate(0.00 0)" filter="url(#lcd)" style="mix-blend-mode:multiply"><g id="labels" font-family='"Liberation Sans", Arial, Helvetica, sans-serif' stroke-width="0.10" stroke-linejoin="round">
<text x="174.0" y="1724.3" font-size="59.00" text-anchor="middle">410</text>
<text x="379.8" y="1724.3" font-size="59.00" text-anchor="middle">408</text>
<text x="585.6" y="1724.3" font-size="59.00" text-anchor="middle">406</text>
<text x="791.4" y="1724.3" font-size="59.00" text-anchor="middle">404</text>
<text x="997.2" y="1724.3" font-size="59.00" text-anchor="middle">402</text>
<text x="1203.0" y="1724.3" font-size="59.00" text-anchor="middle">400</text>
<text x="1408.8" y="1724.3" font-size="59.00" text-anchor="middle">398</text>
<text x="1614.6" y="1724.3" font-size="59.00" text-anchor="middle">396</text>
<text x="1820.4" y="1724.3" font-size="59.00" text-anchor="middle">394</text>
<text x="887.0" y="1807.5" font-size="59.00" text-anchor="start">Binding Energy (eV)</text>
<text x="0.0" y="0.0" font-size="59.00" text-anchor="start" transform="translate(64.5 1011.5) rotate(-90)">Intensity (a.u.)</text>
<text x="316.0" y="440.8" font-size="59.00" text-anchor="start">Intensity</text>
<text x="316.0" y="513.8" font-size="59.00" text-anchor="start">Background</text>
<text x="316.0" y="584.8" font-size="59.00" text-anchor="start">Graphitic N</text>
<text x="316.0" y="658.3" font-size="59.00" text-anchor="start">Pyrrolic N</text>
<text x="316.0" y="729.8" font-size="59.00" text-anchor="start">Pyridinic N</text>
<text x="1827.0" y="299.0" font-size="59.00" text-anchor="start">(d)</text>
<text x="1827.0" y="759.0" font-size="59.00" text-anchor="start">(c)</text>
<text x="1827.0" y="1159.0" font-size="59.00" text-anchor="start">(b)</text>
<text x="1827.0" y="1473.0" font-size="59.00" text-anchor="start">(a)</text>
</g></g>
<g fill="#598c9e" stroke="#598c9e" transform="translate(1.48 0)" filter="url(#lcd)" style="mix-blend-mode:multiply"><use href="#labels"/></g>
<g fill="#9e8c59" stroke="#9e8c59" transform="translate(-1.48 0)" filter="url(#lcd)" style="mix-blend-mode:multiply"><use href="#labels"/></g>
</g>
</svg>
</body>
</html>
